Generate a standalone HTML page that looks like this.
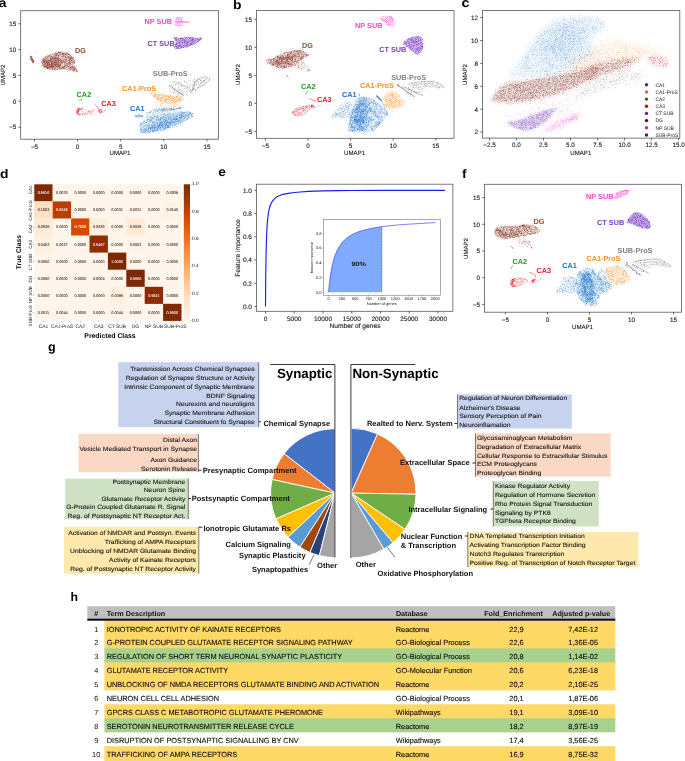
<!DOCTYPE html>
<html><head><meta charset="utf-8"><title>figure</title>
<style>html,body{margin:0;padding:0;background:#fff}svg{display:block;font-family:"Liberation Sans", sans-serif;will-change:transform}svg text{text-rendering:geometricPrecision}</style>
</head><body>
<svg width="685" height="761" viewBox="0 0 685 761" font-family='"Liberation Sans", sans-serif'>
<defs><filter id="bl0" x="-20%" y="-20%" width="140%" height="140%"><feGaussianBlur stdDeviation="0.9"/></filter><filter id="bl1" x="-20%" y="-20%" width="140%" height="140%"><feGaussianBlur stdDeviation="2"/></filter><filter id="bl2" x="-20%" y="-20%" width="140%" height="140%"><feGaussianBlur stdDeviation="3"/></filter><filter id="bl3" x="-20%" y="-20%" width="140%" height="140%"><feGaussianBlur stdDeviation="5"/></filter><filter id="bl4" x="-20%" y="-20%" width="140%" height="140%"><feGaussianBlur stdDeviation="2.5"/></filter><filter id="bl5" x="-20%" y="-20%" width="140%" height="140%"><feGaussianBlur stdDeviation="1.6"/></filter><filter id="bl6" x="-20%" y="-20%" width="140%" height="140%"><feGaussianBlur stdDeviation="1.3"/></filter><filter id="bl7" x="-20%" y="-20%" width="140%" height="140%"><feGaussianBlur stdDeviation="1.8"/></filter><filter id="sc0" x="-15%" y="-15%" width="130%" height="130%" color-interpolation-filters="sRGB"><feGaussianBlur in="SourceAlpha" stdDeviation="0.7" result="d"/><feTurbulence type="fractalNoise" baseFrequency="2.63" numOctaves="1" seed="3" result="t"/><feColorMatrix in="t" type="matrix" values="0 0 0 0 0 0 0 0 0 0 0 0 0 0 0 1 0 0 0 0" result="n"/><feTurbulence type="fractalNoise" baseFrequency="0.3" numOctaves="2" seed="43" result="t2"/><feColorMatrix in="t2" type="matrix" values="0 0 0 0 0 0 0 0 0 0 0 0 0 0 0 1 0 0 0 0" result="m"/><feComposite in="n" in2="m" operator="arithmetic" k1="0" k2="1" k3="0.4" k4="-0.200" result="n2"/><feComposite in="d" in2="n2" operator="arithmetic" k1="0" k2="1.256" k3="2.000" k4="-1.840" result="a"/><feMorphology in="SourceGraphic" operator="dilate" radius="2" result="c"/><feComposite in="c" in2="a" operator="in"/></filter><filter id="sc1" x="-15%" y="-15%" width="130%" height="130%" color-interpolation-filters="sRGB"><feGaussianBlur in="SourceAlpha" stdDeviation="1.5" result="d"/><feTurbulence type="fractalNoise" baseFrequency="2.63" numOctaves="1" seed="9" result="t"/><feColorMatrix in="t" type="matrix" values="0 0 0 0 0 0 0 0 0 0 0 0 0 0 0 1 0 0 0 0" result="n"/><feComposite in="d" in2="n" operator="arithmetic" k1="0" k2="0.782" k3="2.000" k4="-1.440" result="a"/><feMorphology in="SourceGraphic" operator="dilate" radius="2" result="c"/><feComposite in="c" in2="a" operator="in"/></filter><filter id="sc2" x="-15%" y="-15%" width="130%" height="130%" color-interpolation-filters="sRGB"><feGaussianBlur in="SourceAlpha" stdDeviation="0.5" result="d"/><feTurbulence type="fractalNoise" baseFrequency="2.63" numOctaves="1" seed="3" result="t"/><feColorMatrix in="t" type="matrix" values="0 0 0 0 0 0 0 0 0 0 0 0 0 0 0 1 0 0 0 0" result="n"/><feComposite in="d" in2="n" operator="arithmetic" k1="0" k2="1.150" k3="2.000" k4="-1.440" result="a"/><feMorphology in="SourceGraphic" operator="dilate" radius="2" result="c"/><feComposite in="c" in2="a" operator="in"/></filter><filter id="sc3" x="-15%" y="-15%" width="130%" height="130%" color-interpolation-filters="sRGB"><feGaussianBlur in="SourceAlpha" stdDeviation="0.5" result="d"/><feTurbulence type="fractalNoise" baseFrequency="2.63" numOctaves="1" seed="3" result="t"/><feColorMatrix in="t" type="matrix" values="0 0 0 0 0 0 0 0 0 0 0 0 0 0 0 1 0 0 0 0" result="n"/><feComposite in="d" in2="n" operator="arithmetic" k1="0" k2="0.944" k3="2.000" k4="-1.440" result="a"/><feMorphology in="SourceGraphic" operator="dilate" radius="2" result="c"/><feComposite in="c" in2="a" operator="in"/></filter><filter id="sc4" x="-15%" y="-15%" width="130%" height="130%" color-interpolation-filters="sRGB"><feGaussianBlur in="SourceAlpha" stdDeviation="0.7" result="d"/><feTurbulence type="fractalNoise" baseFrequency="2.63" numOctaves="1" seed="8" result="t"/><feColorMatrix in="t" type="matrix" values="0 0 0 0 0 0 0 0 0 0 0 0 0 0 0 1 0 0 0 0" result="n"/><feComposite in="d" in2="n" operator="arithmetic" k1="0" k2="0.476" k3="2.000" k4="-1.440" result="a"/><feMorphology in="SourceGraphic" operator="dilate" radius="2" result="c"/><feComposite in="c" in2="a" operator="in"/></filter><filter id="sc5" x="-15%" y="-15%" width="130%" height="130%" color-interpolation-filters="sRGB"><feGaussianBlur in="SourceAlpha" stdDeviation="0.5" result="d"/><feTurbulence type="fractalNoise" baseFrequency="2.63" numOctaves="1" seed="3" result="t"/><feColorMatrix in="t" type="matrix" values="0 0 0 0 0 0 0 0 0 0 0 0 0 0 0 1 0 0 0 0" result="n"/><feComposite in="d" in2="n" operator="arithmetic" k1="0" k2="0.782" k3="2.000" k4="-1.440" result="a"/><feMorphology in="SourceGraphic" operator="dilate" radius="2" result="c"/><feComposite in="c" in2="a" operator="in"/></filter><filter id="sc6" x="-15%" y="-15%" width="130%" height="130%" color-interpolation-filters="sRGB"><feGaussianBlur in="SourceAlpha" stdDeviation="0.7" result="d"/><feTurbulence type="fractalNoise" baseFrequency="2.63" numOctaves="1" seed="3" result="t"/><feColorMatrix in="t" type="matrix" values="0 0 0 0 0 0 0 0 0 0 0 0 0 0 0 1 0 0 0 0" result="n"/><feComposite in="d" in2="n" operator="arithmetic" k1="0" k2="0.682" k3="2.000" k4="-1.440" result="a"/><feMorphology in="SourceGraphic" operator="dilate" radius="2" result="c"/><feComposite in="c" in2="a" operator="in"/></filter><filter id="sc7" x="-15%" y="-15%" width="130%" height="130%" color-interpolation-filters="sRGB"><feGaussianBlur in="SourceAlpha" stdDeviation="1.3" result="d"/><feTurbulence type="fractalNoise" baseFrequency="2.63" numOctaves="1" seed="11" result="t"/><feColorMatrix in="t" type="matrix" values="0 0 0 0 0 0 0 0 0 0 0 0 0 0 0 1 0 0 0 0" result="n"/><feComposite in="d" in2="n" operator="arithmetic" k1="0" k2="0.608" k3="2.000" k4="-1.440" result="a"/><feMorphology in="SourceGraphic" operator="dilate" radius="2" result="c"/><feComposite in="c" in2="a" operator="in"/></filter><filter id="sc8" x="-15%" y="-15%" width="130%" height="130%" color-interpolation-filters="sRGB"><feGaussianBlur in="SourceAlpha" stdDeviation="0.5" result="d"/><feTurbulence type="fractalNoise" baseFrequency="2.63" numOctaves="1" seed="5" result="t"/><feColorMatrix in="t" type="matrix" values="0 0 0 0 0 0 0 0 0 0 0 0 0 0 0 1 0 0 0 0" result="n"/><feComposite in="d" in2="n" operator="arithmetic" k1="0" k2="0.634" k3="2.000" k4="-1.440" result="a"/><feMorphology in="SourceGraphic" operator="dilate" radius="2" result="c"/><feComposite in="c" in2="a" operator="in"/></filter><filter id="sc9" x="-15%" y="-15%" width="130%" height="130%" color-interpolation-filters="sRGB"><feGaussianBlur in="SourceAlpha" stdDeviation="0.5" result="d"/><feTurbulence type="fractalNoise" baseFrequency="2.63" numOctaves="1" seed="7" result="t"/><feColorMatrix in="t" type="matrix" values="0 0 0 0 0 0 0 0 0 0 0 0 0 0 0 1 0 0 0 0" result="n"/><feComposite in="d" in2="n" operator="arithmetic" k1="0" k2="0.608" k3="2.000" k4="-1.440" result="a"/><feMorphology in="SourceGraphic" operator="dilate" radius="2" result="c"/><feComposite in="c" in2="a" operator="in"/></filter><filter id="sc10" x="-15%" y="-15%" width="130%" height="130%" color-interpolation-filters="sRGB"><feGaussianBlur in="SourceAlpha" stdDeviation="0.5" result="d"/><feTurbulence type="fractalNoise" baseFrequency="2.63" numOctaves="1" seed="3" result="t"/><feColorMatrix in="t" type="matrix" values="0 0 0 0 0 0 0 0 0 0 0 0 0 0 0 1 0 0 0 0" result="n"/><feComposite in="d" in2="n" operator="arithmetic" k1="0" k2="0.834" k3="2.000" k4="-1.440" result="a"/><feMorphology in="SourceGraphic" operator="dilate" radius="2" result="c"/><feComposite in="c" in2="a" operator="in"/></filter><filter id="sc11" x="-15%" y="-15%" width="130%" height="130%" color-interpolation-filters="sRGB"><feGaussianBlur in="SourceAlpha" stdDeviation="0.5" result="d"/><feTurbulence type="fractalNoise" baseFrequency="2.63" numOctaves="1" seed="6" result="t"/><feColorMatrix in="t" type="matrix" values="0 0 0 0 0 0 0 0 0 0 0 0 0 0 0 1 0 0 0 0" result="n"/><feComposite in="d" in2="n" operator="arithmetic" k1="0" k2="0.682" k3="2.000" k4="-1.440" result="a"/><feMorphology in="SourceGraphic" operator="dilate" radius="2" result="c"/><feComposite in="c" in2="a" operator="in"/></filter><filter id="sc12" x="-15%" y="-15%" width="130%" height="130%" color-interpolation-filters="sRGB"><feGaussianBlur in="SourceAlpha" stdDeviation="0.7" result="d"/><feTurbulence type="fractalNoise" baseFrequency="2.63" numOctaves="1" seed="3" result="t"/><feColorMatrix in="t" type="matrix" values="0 0 0 0 0 0 0 0 0 0 0 0 0 0 0 1 0 0 0 0" result="n"/><feComposite in="d" in2="n" operator="arithmetic" k1="0" k2="0.730" k3="2.000" k4="-1.440" result="a"/><feMorphology in="SourceGraphic" operator="dilate" radius="2" result="c"/><feComposite in="c" in2="a" operator="in"/></filter><filter id="sc13" x="-15%" y="-15%" width="130%" height="130%" color-interpolation-filters="sRGB"><feGaussianBlur in="SourceAlpha" stdDeviation="0.7" result="d"/><feTurbulence type="fractalNoise" baseFrequency="2.63" numOctaves="1" seed="8" result="t"/><feColorMatrix in="t" type="matrix" values="0 0 0 0 0 0 0 0 0 0 0 0 0 0 0 1 0 0 0 0" result="n"/><feComposite in="d" in2="n" operator="arithmetic" k1="0" k2="0.430" k3="2.000" k4="-1.440" result="a"/><feMorphology in="SourceGraphic" operator="dilate" radius="2" result="c"/><feComposite in="c" in2="a" operator="in"/></filter><filter id="sc14" x="-15%" y="-15%" width="130%" height="130%" color-interpolation-filters="sRGB"><feGaussianBlur in="SourceAlpha" stdDeviation="0.7" result="d"/><feTurbulence type="fractalNoise" baseFrequency="2.63" numOctaves="1" seed="3" result="t"/><feColorMatrix in="t" type="matrix" values="0 0 0 0 0 0 0 0 0 0 0 0 0 0 0 1 0 0 0 0" result="n"/><feComposite in="d" in2="n" operator="arithmetic" k1="0" k2="0.384" k3="2.000" k4="-1.440" result="a"/><feMorphology in="SourceGraphic" operator="dilate" radius="2" result="c"/><feComposite in="c" in2="a" operator="in"/></filter><filter id="sc15" x="-15%" y="-15%" width="130%" height="130%" color-interpolation-filters="sRGB"><feGaussianBlur in="SourceAlpha" stdDeviation="0.7" result="d"/><feTurbulence type="fractalNoise" baseFrequency="2.63" numOctaves="1" seed="3" result="t"/><feColorMatrix in="t" type="matrix" values="0 0 0 0 0 0 0 0 0 0 0 0 0 0 0 1 0 0 0 0" result="n"/><feComposite in="d" in2="n" operator="arithmetic" k1="0" k2="0.658" k3="2.000" k4="-1.440" result="a"/><feMorphology in="SourceGraphic" operator="dilate" radius="2" result="c"/><feComposite in="c" in2="a" operator="in"/></filter><filter id="sc16" x="-15%" y="-15%" width="130%" height="130%" color-interpolation-filters="sRGB"><feGaussianBlur in="SourceAlpha" stdDeviation="0.7" result="d"/><feTurbulence type="fractalNoise" baseFrequency="2.63" numOctaves="1" seed="3" result="t"/><feColorMatrix in="t" type="matrix" values="0 0 0 0 0 0 0 0 0 0 0 0 0 0 0 1 0 0 0 0" result="n"/><feComposite in="d" in2="n" operator="arithmetic" k1="0" k2="0.966" k3="2.000" k4="-1.440" result="a"/><feMorphology in="SourceGraphic" operator="dilate" radius="2" result="c"/><feComposite in="c" in2="a" operator="in"/></filter><filter id="sc17" x="-15%" y="-15%" width="130%" height="130%" color-interpolation-filters="sRGB"><feGaussianBlur in="SourceAlpha" stdDeviation="0.7" result="d"/><feTurbulence type="fractalNoise" baseFrequency="2.63" numOctaves="1" seed="3" result="t"/><feColorMatrix in="t" type="matrix" values="0 0 0 0 0 0 0 0 0 0 0 0 0 0 0 1 0 0 0 0" result="n"/><feTurbulence type="fractalNoise" baseFrequency="0.3" numOctaves="2" seed="43" result="t2"/><feColorMatrix in="t2" type="matrix" values="0 0 0 0 0 0 0 0 0 0 0 0 0 0 0 1 0 0 0 0" result="m"/><feComposite in="n" in2="m" operator="arithmetic" k1="0" k2="1" k3="0.4" k4="-0.200" result="n2"/><feComposite in="d" in2="n2" operator="arithmetic" k1="0" k2="1.172" k3="2.000" k4="-1.840" result="a"/><feMorphology in="SourceGraphic" operator="dilate" radius="2" result="c"/><feComposite in="c" in2="a" operator="in"/></filter><filter id="sc18" x="-15%" y="-15%" width="130%" height="130%" color-interpolation-filters="sRGB"><feGaussianBlur in="SourceAlpha" stdDeviation="1.5" result="d"/><feTurbulence type="fractalNoise" baseFrequency="2.63" numOctaves="1" seed="9" result="t"/><feColorMatrix in="t" type="matrix" values="0 0 0 0 0 0 0 0 0 0 0 0 0 0 0 1 0 0 0 0" result="n"/><feComposite in="d" in2="n" operator="arithmetic" k1="0" k2="0.670" k3="2.000" k4="-1.440" result="a"/><feMorphology in="SourceGraphic" operator="dilate" radius="2" result="c"/><feComposite in="c" in2="a" operator="in"/></filter><filter id="sc19" x="-15%" y="-15%" width="130%" height="130%" color-interpolation-filters="sRGB"><feGaussianBlur in="SourceAlpha" stdDeviation="1.0" result="d"/><feTurbulence type="fractalNoise" baseFrequency="2.63" numOctaves="1" seed="8" result="t"/><feColorMatrix in="t" type="matrix" values="0 0 0 0 0 0 0 0 0 0 0 0 0 0 0 1 0 0 0 0" result="n"/><feComposite in="d" in2="n" operator="arithmetic" k1="0" k2="0.504" k3="2.000" k4="-1.440" result="a"/><feMorphology in="SourceGraphic" operator="dilate" radius="2" result="c"/><feComposite in="c" in2="a" operator="in"/></filter><filter id="sc20" x="-15%" y="-15%" width="130%" height="130%" color-interpolation-filters="sRGB"><feGaussianBlur in="SourceAlpha" stdDeviation="0.5" result="d"/><feTurbulence type="fractalNoise" baseFrequency="2.63" numOctaves="1" seed="3" result="t"/><feColorMatrix in="t" type="matrix" values="0 0 0 0 0 0 0 0 0 0 0 0 0 0 0 1 0 0 0 0" result="n"/><feComposite in="d" in2="n" operator="arithmetic" k1="0" k2="0.530" k3="2.000" k4="-1.440" result="a"/><feMorphology in="SourceGraphic" operator="dilate" radius="2" result="c"/><feComposite in="c" in2="a" operator="in"/></filter><filter id="sc21" x="-15%" y="-15%" width="130%" height="130%" color-interpolation-filters="sRGB"><feGaussianBlur in="SourceAlpha" stdDeviation="0.7" result="d"/><feTurbulence type="fractalNoise" baseFrequency="2.63" numOctaves="1" seed="3" result="t"/><feColorMatrix in="t" type="matrix" values="0 0 0 0 0 0 0 0 0 0 0 0 0 0 0 1 0 0 0 0" result="n"/><feTurbulence type="fractalNoise" baseFrequency="0.22" numOctaves="2" seed="43" result="t2"/><feColorMatrix in="t2" type="matrix" values="0 0 0 0 0 0 0 0 0 0 0 0 0 0 0 1 0 0 0 0" result="m"/><feComposite in="n" in2="m" operator="arithmetic" k1="0" k2="1" k3="0.5" k4="-0.250" result="n2"/><feComposite in="d" in2="n2" operator="arithmetic" k1="0" k2="1.108" k3="2.000" k4="-1.940" result="a"/><feMorphology in="SourceGraphic" operator="dilate" radius="2" result="c"/><feComposite in="c" in2="a" operator="in"/></filter><filter id="sc22" x="-15%" y="-15%" width="130%" height="130%" color-interpolation-filters="sRGB"><feGaussianBlur in="SourceAlpha" stdDeviation="2.0" result="d"/><feTurbulence type="fractalNoise" baseFrequency="2.63" numOctaves="1" seed="11" result="t"/><feColorMatrix in="t" type="matrix" values="0 0 0 0 0 0 0 0 0 0 0 0 0 0 0 1 0 0 0 0" result="n"/><feTurbulence type="fractalNoise" baseFrequency="0.3" numOctaves="2" seed="51" result="t2"/><feColorMatrix in="t2" type="matrix" values="0 0 0 0 0 0 0 0 0 0 0 0 0 0 0 1 0 0 0 0" result="m"/><feComposite in="n" in2="m" operator="arithmetic" k1="0" k2="1" k3="0.6" k4="-0.300" result="n2"/><feComposite in="d" in2="n2" operator="arithmetic" k1="0" k2="1.392" k3="2.000" k4="-2.040" result="a"/><feMorphology in="SourceGraphic" operator="dilate" radius="2" result="c"/><feComposite in="c" in2="a" operator="in"/></filter><filter id="sc23" x="-15%" y="-15%" width="130%" height="130%" color-interpolation-filters="sRGB"><feGaussianBlur in="SourceAlpha" stdDeviation="2.0" result="d"/><feTurbulence type="fractalNoise" baseFrequency="2.63" numOctaves="1" seed="12" result="t"/><feColorMatrix in="t" type="matrix" values="0 0 0 0 0 0 0 0 0 0 0 0 0 0 0 1 0 0 0 0" result="n"/><feComposite in="d" in2="n" operator="arithmetic" k1="0" k2="0.544" k3="2.000" k4="-1.440" result="a"/><feMorphology in="SourceGraphic" operator="dilate" radius="2" result="c"/><feComposite in="c" in2="a" operator="in"/></filter><filter id="sc24" x="-15%" y="-15%" width="130%" height="130%" color-interpolation-filters="sRGB"><feGaussianBlur in="SourceAlpha" stdDeviation="0.7" result="d"/><feTurbulence type="fractalNoise" baseFrequency="2.63" numOctaves="1" seed="3" result="t"/><feColorMatrix in="t" type="matrix" values="0 0 0 0 0 0 0 0 0 0 0 0 0 0 0 1 0 0 0 0" result="n"/><feComposite in="d" in2="n" operator="arithmetic" k1="0" k2="0.530" k3="2.000" k4="-1.440" result="a"/><feMorphology in="SourceGraphic" operator="dilate" radius="2" result="c"/><feComposite in="c" in2="a" operator="in"/></filter><filter id="sc25" x="-15%" y="-15%" width="130%" height="130%" color-interpolation-filters="sRGB"><feGaussianBlur in="SourceAlpha" stdDeviation="1.2" result="d"/><feTurbulence type="fractalNoise" baseFrequency="2.63" numOctaves="1" seed="3" result="t"/><feColorMatrix in="t" type="matrix" values="0 0 0 0 0 0 0 0 0 0 0 0 0 0 0 1 0 0 0 0" result="n"/><feComposite in="d" in2="n" operator="arithmetic" k1="0" k2="0.658" k3="2.000" k4="-1.440" result="a"/><feMorphology in="SourceGraphic" operator="dilate" radius="2" result="c"/><feComposite in="c" in2="a" operator="in"/></filter><filter id="sc26" x="-15%" y="-15%" width="130%" height="130%" color-interpolation-filters="sRGB"><feGaussianBlur in="SourceAlpha" stdDeviation="1.2" result="d"/><feTurbulence type="fractalNoise" baseFrequency="2.63" numOctaves="1" seed="8" result="t"/><feColorMatrix in="t" type="matrix" values="0 0 0 0 0 0 0 0 0 0 0 0 0 0 0 1 0 0 0 0" result="n"/><feComposite in="d" in2="n" operator="arithmetic" k1="0" k2="0.476" k3="2.000" k4="-1.440" result="a"/><feMorphology in="SourceGraphic" operator="dilate" radius="2" result="c"/><feComposite in="c" in2="a" operator="in"/></filter><filter id="sc27" x="-15%" y="-15%" width="130%" height="130%" color-interpolation-filters="sRGB"><feGaussianBlur in="SourceAlpha" stdDeviation="0.7" result="d"/><feTurbulence type="fractalNoise" baseFrequency="2.63" numOctaves="1" seed="3" result="t"/><feColorMatrix in="t" type="matrix" values="0 0 0 0 0 0 0 0 0 0 0 0 0 0 0 1 0 0 0 0" result="n"/><feComposite in="d" in2="n" operator="arithmetic" k1="0" k2="0.634" k3="2.000" k4="-1.440" result="a"/><feMorphology in="SourceGraphic" operator="dilate" radius="2" result="c"/><feComposite in="c" in2="a" operator="in"/></filter><filter id="sc28" x="-15%" y="-15%" width="130%" height="130%" color-interpolation-filters="sRGB"><feGaussianBlur in="SourceAlpha" stdDeviation="3" result="d"/><feTurbulence type="fractalNoise" baseFrequency="2.63" numOctaves="1" seed="21" result="t"/><feColorMatrix in="t" type="matrix" values="0 0 0 0 0 0 0 0 0 0 0 0 0 0 0 1 0 0 0 0" result="n"/><feComposite in="d" in2="n" operator="arithmetic" k1="0" k2="0.280" k3="2.000" k4="-1.440" result="a"/><feMorphology in="SourceGraphic" operator="dilate" radius="2" result="c"/><feComposite in="c" in2="a" operator="in"/></filter><filter id="sc29" x="-15%" y="-15%" width="130%" height="130%" color-interpolation-filters="sRGB"><feGaussianBlur in="SourceAlpha" stdDeviation="2.5" result="d"/><feTurbulence type="fractalNoise" baseFrequency="2.63" numOctaves="1" seed="3" result="t"/><feColorMatrix in="t" type="matrix" values="0 0 0 0 0 0 0 0 0 0 0 0 0 0 0 1 0 0 0 0" result="n"/><feComposite in="d" in2="n" operator="arithmetic" k1="0" k2="0.430" k3="2.000" k4="-1.440" result="a"/><feMorphology in="SourceGraphic" operator="dilate" radius="2" result="c"/><feComposite in="c" in2="a" operator="in"/></filter><filter id="sc30" x="-15%" y="-15%" width="130%" height="130%" color-interpolation-filters="sRGB"><feGaussianBlur in="SourceAlpha" stdDeviation="5" result="d"/><feTurbulence type="fractalNoise" baseFrequency="2.63" numOctaves="1" seed="11" result="t"/><feColorMatrix in="t" type="matrix" values="0 0 0 0 0 0 0 0 0 0 0 0 0 0 0 1 0 0 0 0" result="n"/><feComposite in="d" in2="n" operator="arithmetic" k1="0" k2="0.406" k3="2.000" k4="-1.440" result="a"/><feMorphology in="SourceGraphic" operator="dilate" radius="2" result="c"/><feComposite in="c" in2="a" operator="in"/></filter><filter id="sc31" x="-15%" y="-15%" width="130%" height="130%" color-interpolation-filters="sRGB"><feGaussianBlur in="SourceAlpha" stdDeviation="2.5" result="d"/><feTurbulence type="fractalNoise" baseFrequency="2.63" numOctaves="1" seed="3" result="t"/><feColorMatrix in="t" type="matrix" values="0 0 0 0 0 0 0 0 0 0 0 0 0 0 0 1 0 0 0 0" result="n"/><feComposite in="d" in2="n" operator="arithmetic" k1="0" k2="0.406" k3="2.000" k4="-1.440" result="a"/><feMorphology in="SourceGraphic" operator="dilate" radius="2" result="c"/><feComposite in="c" in2="a" operator="in"/></filter><filter id="sc32" x="-15%" y="-15%" width="130%" height="130%" color-interpolation-filters="sRGB"><feGaussianBlur in="SourceAlpha" stdDeviation="2.5" result="d"/><feTurbulence type="fractalNoise" baseFrequency="2.63" numOctaves="1" seed="3" result="t"/><feColorMatrix in="t" type="matrix" values="0 0 0 0 0 0 0 0 0 0 0 0 0 0 0 1 0 0 0 0" result="n"/><feComposite in="d" in2="n" operator="arithmetic" k1="0" k2="0.384" k3="2.000" k4="-1.440" result="a"/><feMorphology in="SourceGraphic" operator="dilate" radius="2" result="c"/><feComposite in="c" in2="a" operator="in"/></filter><filter id="sc33" x="-15%" y="-15%" width="130%" height="130%" color-interpolation-filters="sRGB"><feGaussianBlur in="SourceAlpha" stdDeviation="2.5" result="d"/><feTurbulence type="fractalNoise" baseFrequency="2.63" numOctaves="1" seed="3" result="t"/><feColorMatrix in="t" type="matrix" values="0 0 0 0 0 0 0 0 0 0 0 0 0 0 0 1 0 0 0 0" result="n"/><feComposite in="d" in2="n" operator="arithmetic" k1="0" k2="0.476" k3="2.000" k4="-1.440" result="a"/><feMorphology in="SourceGraphic" operator="dilate" radius="2" result="c"/><feComposite in="c" in2="a" operator="in"/></filter><filter id="sc34" x="-15%" y="-15%" width="130%" height="130%" color-interpolation-filters="sRGB"><feGaussianBlur in="SourceAlpha" stdDeviation="1.3" result="d"/><feTurbulence type="fractalNoise" baseFrequency="2.63" numOctaves="1" seed="9" result="t"/><feColorMatrix in="t" type="matrix" values="0 0 0 0 0 0 0 0 0 0 0 0 0 0 0 1 0 0 0 0" result="n"/><feComposite in="d" in2="n" operator="arithmetic" k1="0" k2="0.544" k3="2.000" k4="-1.440" result="a"/><feMorphology in="SourceGraphic" operator="dilate" radius="2" result="c"/><feComposite in="c" in2="a" operator="in"/></filter><filter id="sc35" x="-15%" y="-15%" width="130%" height="130%" color-interpolation-filters="sRGB"><feGaussianBlur in="SourceAlpha" stdDeviation="1.8" result="d"/><feTurbulence type="fractalNoise" baseFrequency="2.63" numOctaves="1" seed="10" result="t"/><feColorMatrix in="t" type="matrix" values="0 0 0 0 0 0 0 0 0 0 0 0 0 0 0 1 0 0 0 0" result="n"/><feComposite in="d" in2="n" operator="arithmetic" k1="0" k2="0.476" k3="2.000" k4="-1.440" result="a"/><feMorphology in="SourceGraphic" operator="dilate" radius="2" result="c"/><feComposite in="c" in2="a" operator="in"/></filter><filter id="sc36" x="-15%" y="-15%" width="130%" height="130%" color-interpolation-filters="sRGB"><feGaussianBlur in="SourceAlpha" stdDeviation="1.8" result="d"/><feTurbulence type="fractalNoise" baseFrequency="2.63" numOctaves="1" seed="3" result="t"/><feColorMatrix in="t" type="matrix" values="0 0 0 0 0 0 0 0 0 0 0 0 0 0 0 1 0 0 0 0" result="n"/><feComposite in="d" in2="n" operator="arithmetic" k1="0" k2="0.490" k3="2.000" k4="-1.440" result="a"/><feMorphology in="SourceGraphic" operator="dilate" radius="2" result="c"/><feComposite in="c" in2="a" operator="in"/></filter><filter id="sc37" x="-15%" y="-15%" width="130%" height="130%" color-interpolation-filters="sRGB"><feGaussianBlur in="SourceAlpha" stdDeviation="1.0" result="d"/><feTurbulence type="fractalNoise" baseFrequency="2.63" numOctaves="1" seed="3" result="t"/><feColorMatrix in="t" type="matrix" values="0 0 0 0 0 0 0 0 0 0 0 0 0 0 0 1 0 0 0 0" result="n"/><feComposite in="d" in2="n" operator="arithmetic" k1="0" k2="0.658" k3="2.000" k4="-1.440" result="a"/><feMorphology in="SourceGraphic" operator="dilate" radius="2" result="c"/><feComposite in="c" in2="a" operator="in"/></filter><filter id="sc38" x="-15%" y="-15%" width="130%" height="130%" color-interpolation-filters="sRGB"><feGaussianBlur in="SourceAlpha" stdDeviation="3" result="d"/><feTurbulence type="fractalNoise" baseFrequency="2.63" numOctaves="1" seed="22" result="t"/><feColorMatrix in="t" type="matrix" values="0 0 0 0 0 0 0 0 0 0 0 0 0 0 0 1 0 0 0 0" result="n"/><feComposite in="d" in2="n" operator="arithmetic" k1="0" k2="0.320" k3="2.000" k4="-1.440" result="a"/><feMorphology in="SourceGraphic" operator="dilate" radius="2" result="c"/><feComposite in="c" in2="a" operator="in"/></filter><filter id="sc39" x="-15%" y="-15%" width="130%" height="130%" color-interpolation-filters="sRGB"><feGaussianBlur in="SourceAlpha" stdDeviation="1.6" result="d"/><feTurbulence type="fractalNoise" baseFrequency="2.63" numOctaves="1" seed="3" result="t"/><feColorMatrix in="t" type="matrix" values="0 0 0 0 0 0 0 0 0 0 0 0 0 0 0 1 0 0 0 0" result="n"/><feComposite in="d" in2="n" operator="arithmetic" k1="0" k2="0.490" k3="2.000" k4="-1.440" result="a"/><feMorphology in="SourceGraphic" operator="dilate" radius="2" result="c"/><feComposite in="c" in2="a" operator="in"/></filter><filter id="sc40" x="-15%" y="-15%" width="130%" height="130%" color-interpolation-filters="sRGB"><feGaussianBlur in="SourceAlpha" stdDeviation="1.2" result="d"/><feTurbulence type="fractalNoise" baseFrequency="2.63" numOctaves="1" seed="12" result="t"/><feColorMatrix in="t" type="matrix" values="0 0 0 0 0 0 0 0 0 0 0 0 0 0 0 1 0 0 0 0" result="n"/><feComposite in="d" in2="n" operator="arithmetic" k1="0" k2="0.504" k3="2.000" k4="-1.440" result="a"/><feMorphology in="SourceGraphic" operator="dilate" radius="2" result="c"/><feComposite in="c" in2="a" operator="in"/></filter><filter id="sc41" x="-15%" y="-15%" width="130%" height="130%" color-interpolation-filters="sRGB"><feGaussianBlur in="SourceAlpha" stdDeviation="3" result="d"/><feTurbulence type="fractalNoise" baseFrequency="2.63" numOctaves="1" seed="23" result="t"/><feColorMatrix in="t" type="matrix" values="0 0 0 0 0 0 0 0 0 0 0 0 0 0 0 1 0 0 0 0" result="n"/><feComposite in="d" in2="n" operator="arithmetic" k1="0" k2="0.320" k3="2.000" k4="-1.440" result="a"/><feMorphology in="SourceGraphic" operator="dilate" radius="2" result="c"/><feComposite in="c" in2="a" operator="in"/></filter><filter id="sc42" x="-15%" y="-15%" width="130%" height="130%" color-interpolation-filters="sRGB"><feGaussianBlur in="SourceAlpha" stdDeviation="1.2" result="d"/><feTurbulence type="fractalNoise" baseFrequency="2.63" numOctaves="1" seed="9" result="t"/><feColorMatrix in="t" type="matrix" values="0 0 0 0 0 0 0 0 0 0 0 0 0 0 0 1 0 0 0 0" result="n"/><feComposite in="d" in2="n" operator="arithmetic" k1="0" k2="0.670" k3="2.000" k4="-1.440" result="a"/><feMorphology in="SourceGraphic" operator="dilate" radius="2" result="c"/><feComposite in="c" in2="a" operator="in"/></filter><filter id="sc43" x="-15%" y="-15%" width="130%" height="130%" color-interpolation-filters="sRGB"><feGaussianBlur in="SourceAlpha" stdDeviation="0.5" result="d"/><feTurbulence type="fractalNoise" baseFrequency="2.63" numOctaves="1" seed="8" result="t"/><feColorMatrix in="t" type="matrix" values="0 0 0 0 0 0 0 0 0 0 0 0 0 0 0 1 0 0 0 0" result="n"/><feComposite in="d" in2="n" operator="arithmetic" k1="0" k2="0.530" k3="2.000" k4="-1.440" result="a"/><feMorphology in="SourceGraphic" operator="dilate" radius="2" result="c"/><feComposite in="c" in2="a" operator="in"/></filter><filter id="sc44" x="-15%" y="-15%" width="130%" height="130%" color-interpolation-filters="sRGB"><feGaussianBlur in="SourceAlpha" stdDeviation="1.8" result="d"/><feTurbulence type="fractalNoise" baseFrequency="2.63" numOctaves="1" seed="11" result="t"/><feColorMatrix in="t" type="matrix" values="0 0 0 0 0 0 0 0 0 0 0 0 0 0 0 1 0 0 0 0" result="n"/><feTurbulence type="fractalNoise" baseFrequency="0.3" numOctaves="2" seed="51" result="t2"/><feColorMatrix in="t2" type="matrix" values="0 0 0 0 0 0 0 0 0 0 0 0 0 0 0 1 0 0 0 0" result="m"/><feComposite in="n" in2="m" operator="arithmetic" k1="0" k2="1" k3="0.6" k4="-0.300" result="n2"/><feComposite in="d" in2="n2" operator="arithmetic" k1="0" k2="1.434" k3="2.000" k4="-2.040" result="a"/><feMorphology in="SourceGraphic" operator="dilate" radius="2" result="c"/><feComposite in="c" in2="a" operator="in"/></filter><filter id="sc45" x="-15%" y="-15%" width="130%" height="130%" color-interpolation-filters="sRGB"><feGaussianBlur in="SourceAlpha" stdDeviation="0.7" result="d"/><feTurbulence type="fractalNoise" baseFrequency="2.63" numOctaves="1" seed="3" result="t"/><feColorMatrix in="t" type="matrix" values="0 0 0 0 0 0 0 0 0 0 0 0 0 0 0 1 0 0 0 0" result="n"/><feComposite in="d" in2="n" operator="arithmetic" k1="0" k2="0.516" k3="2.000" k4="-1.440" result="a"/><feMorphology in="SourceGraphic" operator="dilate" radius="2" result="c"/><feComposite in="c" in2="a" operator="in"/></filter><filter id="sc46" x="-15%" y="-15%" width="130%" height="130%" color-interpolation-filters="sRGB"><feGaussianBlur in="SourceAlpha" stdDeviation="1.2" result="d"/><feTurbulence type="fractalNoise" baseFrequency="2.63" numOctaves="1" seed="8" result="t"/><feColorMatrix in="t" type="matrix" values="0 0 0 0 0 0 0 0 0 0 0 0 0 0 0 1 0 0 0 0" result="n"/><feComposite in="d" in2="n" operator="arithmetic" k1="0" k2="0.430" k3="2.000" k4="-1.440" result="a"/><feMorphology in="SourceGraphic" operator="dilate" radius="2" result="c"/><feComposite in="c" in2="a" operator="in"/></filter><filter id="sc47" x="-15%" y="-15%" width="130%" height="130%" color-interpolation-filters="sRGB"><feGaussianBlur in="SourceAlpha" stdDeviation="0.7" result="d"/><feTurbulence type="fractalNoise" baseFrequency="2.63" numOctaves="1" seed="3" result="t"/><feColorMatrix in="t" type="matrix" values="0 0 0 0 0 0 0 0 0 0 0 0 0 0 0 1 0 0 0 0" result="n"/><feComposite in="d" in2="n" operator="arithmetic" k1="0" k2="0.814" k3="2.000" k4="-1.440" result="a"/><feMorphology in="SourceGraphic" operator="dilate" radius="2" result="c"/><feComposite in="c" in2="a" operator="in"/></filter></defs>
<rect width="685" height="761" fill="#fff"/>
<text x="-1.2" y="6.9" font-size="12.4" font-weight="bold" textLength="7.7" lengthAdjust="spacingAndGlyphs" fill="#000">a</text>
<rect x="20.7" y="10.7" width="197.7" height="128.5" fill="none" stroke="#595959" stroke-width="0.8"/>
<line x1="34.5" y1="139.2" x2="34.5" y2="141.4" stroke="#333" stroke-width="0.75"/>
<text x="34.5" y="148.5" font-size="6.3" text-anchor="middle" fill="#161616" stroke="#161616" stroke-width="0.1">−5</text>
<line x1="77.6" y1="139.2" x2="77.6" y2="141.4" stroke="#333" stroke-width="0.75"/>
<text x="77.6" y="148.5" font-size="6.3" text-anchor="middle" fill="#161616" stroke="#161616" stroke-width="0.1">0</text>
<line x1="120.7" y1="139.2" x2="120.7" y2="141.4" stroke="#333" stroke-width="0.75"/>
<text x="120.7" y="148.5" font-size="6.3" text-anchor="middle" fill="#161616" stroke="#161616" stroke-width="0.1">5</text>
<line x1="163.8" y1="139.2" x2="163.8" y2="141.4" stroke="#333" stroke-width="0.75"/>
<text x="163.8" y="148.5" font-size="6.3" text-anchor="middle" fill="#161616" stroke="#161616" stroke-width="0.1">10</text>
<line x1="206.9" y1="139.2" x2="206.9" y2="141.4" stroke="#333" stroke-width="0.75"/>
<text x="206.9" y="148.5" font-size="6.3" text-anchor="middle" fill="#161616" stroke="#161616" stroke-width="0.1">15</text>
<line x1="18.5" y1="127.2" x2="20.7" y2="127.2" stroke="#333" stroke-width="0.75"/>
<text x="16.2" y="129.4" font-size="6.3" text-anchor="end" fill="#161616" stroke="#161616" stroke-width="0.1">−5</text>
<line x1="18.5" y1="101.3" x2="20.7" y2="101.3" stroke="#333" stroke-width="0.75"/>
<text x="16.2" y="103.6" font-size="6.3" text-anchor="end" fill="#161616" stroke="#161616" stroke-width="0.1">0</text>
<line x1="18.5" y1="75.4" x2="20.7" y2="75.4" stroke="#333" stroke-width="0.75"/>
<text x="16.2" y="77.7" font-size="6.3" text-anchor="end" fill="#161616" stroke="#161616" stroke-width="0.1">5</text>
<line x1="18.5" y1="49.6" x2="20.7" y2="49.6" stroke="#333" stroke-width="0.75"/>
<text x="16.2" y="51.9" font-size="6.3" text-anchor="end" fill="#161616" stroke="#161616" stroke-width="0.1">10</text>
<line x1="18.5" y1="23.8" x2="20.7" y2="23.8" stroke="#333" stroke-width="0.75"/>
<text x="16.2" y="26.0" font-size="6.3" text-anchor="end" fill="#161616" stroke="#161616" stroke-width="0.1">15</text>
<text x="120.0" y="155.3" font-size="6.1" text-anchor="middle" fill="#161616" stroke="#161616" stroke-width="0.1">UMAP1</text>
<text x="4.8" y="75.0" font-size="6.1" text-anchor="middle" transform="rotate(-90 4.8 75.0)" fill="#161616" stroke="#161616" stroke-width="0.1">UMAP2</text>
<path d="M41.2 61.3C41.5 59.8 42.2 58.1 43.8 56.9C45.4 55.7 47.9 54.9 50.8 54.0C53.7 53.1 58.5 51.5 61.3 51.3C64.1 51.1 65.8 51.9 67.5 52.6C69.2 53.3 70.6 54.7 71.8 55.7C73.0 56.7 73.8 57.6 74.5 58.7C75.2 59.8 75.7 61.2 75.7 62.2C75.7 63.2 74.3 63.6 74.5 64.8C74.7 66.0 76.5 67.9 77.1 69.2C77.7 70.5 78.9 72.0 78.3 72.4C77.7 72.8 75.5 72.2 73.6 71.8C71.6 71.4 68.3 70.5 66.6 70.1C64.8 69.7 64.6 69.2 63.1 69.2C61.6 69.2 59.8 69.9 57.8 70.1C55.8 70.2 52.8 70.4 50.8 70.1C48.8 69.8 47.0 69.0 45.5 68.3C44.0 67.6 42.7 66.9 42.0 65.7C41.3 64.5 40.9 62.8 41.2 61.3Z" fill="#8c3b2e" opacity="0.15" filter="url(#bl0)"/>
<path d="M41.2 61.3C41.5 59.8 42.2 58.1 43.8 56.9C45.4 55.7 47.9 54.9 50.8 54.0C53.7 53.1 58.5 51.5 61.3 51.3C64.1 51.1 65.8 51.9 67.5 52.6C69.2 53.3 70.6 54.7 71.8 55.7C73.0 56.7 73.8 57.6 74.5 58.7C75.2 59.8 75.7 61.2 75.7 62.2C75.7 63.2 74.3 63.6 74.5 64.8C74.7 66.0 76.5 67.9 77.1 69.2C77.7 70.5 78.9 72.0 78.3 72.4C77.7 72.8 75.5 72.2 73.6 71.8C71.6 71.4 68.3 70.5 66.6 70.1C64.8 69.7 64.6 69.2 63.1 69.2C61.6 69.2 59.8 69.9 57.8 70.1C55.8 70.2 52.8 70.4 50.8 70.1C48.8 69.8 47.0 69.0 45.5 68.3C44.0 67.6 42.7 66.9 42.0 65.7C41.3 64.5 40.9 62.8 41.2 61.3Z" fill="#8c3b2e" filter="url(#sc0)"/>
<path d="M61.8 61.8C62.0 62.8 61.5 64.2 60.5 65.3C59.5 66.3 57.7 67.5 56.0 68.1C54.2 68.8 51.8 69.2 49.9 69.2C48.0 69.2 45.9 68.7 44.6 68.1C43.3 67.4 42.3 66.3 42.2 65.2C42.0 64.2 42.5 62.8 43.5 61.7C44.5 60.7 46.3 59.5 48.0 58.9C49.8 58.2 52.2 57.8 54.1 57.8C56.0 57.8 58.1 58.3 59.4 58.9C60.7 59.6 61.7 60.7 61.8 61.8Z" fill="#8c3b2e" opacity="0.15" filter="url(#bl0)"/>
<path d="M61.8 61.8C62.0 62.8 61.5 64.2 60.5 65.3C59.5 66.3 57.7 67.5 56.0 68.1C54.2 68.8 51.8 69.2 49.9 69.2C48.0 69.2 45.9 68.7 44.6 68.1C43.3 67.4 42.3 66.3 42.2 65.2C42.0 64.2 42.5 62.8 43.5 61.7C44.5 60.7 46.3 59.5 48.0 58.9C49.8 58.2 52.2 57.8 54.1 57.8C56.0 57.8 58.1 58.3 59.4 58.9C60.7 59.6 61.7 60.7 61.8 61.8Z" fill="#8c3b2e" filter="url(#sc1)"/>
<path d="M30.1 56.0C30.4 55.7 31.5 55.5 32.0 56.0C32.5 56.5 32.6 58.0 33.0 59.0C33.4 60.0 34.3 61.2 34.4 62.0C34.5 62.8 34.2 63.5 33.8 63.6C33.4 63.7 32.7 63.4 32.2 62.8C31.7 62.2 31.2 60.8 30.8 60.0C30.4 59.2 30.1 58.7 30.0 58.0C29.9 57.3 29.8 56.3 30.1 56.0Z" fill="#8c3b2e" opacity="0.3" filter="url(#bl0)"/>
<path d="M30.1 56.0C30.4 55.7 31.5 55.5 32.0 56.0C32.5 56.5 32.6 58.0 33.0 59.0C33.4 60.0 34.3 61.2 34.4 62.0C34.5 62.8 34.2 63.5 33.8 63.6C33.4 63.7 32.7 63.4 32.2 62.8C31.7 62.2 31.2 60.8 30.8 60.0C30.4 59.2 30.1 58.7 30.0 58.0C29.9 57.3 29.8 56.3 30.1 56.0Z" fill="#8c3b2e" filter="url(#sc2)"/>
<path d="M36.2 51.5C36.3 51.6 36.8 52.2 36.9 52.4" fill="none" stroke="#8c3b2e" stroke-width="0.9" stroke-linecap="butt" opacity="0.75" stroke-dasharray=".8 .5 1.6 .4 .6 .6 2.2 .5"/>
<text x="75.1" y="53.2" font-size="7.3" font-weight="bold" fill="#9c4a3a">DG</text>
<path d="M79.4 100.8C79.9 100.5 81.6 99.1 82.1 98.8" fill="none" stroke="#22a022" stroke-width="0.9" stroke-linecap="butt" opacity="0.94"/>
<text x="76.6" y="97.1" font-size="7.3" font-weight="bold" fill="#1fa01f">CA2</text>
<path d="M76.0 112.0C76.0 111.0 76.3 109.7 77.0 109.0C77.7 108.3 79.0 107.8 80.0 107.6C81.0 107.4 82.8 107.3 83.2 107.6C83.6 107.9 83.0 108.9 82.4 109.4C81.8 109.9 80.3 109.8 79.8 110.4C79.3 111.0 79.0 112.3 79.2 113.0C79.4 113.7 81.1 114.0 81.2 114.4C81.3 114.8 80.7 115.3 80.0 115.4C79.3 115.5 77.9 115.4 77.2 114.8C76.5 114.2 76.0 113.0 76.0 112.0Z" fill="#e8283a" opacity="0.15" filter="url(#bl0)"/>
<path d="M76.0 112.0C76.0 111.0 76.3 109.7 77.0 109.0C77.7 108.3 79.0 107.8 80.0 107.6C81.0 107.4 82.8 107.3 83.2 107.6C83.6 107.9 83.0 108.9 82.4 109.4C81.8 109.9 80.3 109.8 79.8 110.4C79.3 111.0 79.0 112.3 79.2 113.0C79.4 113.7 81.1 114.0 81.2 114.4C81.3 114.8 80.7 115.3 80.0 115.4C79.3 115.5 77.9 115.4 77.2 114.8C76.5 114.2 76.0 113.0 76.0 112.0Z" fill="#e8283a" filter="url(#sc3)"/>
<path d="M80.0 115.6C80.2 114.8 82.5 112.5 84.0 111.5C85.5 110.5 87.3 110.1 89.0 109.8C90.7 109.5 93.1 109.2 94.0 109.4C94.9 109.6 95.3 110.2 94.5 111.0C93.7 111.8 90.9 113.2 89.0 114.0C87.1 114.8 84.5 115.7 83.0 116.0C81.5 116.3 79.8 116.3 80.0 115.6Z" fill="#e8283a" opacity="0.04" filter="url(#bl0)"/>
<path d="M80.0 115.6C80.2 114.8 82.5 112.5 84.0 111.5C85.5 110.5 87.3 110.1 89.0 109.8C90.7 109.5 93.1 109.2 94.0 109.4C94.9 109.6 95.3 110.2 94.5 111.0C93.7 111.8 90.9 113.2 89.0 114.0C87.1 114.8 84.5 115.7 83.0 116.0C81.5 116.3 79.8 116.3 80.0 115.6Z" fill="#e8283a" filter="url(#sc4)"/>
<path d="M82.5 114.8C83.4 114.4 86.1 113.1 88.0 112.4C89.9 111.7 92.9 110.7 93.9 110.4" fill="none" stroke="#e8283a" stroke-width="0.8" stroke-linecap="butt" opacity="0.38" stroke-dasharray="1.3 .5 .7 .4 2 .6 .5 .5"/>
<path d="M81.0 112.5C81.5 112.2 83.1 111.0 84.0 110.5C84.9 110.0 86.1 109.5 86.5 109.3" fill="none" stroke="#e8283a" stroke-width="0.7" stroke-linecap="butt" opacity="0.38" stroke-dasharray=".8 .5 1.6 .4 .6 .6 2.2 .5"/>
<path d="M90.8 114.3C91.0 114.3 91.6 114.3 91.8 114.3" fill="none" stroke="#e8283a" stroke-width="1.0" stroke-linecap="butt" opacity="0.88"/>
<path d="M103.2 111.2C103.2 111.7 103.0 112.2 102.7 112.6C102.3 112.9 101.8 113.2 101.3 113.4C100.7 113.5 100.1 113.5 99.5 113.4C99.0 113.2 98.5 112.9 98.1 112.6C97.8 112.2 97.6 111.7 97.6 111.2C97.6 110.7 97.8 110.2 98.1 109.8C98.5 109.5 99.0 109.2 99.5 109.0C100.1 108.9 100.7 108.9 101.3 109.0C101.8 109.2 102.3 109.5 102.7 109.8C103.0 110.2 103.2 110.7 103.2 111.2Z" fill="#e8283a" opacity="0.08" filter="url(#bl0)"/>
<path d="M103.2 111.2C103.2 111.7 103.0 112.2 102.7 112.6C102.3 112.9 101.8 113.2 101.3 113.4C100.7 113.5 100.1 113.5 99.5 113.4C99.0 113.2 98.5 112.9 98.1 112.6C97.8 112.2 97.6 111.7 97.6 111.2C97.6 110.7 97.8 110.2 98.1 109.8C98.5 109.5 99.0 109.2 99.5 109.0C100.1 108.9 100.7 108.9 101.3 109.0C101.8 109.2 102.3 109.5 102.7 109.8C103.0 110.2 103.2 110.7 103.2 111.2Z" fill="#e8283a" filter="url(#sc5)"/>
<path d="M94.8 104.3C95.1 104.6 96.1 105.6 96.8 106.3C97.5 107.0 98.4 108.2 98.7 108.6" fill="none" stroke="#e8283a" stroke-width="0.8" stroke-linecap="butt" opacity="0.75"/>
<path d="M98.5 108.5C98.6 108.9 98.8 110.2 99.0 111.0C99.2 111.8 99.4 113.1 99.5 113.5" fill="none" stroke="#e8283a" stroke-width="0.8" stroke-linecap="butt" opacity="0.62" stroke-dasharray=".8 .5 1.6 .4 .6 .6 2.2 .5"/>
<path d="M103.3 112.3C103.5 112.0 104.2 111.3 104.6 110.8C105.0 110.3 105.5 109.4 105.7 109.1" fill="none" stroke="#e8283a" stroke-width="0.7" stroke-linecap="butt" opacity="0.62"/>
<text x="101.3" y="106.3" font-size="7.3" font-weight="bold" fill="#e3192b">CA3</text>
<path d="M145.0 118.0C144.7 117.2 146.8 114.9 148.0 113.5C149.2 112.1 150.3 110.6 152.4 109.5C154.5 108.4 157.2 107.3 160.3 107.0C163.4 106.7 167.6 107.6 170.8 107.5C174.0 107.4 177.7 106.3 179.6 106.3C181.5 106.3 182.1 106.9 182.2 107.6C182.3 108.3 181.7 109.7 180.0 110.5C178.3 111.3 175.3 111.8 172.0 112.5C168.7 113.2 163.7 114.0 160.0 115.0C156.3 116.0 152.5 118.0 150.0 118.5C147.5 119.0 145.3 118.8 145.0 118.0Z" fill="#2f7fd0" opacity="0.05" filter="url(#bl0)"/>
<path d="M145.0 118.0C144.7 117.2 146.8 114.9 148.0 113.5C149.2 112.1 150.3 110.6 152.4 109.5C154.5 108.4 157.2 107.3 160.3 107.0C163.4 106.7 167.6 107.6 170.8 107.5C174.0 107.4 177.7 106.3 179.6 106.3C181.5 106.3 182.1 106.9 182.2 107.6C182.3 108.3 181.7 109.7 180.0 110.5C178.3 111.3 175.3 111.8 172.0 112.5C168.7 113.2 163.7 114.0 160.0 115.0C156.3 116.0 152.5 118.0 150.0 118.5C147.5 119.0 145.3 118.8 145.0 118.0Z" fill="#2f7fd0" filter="url(#sc4)"/>
<path d="M139.6 124.5C140.2 123.2 141.3 122.2 143.0 121.0C144.7 119.8 147.2 118.6 150.0 117.5C152.8 116.4 156.7 115.3 160.0 114.5C163.3 113.7 166.7 113.0 170.0 112.5C173.3 112.0 177.0 111.7 180.0 111.5C183.0 111.3 185.9 111.3 188.0 111.5C190.1 111.7 191.9 112.0 192.7 112.8C193.4 113.6 193.3 115.4 192.5 116.5C191.7 117.6 189.9 118.3 188.0 119.5C186.1 120.7 183.7 122.1 181.0 123.5C178.3 124.9 175.2 126.5 172.0 127.8C168.8 129.1 165.7 130.3 162.0 131.2C158.3 132.1 153.6 132.7 150.0 133.0C146.4 133.3 142.2 133.7 140.5 133.0C138.8 132.3 139.7 130.4 139.5 129.0C139.3 127.6 139.0 125.8 139.6 124.5Z" fill="#2f7fd0" opacity="0.11" filter="url(#bl0)"/>
<path d="M139.6 124.5C140.2 123.2 141.3 122.2 143.0 121.0C144.7 119.8 147.2 118.6 150.0 117.5C152.8 116.4 156.7 115.3 160.0 114.5C163.3 113.7 166.7 113.0 170.0 112.5C173.3 112.0 177.0 111.7 180.0 111.5C183.0 111.3 185.9 111.3 188.0 111.5C190.1 111.7 191.9 112.0 192.7 112.8C193.4 113.6 193.3 115.4 192.5 116.5C191.7 117.6 189.9 118.3 188.0 119.5C186.1 120.7 183.7 122.1 181.0 123.5C178.3 124.9 175.2 126.5 172.0 127.8C168.8 129.1 165.7 130.3 162.0 131.2C158.3 132.1 153.6 132.7 150.0 133.0C146.4 133.3 142.2 133.7 140.5 133.0C138.8 132.3 139.7 130.4 139.5 129.0C139.3 127.6 139.0 125.8 139.6 124.5Z" fill="#2f7fd0" filter="url(#sc6)"/>
<path d="M189.0 114.3C189.3 115.1 188.0 116.8 185.6 118.4C183.3 120.1 179.1 122.4 175.0 124.2C170.9 126.0 165.4 128.1 161.1 129.4C156.8 130.7 152.1 131.7 149.3 132.0C146.4 132.3 144.3 131.9 144.0 131.1C143.7 130.3 145.0 128.6 147.4 127.0C149.7 125.3 153.9 123.0 158.0 121.2C162.1 119.4 167.6 117.3 171.9 116.0C176.2 114.7 180.9 113.7 183.7 113.4C186.6 113.1 188.7 113.5 189.0 114.3Z" fill="#2f7fd0" opacity="0.08" filter="url(#bl0)"/>
<path d="M189.0 114.3C189.3 115.1 188.0 116.8 185.6 118.4C183.3 120.1 179.1 122.4 175.0 124.2C170.9 126.0 165.4 128.1 161.1 129.4C156.8 130.7 152.1 131.7 149.3 132.0C146.4 132.3 144.3 131.9 144.0 131.1C143.7 130.3 145.0 128.6 147.4 127.0C149.7 125.3 153.9 123.0 158.0 121.2C162.1 119.4 167.6 117.3 171.9 116.0C176.2 114.7 180.9 113.7 183.7 113.4C186.6 113.1 188.7 113.5 189.0 114.3Z" fill="#2f7fd0" filter="url(#sc7)"/>
<path d="M142.1 130.2C142.2 130.4 140.1 131.2 143.2 130.6C146.2 130.0 154.8 128.2 160.3 126.5C165.9 124.9 171.6 122.4 176.4 120.5C181.2 118.6 187.0 116.1 189.2 115.1C191.5 114.0 189.9 114.4 189.8 114.2C189.7 114.0 191.2 113.2 188.8 113.9C186.4 114.6 180.5 116.7 175.6 118.5C170.8 120.2 165.1 122.6 159.7 124.5C154.2 126.3 145.8 128.5 142.8 129.4C139.9 130.4 142.1 130.0 142.1 130.2Z" fill="#2f7fd0" filter="url(#sc8)"/>
<path d="M149.3 132.0C149.3 132.1 147.4 132.8 150.1 132.3C152.8 131.8 160.3 130.8 165.3 129.2C170.3 127.5 177.6 123.5 180.2 122.3C182.8 121.0 180.7 121.7 180.7 121.5C180.6 121.4 182.5 120.4 179.8 121.3C177.1 122.3 169.7 125.8 164.7 127.4C159.7 129.1 152.5 130.6 149.9 131.3C147.3 132.1 149.3 131.8 149.3 132.0Z" fill="#2f7fd0" filter="url(#sc9)"/>
<path d="M134.3 116.0C134.3 115.5 135.2 114.9 136.0 114.6C136.8 114.3 138.0 114.3 139.0 114.3C140.0 114.3 141.2 114.5 142.0 114.8C142.8 115.1 143.7 115.5 143.7 116.0C143.7 116.5 142.8 117.2 142.0 117.5C141.2 117.8 140.0 117.8 139.0 117.8C138.0 117.8 136.8 117.7 136.0 117.4C135.2 117.1 134.3 116.5 134.3 116.0Z" fill="#2f7fd0" opacity="0.12" filter="url(#bl0)"/>
<path d="M134.3 116.0C134.3 115.5 135.2 114.9 136.0 114.6C136.8 114.3 138.0 114.3 139.0 114.3C140.0 114.3 141.2 114.5 142.0 114.8C142.8 115.1 143.7 115.5 143.7 116.0C143.7 116.5 142.8 117.2 142.0 117.5C141.2 117.8 140.0 117.8 139.0 117.8C138.0 117.8 136.8 117.7 136.0 117.4C135.2 117.1 134.3 116.5 134.3 116.0Z" fill="#2f7fd0" filter="url(#sc10)"/>
<path d="M146.0 113.2C146.0 113.5 145.1 113.9 147.2 113.7C149.2 113.5 154.4 112.3 158.2 111.8C162.0 111.3 166.3 111.2 170.2 110.6C174.1 110.0 179.5 108.8 181.6 108.3C183.7 107.8 182.6 107.7 182.5 107.4C182.5 107.2 183.5 106.8 181.4 106.9C179.3 107.0 173.8 107.6 169.8 108.0C165.9 108.4 161.6 108.5 157.8 109.2C154.0 109.9 148.8 111.6 146.8 112.3C144.9 113.0 145.9 113.0 146.0 113.2Z" fill="#2f7fd0" filter="url(#sc11)"/>
<path d="M170.0 110.3C171.0 110.1 174.1 109.4 176.0 108.9C177.9 108.4 180.6 107.7 181.5 107.5" fill="none" stroke="#1f5fb0" stroke-width="0.9" stroke-linecap="butt" opacity="0.62" stroke-dasharray="1.3 .5 .7 .4 2 .6 .5 .5"/>
<path d="M188.5 112.0C188.9 112.3 190.1 113.0 190.8 113.8C191.5 114.6 192.3 116.3 192.6 116.8" fill="none" stroke="#1f5fb0" stroke-width="0.9" stroke-linecap="butt" opacity="0.69" stroke-dasharray=".8 .5 1.6 .4 .6 .6 2.2 .5"/>
<text x="129.9" y="110.6" font-size="7.3" font-weight="bold" fill="#1f6fc6">CA1</text>
<path d="M149.8 92.3C150.2 91.7 152.7 92.8 155.0 93.1C157.3 93.4 160.9 93.5 163.8 94.0C166.7 94.5 169.7 95.4 172.6 95.8C175.5 96.2 179.6 96.0 181.3 96.6C183.1 97.2 183.4 98.4 183.1 99.3C182.8 100.2 181.3 101.2 179.6 101.9C177.8 102.6 175.2 103.6 172.6 103.7C170.0 103.8 166.3 103.4 163.8 102.8C161.3 102.2 159.6 101.1 157.7 100.1C155.8 99.1 153.7 97.9 152.4 96.6C151.1 95.3 149.4 92.9 149.8 92.3Z" fill="#ff962e" opacity="0.12" filter="url(#bl0)"/>
<path d="M149.8 92.3C150.2 91.7 152.7 92.8 155.0 93.1C157.3 93.4 160.9 93.5 163.8 94.0C166.7 94.5 169.7 95.4 172.6 95.8C175.5 96.2 179.6 96.0 181.3 96.6C183.1 97.2 183.4 98.4 183.1 99.3C182.8 100.2 181.3 101.2 179.6 101.9C177.8 102.6 175.2 103.6 172.6 103.7C170.0 103.8 166.3 103.4 163.8 102.8C161.3 102.2 159.6 101.1 157.7 100.1C155.8 99.1 153.7 97.9 152.4 96.6C151.1 95.3 149.4 92.9 149.8 92.3Z" fill="#ff962e" filter="url(#sc12)"/>
<path d="M156.0 101.0C157.5 100.5 161.3 102.7 165.0 103.0C168.7 103.3 175.3 102.5 178.0 103.0C180.7 103.5 182.0 104.9 181.0 106.0C180.0 107.1 175.2 109.0 172.0 109.5C168.8 110.0 164.7 109.6 162.0 109.0C159.3 108.4 157.0 107.3 156.0 106.0C155.0 104.7 154.5 101.5 156.0 101.0Z" fill="#ff962e" opacity="0.03" filter="url(#bl0)"/>
<path d="M156.0 101.0C157.5 100.5 161.3 102.7 165.0 103.0C168.7 103.3 175.3 102.5 178.0 103.0C180.7 103.5 182.0 104.9 181.0 106.0C180.0 107.1 175.2 109.0 172.0 109.5C168.8 110.0 164.7 109.6 162.0 109.0C159.3 108.4 157.0 107.3 156.0 106.0C155.0 104.7 154.5 101.5 156.0 101.0Z" fill="#ff962e" filter="url(#sc13)"/>
<text x="122.1" y="90.5" font-size="7.3" font-weight="bold" fill="#ff8c1a">CA1-ProS</text>
<path d="M166.9 85.6C168.0 84.5 171.1 83.1 174.6 82.3C178.1 81.5 184.1 81.3 188.0 80.6C191.9 79.9 195.0 78.5 198.1 77.9C201.2 77.3 204.5 76.9 206.5 77.2C208.5 77.5 210.2 78.5 209.9 79.9C209.6 81.3 207.1 83.8 204.8 85.6C202.6 87.4 199.2 89.0 196.4 90.7C193.6 92.4 190.8 94.6 188.0 95.7C185.2 96.8 182.5 97.7 179.7 97.4C176.9 97.1 173.3 95.4 171.3 94.0C169.3 92.6 168.6 90.4 167.9 89.0C167.2 87.6 165.8 86.7 166.9 85.6Z" fill="#5f5f5f" opacity="0.03" filter="url(#bl0)"/>
<path d="M166.9 85.6C168.0 84.5 171.1 83.1 174.6 82.3C178.1 81.5 184.1 81.3 188.0 80.6C191.9 79.9 195.0 78.5 198.1 77.9C201.2 77.3 204.5 76.9 206.5 77.2C208.5 77.5 210.2 78.5 209.9 79.9C209.6 81.3 207.1 83.8 204.8 85.6C202.6 87.4 199.2 89.0 196.4 90.7C193.6 92.4 190.8 94.6 188.0 95.7C185.2 96.8 182.5 97.7 179.7 97.4C176.9 97.1 173.3 95.4 171.3 94.0C169.3 92.6 168.6 90.4 167.9 89.0C167.2 87.6 165.8 86.7 166.9 85.6Z" fill="#5f5f5f" filter="url(#sc14)"/>
<path d="M169.2 85.3C170.3 86.1 173.6 88.5 176.0 90.2C178.4 91.9 182.3 94.5 183.6 95.4" fill="none" stroke="#2a2a2a" stroke-width="0.8" stroke-linecap="butt" opacity="0.88" stroke-dasharray="2 .4 .5 .5 1 .3 .7 .6"/>
<path d="M173.1 81.4C174.2 81.9 177.8 83.2 180.0 84.2C182.2 85.2 185.2 86.6 186.3 87.1" fill="none" stroke="#777" stroke-width="0.8" stroke-linecap="butt" opacity="0.56" stroke-dasharray="1.3 .5 .7 .4 2 .6 .5 .5"/>
<path d="M171.0 88.5C171.8 89.2 174.5 91.3 176.0 92.5C177.5 93.7 179.3 95.0 180.0 95.5" fill="none" stroke="#888" stroke-width="0.7" stroke-linecap="butt" opacity="0.38" stroke-dasharray=".8 .5 1.6 .4 .6 .6 2.2 .5"/>
<path d="M178.0 88.0C178.8 88.5 181.5 90.0 183.0 91.0C184.5 92.0 186.3 93.5 187.0 94.0" fill="none" stroke="#999" stroke-width="0.7" stroke-linecap="butt" opacity="0.31" stroke-dasharray="2 .4 .5 .5 1 .3 .7 .6"/>
<path d="M191.1 92.3C191.5 91.5 193.0 89.2 193.7 87.5C194.3 85.8 194.2 83.8 195.0 82.3C195.8 80.8 197.9 79.4 198.5 78.8" fill="none" stroke="#333" stroke-width="0.8" stroke-linecap="butt" opacity="0.81" stroke-dasharray="1.3 .5 .7 .4 2 .6 .5 .5"/>
<path d="M198.5 78.8C199.2 78.5 201.7 77.6 203.0 77.3C204.3 77.0 205.3 76.7 206.4 77.0C207.5 77.3 209.3 78.3 209.5 79.2C209.7 80.1 208.6 81.2 207.3 82.3C206.1 83.4 203.6 84.8 202.0 85.8C200.4 86.8 198.4 87.6 197.7 88.0" fill="none" stroke="#666" stroke-width="0.8" stroke-linecap="butt" opacity="0.50" stroke-dasharray=".8 .5 1.6 .4 .6 .6 2.2 .5"/>
<path d="M199.4 84.9C200.1 84.3 202.2 82.6 203.5 81.5C204.8 80.4 206.7 78.8 207.3 78.3" fill="none" stroke="#444" stroke-width="0.8" stroke-linecap="butt" opacity="0.62" stroke-dasharray="2 .4 .5 .5 1 .3 .7 .6"/>
<path d="M194.5 91.0C195.2 90.4 197.4 88.7 199.0 87.5C200.6 86.3 203.2 84.6 204.0 84.0" fill="none" stroke="#888" stroke-width="0.7" stroke-linecap="butt" opacity="0.38" stroke-dasharray="1.3 .5 .7 .4 2 .6 .5 .5"/>
<text x="152.8" y="75.8" font-size="7.3" font-weight="bold" fill="#808080">SUB-ProS</text>
<path d="M183.4 21.9C183.4 22.8 183.1 24.0 182.5 24.7C182.0 25.5 181.1 26.2 180.2 26.5C179.4 26.8 178.2 26.8 177.4 26.5C176.5 26.2 175.6 25.5 175.1 24.7C174.5 24.0 174.2 22.8 174.2 21.9C174.2 21.0 174.5 19.8 175.1 19.1C175.6 18.3 176.5 17.6 177.4 17.3C178.2 17.0 179.4 17.0 180.2 17.3C181.1 17.6 182.0 18.3 182.5 19.1C183.1 19.8 183.4 21.0 183.4 21.9Z" fill="#ff4fd0" opacity="0.1" filter="url(#bl0)"/>
<path d="M183.4 21.9C183.4 22.8 183.1 24.0 182.5 24.7C182.0 25.5 181.1 26.2 180.2 26.5C179.4 26.8 178.2 26.8 177.4 26.5C176.5 26.2 175.6 25.5 175.1 24.7C174.5 24.0 174.2 22.8 174.2 21.9C174.2 21.0 174.5 19.8 175.1 19.1C175.6 18.3 176.5 17.6 177.4 17.3C178.2 17.0 179.4 17.0 180.2 17.3C181.1 17.6 182.0 18.3 182.5 19.1C183.1 19.8 183.4 21.0 183.4 21.9Z" fill="#ff4fd0" filter="url(#sc15)"/>
<path d="M175.5 18.0C176.2 17.9 178.6 17.5 180.0 17.6C181.4 17.7 183.3 18.3 184.0 18.4" fill="none" stroke="#ff4fd0" stroke-width="0.8" stroke-linecap="butt" opacity="0.56" stroke-dasharray=".8 .5 1.6 .4 .6 .6 2.2 .5"/>
<path d="M176.0 22.0C177.0 22.0 179.8 21.9 182.0 21.9C184.2 21.9 188.2 22.1 189.5 22.2" fill="none" stroke="#ff4fd0" stroke-width="1.1" stroke-linecap="butt" opacity="0.75"/>
<path d="M175.5 25.5C176.2 25.6 178.6 26.2 180.0 26.2C181.4 26.2 183.3 25.7 184.0 25.6" fill="none" stroke="#ff4fd0" stroke-width="0.7" stroke-linecap="butt" opacity="0.50" stroke-dasharray="1.3 .5 .7 .4 2 .6 .5 .5"/>
<text x="144.5" y="24.3" font-size="7.3" font-weight="bold" fill="#ff3fc9">NP SUB</text>
<path d="M173.4 36.8C174.1 36.1 177.1 37.7 179.6 37.7C182.1 37.8 185.4 37.1 188.3 37.1C191.2 37.1 194.8 37.8 197.1 37.7C199.4 37.7 201.9 36.2 202.3 36.8C202.7 37.4 201.1 39.9 199.7 41.2C198.2 42.5 196.1 43.6 193.6 44.7C191.1 45.8 187.7 47.0 184.8 47.7C181.9 48.4 177.8 49.3 176.1 49.1C174.3 48.9 174.4 47.6 174.3 46.4C174.2 45.2 175.8 43.6 175.7 42.0C175.5 40.4 172.8 37.5 173.4 36.8Z" fill="#8246c8" opacity="0.2" filter="url(#bl0)"/>
<path d="M173.4 36.8C174.1 36.1 177.1 37.7 179.6 37.7C182.1 37.8 185.4 37.1 188.3 37.1C191.2 37.1 194.8 37.8 197.1 37.7C199.4 37.7 201.9 36.2 202.3 36.8C202.7 37.4 201.1 39.9 199.7 41.2C198.2 42.5 196.1 43.6 193.6 44.7C191.1 45.8 187.7 47.0 184.8 47.7C181.9 48.4 177.8 49.3 176.1 49.1C174.3 48.9 174.4 47.6 174.3 46.4C174.2 45.2 175.8 43.6 175.7 42.0C175.5 40.4 172.8 37.5 173.4 36.8Z" fill="#8246c8" filter="url(#sc16)"/>
<text x="147.5" y="45.5" font-size="7.3" font-weight="bold" fill="#7a3fc0">CT SUB</text>
<text x="233.1" y="8.8" font-size="12.4" font-weight="bold" textLength="8.5" lengthAdjust="spacingAndGlyphs" fill="#000">b</text>
<rect x="256.5" y="10.6" width="197.5" height="127.7" fill="none" stroke="#595959" stroke-width="0.8"/>
<line x1="265.4" y1="138.3" x2="265.4" y2="140.5" stroke="#333" stroke-width="0.75"/>
<text x="265.4" y="147.6" font-size="6.3" text-anchor="middle" fill="#161616" stroke="#161616" stroke-width="0.1">−5</text>
<line x1="308.0" y1="138.3" x2="308.0" y2="140.5" stroke="#333" stroke-width="0.75"/>
<text x="308.0" y="147.6" font-size="6.3" text-anchor="middle" fill="#161616" stroke="#161616" stroke-width="0.1">0</text>
<line x1="350.6" y1="138.3" x2="350.6" y2="140.5" stroke="#333" stroke-width="0.75"/>
<text x="350.6" y="147.6" font-size="6.3" text-anchor="middle" fill="#161616" stroke="#161616" stroke-width="0.1">5</text>
<line x1="393.2" y1="138.3" x2="393.2" y2="140.5" stroke="#333" stroke-width="0.75"/>
<text x="393.2" y="147.6" font-size="6.3" text-anchor="middle" fill="#161616" stroke="#161616" stroke-width="0.1">10</text>
<line x1="435.8" y1="138.3" x2="435.8" y2="140.5" stroke="#333" stroke-width="0.75"/>
<text x="435.8" y="147.6" font-size="6.3" text-anchor="middle" fill="#161616" stroke="#161616" stroke-width="0.1">15</text>
<line x1="254.3" y1="131.3" x2="256.5" y2="131.3" stroke="#333" stroke-width="0.75"/>
<text x="252.0" y="133.6" font-size="6.3" text-anchor="end" fill="#161616" stroke="#161616" stroke-width="0.1">−5</text>
<line x1="254.3" y1="103.3" x2="256.5" y2="103.3" stroke="#333" stroke-width="0.75"/>
<text x="252.0" y="105.6" font-size="6.3" text-anchor="end" fill="#161616" stroke="#161616" stroke-width="0.1">0</text>
<line x1="254.3" y1="75.3" x2="256.5" y2="75.3" stroke="#333" stroke-width="0.75"/>
<text x="252.0" y="77.6" font-size="6.3" text-anchor="end" fill="#161616" stroke="#161616" stroke-width="0.1">5</text>
<line x1="254.3" y1="47.3" x2="256.5" y2="47.3" stroke="#333" stroke-width="0.75"/>
<text x="252.0" y="49.6" font-size="6.3" text-anchor="end" fill="#161616" stroke="#161616" stroke-width="0.1">10</text>
<line x1="254.3" y1="19.3" x2="256.5" y2="19.3" stroke="#333" stroke-width="0.75"/>
<text x="252.0" y="21.6" font-size="6.3" text-anchor="end" fill="#161616" stroke="#161616" stroke-width="0.1">15</text>
<text x="354.6" y="154.7" font-size="6.1" text-anchor="middle" fill="#161616" stroke="#161616" stroke-width="0.1">UMAP1</text>
<text x="240.2" y="74.5" font-size="6.1" text-anchor="middle" transform="rotate(-90 240.2 74.5)" fill="#161616" stroke="#161616" stroke-width="0.1">UMAP2</text>
<path d="M265.6 61.3C265.8 60.4 266.8 59.1 267.9 58.7C269.0 58.3 270.7 59.3 272.3 58.7C273.9 58.1 275.4 56.4 277.6 55.2C279.8 54.0 282.5 52.6 285.4 51.7C288.3 50.8 292.3 50.2 295.1 49.9C297.9 49.6 300.2 49.4 302.1 49.9C304.0 50.4 305.3 51.6 306.5 52.6C307.7 53.6 309.4 54.8 309.1 55.7C308.8 56.6 306.2 56.9 304.7 57.8C303.2 58.7 301.6 59.7 300.0 61.0C298.4 62.3 296.8 64.6 295.1 65.7C293.4 66.8 291.9 67.0 289.8 67.5C287.8 68.0 285.1 68.7 282.8 68.7C280.5 68.7 277.8 68.2 275.8 67.5C273.8 66.8 272.1 65.4 270.6 64.8C269.1 64.2 267.8 64.5 267.0 63.9C266.2 63.3 265.5 62.2 265.6 61.3Z" fill="#8c3b2e" opacity="0.14" filter="url(#bl0)"/>
<path d="M265.6 61.3C265.8 60.4 266.8 59.1 267.9 58.7C269.0 58.3 270.7 59.3 272.3 58.7C273.9 58.1 275.4 56.4 277.6 55.2C279.8 54.0 282.5 52.6 285.4 51.7C288.3 50.8 292.3 50.2 295.1 49.9C297.9 49.6 300.2 49.4 302.1 49.9C304.0 50.4 305.3 51.6 306.5 52.6C307.7 53.6 309.4 54.8 309.1 55.7C308.8 56.6 306.2 56.9 304.7 57.8C303.2 58.7 301.6 59.7 300.0 61.0C298.4 62.3 296.8 64.6 295.1 65.7C293.4 66.8 291.9 67.0 289.8 67.5C287.8 68.0 285.1 68.7 282.8 68.7C280.5 68.7 277.8 68.2 275.8 67.5C273.8 66.8 272.1 65.4 270.6 64.8C269.1 64.2 267.8 64.5 267.0 63.9C266.2 63.3 265.5 62.2 265.6 61.3Z" fill="#8c3b2e" filter="url(#sc17)"/>
<path d="M297.2 55.7C297.5 56.5 296.8 57.9 295.5 59.1C294.3 60.3 291.9 61.9 289.5 63.0C287.2 64.2 283.9 65.4 281.4 66.0C278.9 66.6 276.0 67.0 274.3 66.9C272.5 66.7 271.1 66.1 270.8 65.3C270.5 64.5 271.2 63.1 272.5 61.9C273.7 60.7 276.1 59.1 278.5 58.0C280.8 56.8 284.1 55.6 286.6 55.0C289.1 54.4 292.0 54.0 293.7 54.1C295.5 54.3 296.9 54.9 297.2 55.7Z" fill="#8c3b2e" opacity="0.1" filter="url(#bl0)"/>
<path d="M297.2 55.7C297.5 56.5 296.8 57.9 295.5 59.1C294.3 60.3 291.9 61.9 289.5 63.0C287.2 64.2 283.9 65.4 281.4 66.0C278.9 66.6 276.0 67.0 274.3 66.9C272.5 66.7 271.1 66.1 270.8 65.3C270.5 64.5 271.2 63.1 272.5 61.9C273.7 60.7 276.1 59.1 278.5 58.0C280.8 56.8 284.1 55.6 286.6 55.0C289.1 54.4 292.0 54.0 293.7 54.1C295.5 54.3 296.9 54.9 297.2 55.7Z" fill="#8c3b2e" filter="url(#sc18)"/>
<path d="M296.0 62.0C297.2 61.1 300.2 60.1 302.1 60.4C304.0 60.7 305.6 62.3 307.3 63.9C309.1 65.5 312.3 68.8 312.6 70.1C312.9 71.4 310.9 71.6 309.1 71.8C307.4 72.0 304.0 71.6 302.1 71.0C300.2 70.4 298.9 69.2 297.7 68.3C296.5 67.4 295.4 66.8 295.1 65.7C294.8 64.7 294.8 62.9 296.0 62.0Z" fill="#8c3b2e" opacity="0.05" filter="url(#bl0)"/>
<path d="M296.0 62.0C297.2 61.1 300.2 60.1 302.1 60.4C304.0 60.7 305.6 62.3 307.3 63.9C309.1 65.5 312.3 68.8 312.6 70.1C312.9 71.4 310.9 71.6 309.1 71.8C307.4 72.0 304.0 71.6 302.1 71.0C300.2 70.4 298.9 69.2 297.7 68.3C296.5 67.4 295.4 66.8 295.1 65.7C294.8 64.7 294.8 62.9 296.0 62.0Z" fill="#8c3b2e" filter="url(#sc19)"/>
<path d="M286.3 75.0C286.5 75.2 287.0 75.8 287.3 76.2C287.6 76.6 288.2 77.2 288.4 77.4" fill="none" stroke="#8c3b2e" stroke-width="0.9" stroke-linecap="butt" opacity="0.75"/>
<text x="302.1" y="47.9" font-size="7.3" font-weight="bold" fill="#9c4a3a">DG</text>
<path d="M305.6 94.4C305.8 94.1 306.4 93.0 306.8 92.4C307.2 91.8 307.7 91.0 307.9 90.7" fill="none" stroke="#22a022" stroke-width="0.8" stroke-linecap="butt" opacity="0.88"/>
<text x="300.9" y="89.3" font-size="7.3" font-weight="bold" fill="#1fa01f">CA2</text>
<path d="M292.0 112.8C292.0 111.9 293.4 110.7 294.6 109.8C295.8 108.9 297.4 108.2 299.0 107.6C300.6 107.0 302.6 106.7 304.3 106.3C306.1 105.9 308.3 105.3 309.5 105.4C310.7 105.5 311.4 106.3 311.3 107.1C311.2 107.9 309.8 109.1 308.6 110.2C307.4 111.3 305.9 112.8 304.3 113.7C302.7 114.6 300.6 115.3 299.0 115.5C297.4 115.7 295.8 115.5 294.6 115.0C293.4 114.5 292.0 113.7 292.0 112.8Z" fill="#e8283a" opacity="0.06" filter="url(#bl0)"/>
<path d="M292.0 112.8C292.0 111.9 293.4 110.7 294.6 109.8C295.8 108.9 297.4 108.2 299.0 107.6C300.6 107.0 302.6 106.7 304.3 106.3C306.1 105.9 308.3 105.3 309.5 105.4C310.7 105.5 311.4 106.3 311.3 107.1C311.2 107.9 309.8 109.1 308.6 110.2C307.4 111.3 305.9 112.8 304.3 113.7C302.7 114.6 300.6 115.3 299.0 115.5C297.4 115.7 295.8 115.5 294.6 115.0C293.4 114.5 292.0 113.7 292.0 112.8Z" fill="#e8283a" filter="url(#sc20)"/>
<path d="M292.0 112.8C292.4 113.2 293.4 114.5 294.6 115.0C295.8 115.5 297.4 115.7 299.0 115.5C300.6 115.3 302.7 114.6 304.3 113.7C305.9 112.8 307.4 111.3 308.6 110.2C309.8 109.1 310.9 107.6 311.3 107.1" fill="none" stroke="#e8283a" stroke-width="0.9" stroke-linecap="butt" opacity="0.62" stroke-dasharray="1.3 .5 .7 .4 2 .6 .5 .5"/>
<path d="M292.0 112.8C292.4 112.3 293.4 110.7 294.6 109.8C295.8 108.9 297.4 108.2 299.0 107.6C300.6 107.0 302.6 106.7 304.3 106.3C306.1 105.9 308.6 105.6 309.5 105.4" fill="none" stroke="#e8283a" stroke-width="0.8" stroke-linecap="butt" opacity="0.69" stroke-dasharray=".8 .5 1.6 .4 .6 .6 2.2 .5"/>
<path d="M294.0 113.0C294.7 112.6 296.5 111.2 298.0 110.5C299.5 109.8 301.3 109.1 303.0 108.5C304.7 107.9 307.2 107.2 308.0 107.0" fill="none" stroke="#e8283a" stroke-width="0.7" stroke-linecap="butt" opacity="0.50" stroke-dasharray="2 .4 .5 .5 1 .3 .7 .6"/>
<path d="M295.5 114.0C296.2 113.8 298.4 113.4 300.0 112.8C301.6 112.2 303.5 111.3 305.0 110.5C306.5 109.7 308.3 108.2 309.0 107.8" fill="none" stroke="#e8283a" stroke-width="0.7" stroke-linecap="butt" opacity="0.56" stroke-dasharray="1.3 .5 .7 .4 2 .6 .5 .5"/>
<path d="M314.9 106.6C314.9 107.0 314.7 107.5 314.5 107.8C314.2 108.2 313.7 108.5 313.3 108.6C312.9 108.7 312.3 108.7 311.9 108.6C311.5 108.5 311.0 108.2 310.7 107.8C310.5 107.5 310.3 107.0 310.3 106.6C310.3 106.2 310.5 105.7 310.7 105.4C311.0 105.0 311.5 104.7 311.9 104.6C312.3 104.5 312.9 104.5 313.3 104.6C313.7 104.7 314.2 105.0 314.5 105.4C314.7 105.7 314.9 106.2 314.9 106.6Z" fill="#e8283a" opacity="0.1" filter="url(#bl0)"/>
<path d="M314.9 106.6C314.9 107.0 314.7 107.5 314.5 107.8C314.2 108.2 313.7 108.5 313.3 108.6C312.9 108.7 312.3 108.7 311.9 108.6C311.5 108.5 311.0 108.2 310.7 107.8C310.5 107.5 310.3 107.0 310.3 106.6C310.3 106.2 310.5 105.7 310.7 105.4C311.0 105.0 311.5 104.7 311.9 104.6C312.3 104.5 312.9 104.5 313.3 104.6C313.7 104.7 314.2 105.0 314.5 105.4C314.7 105.7 314.9 106.2 314.9 106.6Z" fill="#e8283a" filter="url(#sc10)"/>
<path d="M311.2 105.6C311.4 105.7 312.0 106.3 312.2 106.4" fill="none" stroke="#c8101f" stroke-width="1.4" stroke-linecap="butt" opacity="1.00"/>
<path d="M309.1 98.2C309.6 98.5 311.2 99.4 312.3 99.9C313.4 100.5 315.1 101.2 315.6 101.5" fill="none" stroke="#e8283a" stroke-width="0.8" stroke-linecap="butt" opacity="0.75"/>
<path d="M315.2 107.1C315.8 106.9 317.8 106.3 319.0 105.8C320.2 105.3 322.1 104.5 322.7 104.3" fill="none" stroke="#e8283a" stroke-width="0.7" stroke-linecap="butt" opacity="0.38" stroke-dasharray="1.3 .5 .7 .4 2 .6 .5 .5"/>
<text x="317.0" y="101.5" font-size="7.3" font-weight="bold" fill="#e3192b">CA3</text>
<path d="M347.6 127.3C347.6 125.0 348.5 121.2 349.4 117.7C350.3 114.2 351.6 109.5 352.9 106.3C354.2 103.1 355.7 100.0 357.3 98.4C358.9 96.8 360.5 96.8 362.5 96.6C364.5 96.4 367.2 96.8 369.5 97.5C371.8 98.2 374.3 99.5 376.5 101.0C378.7 102.5 380.9 104.5 382.7 106.3C384.4 108.0 386.0 110.0 387.0 111.5C388.0 113.0 389.1 114.0 388.8 115.0C388.5 116.0 386.3 116.7 385.3 117.7C384.3 118.7 383.9 119.8 382.7 121.2C381.5 122.7 380.1 124.7 378.3 126.4C376.6 128.2 374.5 130.7 372.2 131.7C369.9 132.7 367.1 132.4 364.3 132.6C361.5 132.8 358.0 132.8 355.5 132.6C353.0 132.4 350.7 132.6 349.4 131.7C348.1 130.8 347.6 129.6 347.6 127.3Z" fill="#2f7fd0" opacity="0.1" filter="url(#bl0)"/>
<path d="M347.6 127.3C347.6 125.0 348.5 121.2 349.4 117.7C350.3 114.2 351.6 109.5 352.9 106.3C354.2 103.1 355.7 100.0 357.3 98.4C358.9 96.8 360.5 96.8 362.5 96.6C364.5 96.4 367.2 96.8 369.5 97.5C371.8 98.2 374.3 99.5 376.5 101.0C378.7 102.5 380.9 104.5 382.7 106.3C384.4 108.0 386.0 110.0 387.0 111.5C388.0 113.0 389.1 114.0 388.8 115.0C388.5 116.0 386.3 116.7 385.3 117.7C384.3 118.7 383.9 119.8 382.7 121.2C381.5 122.7 380.1 124.7 378.3 126.4C376.6 128.2 374.5 130.7 372.2 131.7C369.9 132.7 367.1 132.4 364.3 132.6C361.5 132.8 358.0 132.8 355.5 132.6C353.0 132.4 350.7 132.6 349.4 131.7C348.1 130.8 347.6 129.6 347.6 127.3Z" fill="#2f7fd0" filter="url(#sc21)"/>
<path d="M369.5 114.6C369.2 117.9 368.3 121.8 367.2 124.4C366.0 127.1 364.1 129.4 362.5 130.3C360.8 131.2 358.8 131.1 357.3 129.9C355.7 128.8 354.2 126.2 353.4 123.5C352.7 120.7 352.3 116.7 352.5 113.4C352.8 110.1 353.7 106.2 354.8 103.6C356.0 100.9 357.9 98.6 359.5 97.7C361.2 96.8 363.2 96.9 364.7 98.1C366.3 99.2 367.8 101.8 368.6 104.5C369.3 107.3 369.7 111.3 369.5 114.6Z" fill="#2f7fd0" opacity="0.14" filter="url(#bl1)"/>
<path d="M369.5 114.6C369.2 117.9 368.3 121.8 367.2 124.4C366.0 127.1 364.1 129.4 362.5 130.3C360.8 131.2 358.8 131.1 357.3 129.9C355.7 128.8 354.2 126.2 353.4 123.5C352.7 120.7 352.3 116.7 352.5 113.4C352.8 110.1 353.7 106.2 354.8 103.6C356.0 100.9 357.9 98.6 359.5 97.7C361.2 96.8 363.2 96.9 364.7 98.1C366.3 99.2 367.8 101.8 368.6 104.5C369.3 107.3 369.7 111.3 369.5 114.6Z" fill="#2f7fd0" filter="url(#sc22)"/>
<path d="M362.9 122.8C362.7 124.6 362.0 126.6 361.1 127.9C360.2 129.2 358.8 130.4 357.6 130.7C356.5 131.1 355.0 130.9 354.0 130.2C352.9 129.5 351.9 128.1 351.5 126.6C351.0 125.1 350.8 122.9 351.1 121.2C351.3 119.4 352.0 117.4 352.9 116.1C353.8 114.8 355.2 113.6 356.4 113.3C357.5 112.9 359.0 113.1 360.0 113.8C361.1 114.5 362.1 115.9 362.5 117.4C363.0 118.9 363.2 121.1 362.9 122.8Z" fill="#2f7fd0" opacity="0.05" filter="url(#bl1)"/>
<path d="M362.9 122.8C362.7 124.6 362.0 126.6 361.1 127.9C360.2 129.2 358.8 130.4 357.6 130.7C356.5 131.1 355.0 130.9 354.0 130.2C352.9 129.5 351.9 128.1 351.5 126.6C351.0 125.1 350.8 122.9 351.1 121.2C351.3 119.4 352.0 117.4 352.9 116.1C353.8 114.8 355.2 113.6 356.4 113.3C357.5 112.9 359.0 113.1 360.0 113.8C361.1 114.5 362.1 115.9 362.5 117.4C363.0 118.9 363.2 121.1 362.9 122.8Z" fill="#2f7fd0" filter="url(#sc23)"/>
<path d="M331.0 116.0C331.5 114.7 334.2 112.0 336.0 110.0C337.8 108.0 339.8 105.5 342.0 104.0C344.2 102.5 347.3 100.7 349.0 101.0C350.7 101.3 352.0 103.3 352.0 106.0C352.0 108.7 351.0 115.0 349.0 117.0C347.0 119.0 342.7 117.8 340.0 118.0C337.3 118.2 334.5 118.3 333.0 118.0C331.5 117.7 330.5 117.3 331.0 116.0Z" fill="#2f7fd0" opacity="0.07" filter="url(#bl0)"/>
<path d="M331.0 116.0C331.5 114.7 334.2 112.0 336.0 110.0C337.8 108.0 339.8 105.5 342.0 104.0C344.2 102.5 347.3 100.7 349.0 101.0C350.7 101.3 352.0 103.3 352.0 106.0C352.0 108.7 351.0 115.0 349.0 117.0C347.0 119.0 342.7 117.8 340.0 118.0C337.3 118.2 334.5 118.3 333.0 118.0C331.5 117.7 330.5 117.3 331.0 116.0Z" fill="#2f7fd0" filter="url(#sc24)"/>
<path d="M376.2 95.6C376.7 96.0 378.1 97.1 379.0 98.0C379.9 98.9 381.1 100.7 381.5 101.2" fill="none" stroke="#1f5fb0" stroke-width="1.1" stroke-linecap="butt" opacity="0.88"/>
<path d="M381.5 101.2C382.0 102.2 383.5 104.8 384.5 107.0C385.5 109.2 387.1 113.3 387.6 114.6" fill="none" stroke="#2a62ac" stroke-width="0.8" stroke-linecap="butt" opacity="0.56" stroke-dasharray="2 .4 .5 .5 1 .3 .7 .6"/>
<path d="M380.0 112.0C380.7 112.2 382.7 113.1 384.0 113.5C385.3 113.9 387.0 114.4 387.6 114.6" fill="none" stroke="#555" stroke-width="0.7" stroke-linecap="butt" opacity="0.38" stroke-dasharray="1.3 .5 .7 .4 2 .6 .5 .5"/>
<circle cx="359.2" cy="94.7" r="0.7" fill="#e8283a" opacity="0.8"/>
<text x="341.9" y="97.3" font-size="7.3" font-weight="bold" fill="#1f6fc6">CA1</text>
<path d="M382.7 97.5C383.1 96.0 384.6 94.3 386.2 93.1C387.8 91.9 390.4 90.5 392.3 90.5C394.2 90.5 396.1 91.9 397.6 93.1C399.1 94.3 399.8 96.0 401.1 97.5C402.4 99.0 405.0 100.6 405.4 101.9C405.8 103.2 405.0 104.4 403.7 105.4C402.4 106.4 399.8 107.4 397.6 108.0C395.4 108.6 392.7 109.2 390.6 108.9C388.6 108.6 386.5 107.5 385.3 106.3C384.1 105.1 383.9 103.4 383.5 101.9C383.1 100.4 382.2 99.0 382.7 97.5Z" fill="#ff962e" opacity="0.09" filter="url(#bl0)"/>
<path d="M382.7 97.5C383.1 96.0 384.6 94.3 386.2 93.1C387.8 91.9 390.4 90.5 392.3 90.5C394.2 90.5 396.1 91.9 397.6 93.1C399.1 94.3 399.8 96.0 401.1 97.5C402.4 99.0 405.0 100.6 405.4 101.9C405.8 103.2 405.0 104.4 403.7 105.4C402.4 106.4 399.8 107.4 397.6 108.0C395.4 108.6 392.7 109.2 390.6 108.9C388.6 108.6 386.5 107.5 385.3 106.3C384.1 105.1 383.9 103.4 383.5 101.9C383.1 100.4 382.2 99.0 382.7 97.5Z" fill="#ff962e" filter="url(#sc25)"/>
<path d="M384.0 104.0C384.7 102.5 387.2 100.3 389.0 100.0C390.8 99.7 394.2 100.7 395.0 102.0C395.8 103.3 395.0 106.5 394.0 108.0C393.0 109.5 390.5 110.8 389.0 111.0C387.5 111.2 385.8 110.2 385.0 109.0C384.2 107.8 383.3 105.5 384.0 104.0Z" fill="#ff962e" opacity="0.03" filter="url(#bl0)"/>
<path d="M384.0 104.0C384.7 102.5 387.2 100.3 389.0 100.0C390.8 99.7 394.2 100.7 395.0 102.0C395.8 103.3 395.0 106.5 394.0 108.0C393.0 109.5 390.5 110.8 389.0 111.0C387.5 111.2 385.8 110.2 385.0 109.0C384.2 107.8 383.3 105.5 384.0 104.0Z" fill="#ff962e" filter="url(#sc26)"/>
<text x="359.9" y="87.9" font-size="7.3" font-weight="bold" fill="#ff8c1a">CA1-ProS</text>
<path d="M396.7 86.1C397.3 85.2 401.5 85.0 404.6 84.4C407.7 83.8 411.3 83.1 415.1 82.6C418.9 82.1 423.5 81.4 427.3 81.4C431.1 81.4 435.0 81.5 437.9 82.6C440.8 83.7 444.6 86.9 444.9 87.9C445.2 88.9 442.0 88.8 439.6 88.8C437.2 88.8 433.4 87.6 430.8 87.9C428.2 88.2 425.8 89.3 423.8 90.5C421.8 91.7 420.4 93.7 418.6 94.9C416.9 96.1 415.4 97.7 413.3 97.5C411.2 97.3 408.3 95.3 406.3 94.0C404.3 92.7 402.7 90.9 401.1 89.6C399.5 88.3 396.1 87.0 396.7 86.1Z" fill="#5f5f5f" opacity="0.03" filter="url(#bl0)"/>
<path d="M396.7 86.1C397.3 85.2 401.5 85.0 404.6 84.4C407.7 83.8 411.3 83.1 415.1 82.6C418.9 82.1 423.5 81.4 427.3 81.4C431.1 81.4 435.0 81.5 437.9 82.6C440.8 83.7 444.6 86.9 444.9 87.9C445.2 88.9 442.0 88.8 439.6 88.8C437.2 88.8 433.4 87.6 430.8 87.9C428.2 88.2 425.8 89.3 423.8 90.5C421.8 91.7 420.4 93.7 418.6 94.9C416.9 96.1 415.4 97.7 413.3 97.5C411.2 97.3 408.3 95.3 406.3 94.0C404.3 92.7 402.7 90.9 401.1 89.6C399.5 88.3 396.1 87.0 396.7 86.1Z" fill="#5f5f5f" filter="url(#sc14)"/>
<path d="M397.1 85.2C397.9 85.7 400.2 86.8 402.0 88.0C403.8 89.2 406.0 91.1 408.0 92.5C410.0 93.9 413.2 95.9 414.2 96.6" fill="none" stroke="#2a2a2a" stroke-width="0.8" stroke-linecap="butt" opacity="0.81" stroke-dasharray=".8 .5 1.6 .4 .6 .6 2.2 .5"/>
<path d="M404.7 87.5C405.8 87.9 408.9 89.0 411.0 90.0C413.1 91.0 415.0 92.3 417.0 93.2C419.0 94.1 422.0 95.0 423.0 95.4" fill="none" stroke="#3a3a3a" stroke-width="0.8" stroke-linecap="butt" opacity="0.69" stroke-dasharray="2 .4 .5 .5 1 .3 .7 .6"/>
<path d="M408.5 84.2C410.1 83.9 414.2 82.7 418.0 82.2C421.8 81.7 427.6 81.1 431.3 81.4C435.0 81.7 437.8 82.9 440.0 84.0C442.2 85.1 443.8 87.3 444.6 88.0" fill="none" stroke="#555" stroke-width="0.8" stroke-linecap="butt" opacity="0.62" stroke-dasharray="1.3 .5 .7 .4 2 .6 .5 .5"/>
<path d="M413.0 86.0C414.5 85.7 418.8 84.3 422.0 84.0C425.2 83.7 429.0 83.4 432.0 84.0C435.0 84.6 438.7 86.9 440.0 87.5" fill="none" stroke="#666" stroke-width="0.7" stroke-linecap="butt" opacity="0.50" stroke-dasharray=".8 .5 1.6 .4 .6 .6 2.2 .5"/>
<path d="M417.0 88.5C418.3 88.1 422.3 86.5 425.0 86.2C427.7 85.9 430.8 86.1 433.0 86.4C435.2 86.8 437.2 88.0 438.0 88.3" fill="none" stroke="#777" stroke-width="0.7" stroke-linecap="butt" opacity="0.44" stroke-dasharray="2 .4 .5 .5 1 .3 .7 .6"/>
<path d="M397.5 84.2C397.6 84.4 398.1 85.0 398.2 85.2" fill="none" stroke="#222" stroke-width="1.0" stroke-linecap="butt" opacity="1.00"/>
<text x="391.2" y="79.8" font-size="7.3" font-weight="bold" fill="#808080">SUB-ProS</text>
<path d="M379.5 17.5C379.8 16.8 382.1 16.3 383.5 16.0C384.9 15.7 386.6 15.7 388.0 15.8C389.4 15.9 390.9 15.8 392.0 16.5C393.1 17.2 394.0 18.7 394.5 20.0C395.0 21.3 395.1 23.2 394.9 24.5C394.6 25.8 393.8 27.2 393.0 27.6C392.2 28.0 391.2 27.7 390.0 27.0C388.8 26.3 386.9 24.7 385.5 23.5C384.1 22.3 382.5 21.0 381.5 20.0C380.5 19.0 379.2 18.2 379.5 17.5Z" fill="#ff4fd0" opacity="0.12" filter="url(#bl0)"/>
<path d="M379.5 17.5C379.8 16.8 382.1 16.3 383.5 16.0C384.9 15.7 386.6 15.7 388.0 15.8C389.4 15.9 390.9 15.8 392.0 16.5C393.1 17.2 394.0 18.7 394.5 20.0C395.0 21.3 395.1 23.2 394.9 24.5C394.6 25.8 393.8 27.2 393.0 27.6C392.2 28.0 391.2 27.7 390.0 27.0C388.8 26.3 386.9 24.7 385.5 23.5C384.1 22.3 382.5 21.0 381.5 20.0C380.5 19.0 379.2 18.2 379.5 17.5Z" fill="#ff4fd0" filter="url(#sc27)"/>
<path d="M381.0 18.5C381.8 19.0 384.3 20.3 386.0 21.5C387.7 22.7 390.2 24.8 391.0 25.5" fill="none" stroke="#ff4fd0" stroke-width="1.0" stroke-linecap="butt" opacity="0.62" stroke-dasharray=".8 .5 1.6 .4 .6 .6 2.2 .5"/>
<path d="M386.0 23.0C386.5 22.4 388.0 20.5 389.0 19.5C390.0 18.5 391.5 17.4 392.0 17.0" fill="none" stroke="#ff4fd0" stroke-width="0.9" stroke-linecap="butt" opacity="0.62" stroke-dasharray="2 .4 .5 .5 1 .3 .7 .6"/>
<text x="355.0" y="28.2" font-size="7.3" font-weight="bold" fill="#ff3fc9">NP SUB</text>
<path d="M402.8 42.9C403.0 41.4 406.1 39.6 408.1 38.5C410.2 37.4 412.9 36.6 415.1 36.3C417.3 36.0 419.8 35.8 421.2 36.8C422.6 37.8 423.2 40.1 423.5 42.0C423.8 43.9 423.5 46.4 423.0 48.2C422.5 50.0 421.3 51.5 420.3 52.6C419.3 53.7 418.2 55.0 416.8 54.7C415.4 54.4 413.2 52.0 411.6 50.8C410.0 49.6 408.7 48.6 407.2 47.3C405.7 46.0 402.6 44.4 402.8 42.9Z" fill="#8246c8" opacity="0.2" filter="url(#bl0)"/>
<path d="M402.8 42.9C403.0 41.4 406.1 39.6 408.1 38.5C410.2 37.4 412.9 36.6 415.1 36.3C417.3 36.0 419.8 35.8 421.2 36.8C422.6 37.8 423.2 40.1 423.5 42.0C423.8 43.9 423.5 46.4 423.0 48.2C422.5 50.0 421.3 51.5 420.3 52.6C419.3 53.7 418.2 55.0 416.8 54.7C415.4 54.4 413.2 52.0 411.6 50.8C410.0 49.6 408.7 48.6 407.2 47.3C405.7 46.0 402.6 44.4 402.8 42.9Z" fill="#8246c8" filter="url(#sc16)"/>
<text x="379.2" y="51.7" font-size="7.3" font-weight="bold" fill="#7a3fc0">CT SUB</text>
<text x="461.4" y="7.0" font-size="12.8" font-weight="bold" textLength="8.0" lengthAdjust="spacingAndGlyphs" fill="#000">c</text>
<rect x="482.5" y="10.6" width="197.3" height="127.5" fill="none" stroke="#595959" stroke-width="0.8"/>
<line x1="489.5" y1="138.1" x2="489.5" y2="140.3" stroke="#333" stroke-width="0.75"/>
<text x="489.5" y="147.4" font-size="6.3" text-anchor="middle" fill="#161616" stroke="#161616" stroke-width="0.1">−2.5</text>
<line x1="516.5" y1="138.1" x2="516.5" y2="140.3" stroke="#333" stroke-width="0.75"/>
<text x="516.5" y="147.4" font-size="6.3" text-anchor="middle" fill="#161616" stroke="#161616" stroke-width="0.1">0.0</text>
<line x1="543.5" y1="138.1" x2="543.5" y2="140.3" stroke="#333" stroke-width="0.75"/>
<text x="543.5" y="147.4" font-size="6.3" text-anchor="middle" fill="#161616" stroke="#161616" stroke-width="0.1">2.5</text>
<line x1="570.5" y1="138.1" x2="570.5" y2="140.3" stroke="#333" stroke-width="0.75"/>
<text x="570.5" y="147.4" font-size="6.3" text-anchor="middle" fill="#161616" stroke="#161616" stroke-width="0.1">5.0</text>
<line x1="597.6" y1="138.1" x2="597.6" y2="140.3" stroke="#333" stroke-width="0.75"/>
<text x="597.6" y="147.4" font-size="6.3" text-anchor="middle" fill="#161616" stroke="#161616" stroke-width="0.1">7.5</text>
<line x1="624.6" y1="138.1" x2="624.6" y2="140.3" stroke="#333" stroke-width="0.75"/>
<text x="624.6" y="147.4" font-size="6.3" text-anchor="middle" fill="#161616" stroke="#161616" stroke-width="0.1">10.0</text>
<line x1="651.6" y1="138.1" x2="651.6" y2="140.3" stroke="#333" stroke-width="0.75"/>
<text x="651.6" y="147.4" font-size="6.3" text-anchor="middle" fill="#161616" stroke="#161616" stroke-width="0.1">12.5</text>
<line x1="678.6" y1="138.1" x2="678.6" y2="140.3" stroke="#333" stroke-width="0.75"/>
<text x="678.6" y="147.4" font-size="6.3" text-anchor="middle" fill="#161616" stroke="#161616" stroke-width="0.1">15.0</text>
<line x1="480.3" y1="132.1" x2="482.5" y2="132.1" stroke="#333" stroke-width="0.75"/>
<text x="478.0" y="134.4" font-size="6.3" text-anchor="end" fill="#161616" stroke="#161616" stroke-width="0.1">2</text>
<line x1="480.3" y1="109.2" x2="482.5" y2="109.2" stroke="#333" stroke-width="0.75"/>
<text x="478.0" y="111.5" font-size="6.3" text-anchor="end" fill="#161616" stroke="#161616" stroke-width="0.1">4</text>
<line x1="480.3" y1="86.3" x2="482.5" y2="86.3" stroke="#333" stroke-width="0.75"/>
<text x="478.0" y="88.6" font-size="6.3" text-anchor="end" fill="#161616" stroke="#161616" stroke-width="0.1">6</text>
<line x1="480.3" y1="63.4" x2="482.5" y2="63.4" stroke="#333" stroke-width="0.75"/>
<text x="478.0" y="65.7" font-size="6.3" text-anchor="end" fill="#161616" stroke="#161616" stroke-width="0.1">8</text>
<line x1="480.3" y1="40.5" x2="482.5" y2="40.5" stroke="#333" stroke-width="0.75"/>
<text x="478.0" y="42.8" font-size="6.3" text-anchor="end" fill="#161616" stroke="#161616" stroke-width="0.1">10</text>
<line x1="480.3" y1="17.6" x2="482.5" y2="17.6" stroke="#333" stroke-width="0.75"/>
<text x="478.0" y="19.9" font-size="6.3" text-anchor="end" fill="#161616" stroke="#161616" stroke-width="0.1">12</text>
<text x="580.8" y="154.7" font-size="6.1" text-anchor="middle" fill="#161616" stroke="#161616" stroke-width="0.1">UMAP1</text>
<text x="466.5" y="74.5" font-size="6.1" text-anchor="middle" transform="rotate(-90 466.5 74.5)" fill="#161616" stroke="#161616" stroke-width="0.1">UMAP2</text>
<path d="M503.0 116.0C503.8 112.8 512.2 106.3 520.0 103.0C527.8 99.7 540.8 97.8 550.0 96.0C559.2 94.2 568.3 92.0 575.0 92.0C581.7 92.0 590.0 93.3 590.0 96.0C590.0 98.7 580.0 104.0 575.0 108.0C570.0 112.0 566.7 117.2 560.0 120.0C553.3 122.8 542.5 124.7 535.0 125.0C527.5 125.3 520.3 123.5 515.0 122.0C509.7 120.5 502.2 119.2 503.0 116.0Z" fill="#b9a0d8" filter="url(#sc28)"/>
<path d="M508.7 78.9C508.7 75.8 517.7 64.1 522.2 57.1C526.7 50.1 530.6 42.8 535.6 36.9C540.6 31.0 546.8 25.1 552.4 21.8C558.0 18.5 563.1 17.8 569.2 16.8C575.4 15.9 583.7 15.6 589.3 16.1C594.9 16.7 600.0 18.3 602.8 20.1C605.6 21.9 606.8 24.6 606.0 26.9C605.2 29.1 600.8 31.4 598.0 33.6C595.2 35.8 589.6 37.5 589.3 40.3C589.0 43.1 596.0 47.0 596.0 50.4C596.0 53.8 594.3 56.8 589.3 60.4C584.3 64.0 573.6 69.4 565.8 72.2C558.0 75.0 549.6 76.6 542.3 77.2C535.0 77.8 527.8 75.3 522.2 75.6C516.6 75.9 508.7 82.0 508.7 78.9Z" fill="#4f94da" opacity="0.085" filter="url(#bl2)"/>
<path d="M508.7 78.9C508.7 75.8 517.7 64.1 522.2 57.1C526.7 50.1 530.6 42.8 535.6 36.9C540.6 31.0 546.8 25.1 552.4 21.8C558.0 18.5 563.1 17.8 569.2 16.8C575.4 15.9 583.7 15.6 589.3 16.1C594.9 16.7 600.0 18.3 602.8 20.1C605.6 21.9 606.8 24.6 606.0 26.9C605.2 29.1 600.8 31.4 598.0 33.6C595.2 35.8 589.6 37.5 589.3 40.3C589.0 43.1 596.0 47.0 596.0 50.4C596.0 53.8 594.3 56.8 589.3 60.4C584.3 64.0 573.6 69.4 565.8 72.2C558.0 75.0 549.6 76.6 542.3 77.2C535.0 77.8 527.8 75.3 522.2 75.6C516.6 75.9 508.7 82.0 508.7 78.9Z" fill="#4f94da" filter="url(#sc29)"/>
<path d="M582.7 26.2C584.6 29.0 585.4 33.3 584.6 37.0C583.9 40.8 581.4 45.6 578.3 49.0C575.3 52.4 570.5 55.8 566.2 57.5C561.9 59.2 556.6 59.9 552.8 59.3C549.0 58.7 545.3 56.5 543.3 53.8C541.4 51.0 540.6 46.7 541.4 43.0C542.1 39.2 544.6 34.4 547.7 31.0C550.7 27.6 555.5 24.2 559.8 22.5C564.1 20.8 569.4 20.1 573.2 20.7C577.0 21.3 580.7 23.5 582.7 26.2Z" fill="#4f94da" opacity="0.06" filter="url(#bl3)"/>
<path d="M582.7 26.2C584.6 29.0 585.4 33.3 584.6 37.0C583.9 40.8 581.4 45.6 578.3 49.0C575.3 52.4 570.5 55.8 566.2 57.5C561.9 59.2 556.6 59.9 552.8 59.3C549.0 58.7 545.3 56.5 543.3 53.8C541.4 51.0 540.6 46.7 541.4 43.0C542.1 39.2 544.6 34.4 547.7 31.0C550.7 27.6 555.5 24.2 559.8 22.5C564.1 20.8 569.4 20.1 573.2 20.7C577.0 21.3 580.7 23.5 582.7 26.2Z" fill="#4f94da" filter="url(#sc30)"/>
<path d="M565.8 67.2C565.8 63.6 582.6 54.9 589.3 50.4C596.0 45.9 599.4 41.7 606.1 40.3C612.8 38.9 621.8 40.9 629.6 42.0C637.4 43.1 647.5 45.6 653.1 47.0C658.7 48.4 664.9 48.4 663.2 50.4C661.5 52.4 650.8 56.3 643.0 58.8C635.2 61.3 625.2 63.3 616.2 65.5C607.2 67.7 597.7 71.9 589.3 72.2C580.9 72.5 565.8 70.8 565.8 67.2Z" fill="#ffa04a" opacity="0.06" filter="url(#bl2)"/>
<path d="M565.8 67.2C565.8 63.6 582.6 54.9 589.3 50.4C596.0 45.9 599.4 41.7 606.1 40.3C612.8 38.9 621.8 40.9 629.6 42.0C637.4 43.1 647.5 45.6 653.1 47.0C658.7 48.4 664.9 48.4 663.2 50.4C661.5 52.4 650.8 56.3 643.0 58.8C635.2 61.3 625.2 63.3 616.2 65.5C607.2 67.7 597.7 71.9 589.3 72.2C580.9 72.5 565.8 70.8 565.8 67.2Z" fill="#ffa04a" filter="url(#sc31)"/>
<path d="M572.5 95.7C573.6 93.5 583.1 87.3 589.3 84.0C595.5 80.7 602.8 77.8 609.5 75.6C616.2 73.3 624.0 70.8 629.6 70.5C635.2 70.2 641.6 72.1 643.0 74.0C644.4 75.9 642.5 80.0 638.0 82.0C633.5 84.0 623.2 84.3 616.2 86.0C609.2 87.7 601.6 90.1 596.0 92.0C590.4 93.9 586.5 96.8 582.6 97.4C578.7 98.0 571.4 97.9 572.5 95.7Z" fill="#777" opacity="0.05" filter="url(#bl2)"/>
<path d="M572.5 95.7C573.6 93.5 583.1 87.3 589.3 84.0C595.5 80.7 602.8 77.8 609.5 75.6C616.2 73.3 624.0 70.8 629.6 70.5C635.2 70.2 641.6 72.1 643.0 74.0C644.4 75.9 642.5 80.0 638.0 82.0C633.5 84.0 623.2 84.3 616.2 86.0C609.2 87.7 601.6 90.1 596.0 92.0C590.4 93.9 586.5 96.8 582.6 97.4C578.7 98.0 571.4 97.9 572.5 95.7Z" fill="#777" filter="url(#sc32)"/>
<path d="M491.0 99.5C491.3 97.6 492.7 93.9 495.5 91.0C498.3 88.1 500.5 84.4 507.9 82.0C515.3 79.6 530.1 78.3 539.7 76.5C549.4 74.7 557.5 73.2 565.8 71.2C574.1 69.2 582.0 66.4 589.3 64.5C596.6 62.6 602.8 61.1 609.5 59.8C616.2 58.5 624.0 57.2 629.6 56.8C635.2 56.3 643.0 55.5 643.0 57.1C643.0 58.7 635.8 63.4 629.6 66.5C623.5 69.6 614.0 72.3 606.1 75.5C598.2 78.7 588.8 82.6 582.0 85.5C575.2 88.4 572.1 90.3 565.1 92.8C558.1 95.2 548.9 98.3 539.7 100.2C530.5 102.1 517.7 103.8 510.0 104.2C502.3 104.6 496.8 103.3 493.6 102.5C490.4 101.7 490.7 101.4 491.0 99.5Z" fill="#96483c" opacity="0.06" filter="url(#bl4)"/>
<path d="M491.0 99.5C491.3 97.6 492.7 93.9 495.5 91.0C498.3 88.1 500.5 84.4 507.9 82.0C515.3 79.6 530.1 78.3 539.7 76.5C549.4 74.7 557.5 73.2 565.8 71.2C574.1 69.2 582.0 66.4 589.3 64.5C596.6 62.6 602.8 61.1 609.5 59.8C616.2 58.5 624.0 57.2 629.6 56.8C635.2 56.3 643.0 55.5 643.0 57.1C643.0 58.7 635.8 63.4 629.6 66.5C623.5 69.6 614.0 72.3 606.1 75.5C598.2 78.7 588.8 82.6 582.0 85.5C575.2 88.4 572.1 90.3 565.1 92.8C558.1 95.2 548.9 98.3 539.7 100.2C530.5 102.1 517.7 103.8 510.0 104.2C502.3 104.6 496.8 103.3 493.6 102.5C490.4 101.7 490.7 101.4 491.0 99.5Z" fill="#96483c" filter="url(#sc33)"/>
<path d="M491.5 99.3C491.9 97.6 493.8 94.1 496.5 91.5C499.2 88.9 500.7 85.7 507.9 83.5C515.1 81.3 528.8 80.1 539.7 78.2C550.6 76.3 563.6 74.4 573.5 72.2C583.4 70.0 595.2 64.4 599.0 65.0C602.8 65.6 598.8 72.9 596.0 76.0C593.2 79.1 587.1 81.0 582.0 83.5C576.9 86.0 572.1 88.5 565.1 91.0C558.1 93.5 548.9 96.5 539.7 98.5C530.5 100.5 517.6 102.2 510.0 102.8C502.4 103.3 497.1 102.4 494.0 101.8C490.9 101.2 491.1 101.0 491.5 99.3Z" fill="#96483c" opacity="0.1" filter="url(#bl5)"/>
<path d="M491.5 99.3C491.9 97.6 493.8 94.1 496.5 91.5C499.2 88.9 500.7 85.7 507.9 83.5C515.1 81.3 528.8 80.1 539.7 78.2C550.6 76.3 563.6 74.4 573.5 72.2C583.4 70.0 595.2 64.4 599.0 65.0C602.8 65.6 598.8 72.9 596.0 76.0C593.2 79.1 587.1 81.0 582.0 83.5C576.9 86.0 572.1 88.5 565.1 91.0C558.1 93.5 548.9 96.5 539.7 98.5C530.5 100.5 517.6 102.2 510.0 102.8C502.4 103.3 497.1 102.4 494.0 101.8C490.9 101.2 491.1 101.0 491.5 99.3Z" fill="#96483c" filter="url(#sc34)"/>
<path d="M583.0 70.0C586.6 66.6 601.7 63.1 609.5 61.0C617.3 58.9 624.4 58.1 629.6 57.5C634.9 56.9 641.0 56.2 641.0 57.5C641.0 58.8 635.4 62.7 629.6 65.5C623.8 68.3 613.0 71.8 606.1 74.5C599.2 77.2 591.9 82.2 588.0 81.5C584.1 80.8 579.4 73.4 583.0 70.0Z" fill="#96483c" opacity="0.07" filter="url(#bl1)"/>
<path d="M583.0 70.0C586.6 66.6 601.7 63.1 609.5 61.0C617.3 58.9 624.4 58.1 629.6 57.5C634.9 56.9 641.0 56.2 641.0 57.5C641.0 58.8 635.4 62.7 629.6 65.5C623.8 68.3 613.0 71.8 606.1 74.5C599.2 77.2 591.9 82.2 588.0 81.5C584.1 80.8 579.4 73.4 583.0 70.0Z" fill="#96483c" filter="url(#sc35)"/>
<path d="M670.1 64.6C669.8 65.8 668.5 67.1 666.9 67.7C665.3 68.3 662.7 68.6 660.5 68.4C658.2 68.2 655.4 67.5 653.3 66.5C651.3 65.6 649.2 64.0 648.1 62.7C647.1 61.3 646.6 59.6 646.9 58.4C647.2 57.2 648.5 55.9 650.1 55.3C651.7 54.7 654.3 54.4 656.5 54.6C658.8 54.8 661.6 55.5 663.7 56.5C665.7 57.4 667.8 59.0 668.9 60.3C669.9 61.7 670.4 63.4 670.1 64.6Z" fill="#e8283a" opacity="0.07" filter="url(#bl1)"/>
<path d="M670.1 64.6C669.8 65.8 668.5 67.1 666.9 67.7C665.3 68.3 662.7 68.6 660.5 68.4C658.2 68.2 655.4 67.5 653.3 66.5C651.3 65.6 649.2 64.0 648.1 62.7C647.1 61.3 646.6 59.6 646.9 58.4C647.2 57.2 648.5 55.9 650.1 55.3C651.7 54.7 654.3 54.4 656.5 54.6C658.8 54.8 661.6 55.5 663.7 56.5C665.7 57.4 667.8 59.0 668.9 60.3C669.9 61.7 670.4 63.4 670.1 64.6Z" fill="#e8283a" filter="url(#sc36)"/>
<path d="M506.9 122.4C507.3 121.2 512.7 121.6 516.3 120.6C519.9 119.6 524.2 117.8 528.6 116.2C533.0 114.6 538.5 112.1 542.6 110.8C546.7 109.5 550.6 108.9 553.1 108.2C555.6 107.5 557.3 106.2 557.5 106.8C557.7 107.4 555.9 110.0 554.5 111.9C553.1 113.9 550.8 116.6 549.0 118.5C547.2 120.4 545.9 122.0 543.9 123.5C541.9 125.0 539.1 126.4 537.0 127.5C534.9 128.6 533.8 129.4 531.2 129.9C528.6 130.4 524.5 130.7 521.6 130.3C518.7 129.9 516.5 128.9 514.0 127.6C511.6 126.3 506.5 123.6 506.9 122.4Z" fill="#8a55c8" opacity="0.2" filter="url(#bl6)"/>
<path d="M506.9 122.4C507.3 121.2 512.7 121.6 516.3 120.6C519.9 119.6 524.2 117.8 528.6 116.2C533.0 114.6 538.5 112.1 542.6 110.8C546.7 109.5 550.6 108.9 553.1 108.2C555.6 107.5 557.3 106.2 557.5 106.8C557.7 107.4 555.9 110.0 554.5 111.9C553.1 113.9 550.8 116.6 549.0 118.5C547.2 120.4 545.9 122.0 543.9 123.5C541.9 125.0 539.1 126.4 537.0 127.5C534.9 128.6 533.8 129.4 531.2 129.9C528.6 130.4 524.5 130.7 521.6 130.3C518.7 129.9 516.5 128.9 514.0 127.6C511.6 126.3 506.5 123.6 506.9 122.4Z" fill="#8a55c8" filter="url(#sc37)"/>
<path d="M498.0 118.0C501.0 115.3 512.2 114.3 520.0 112.0C527.8 109.7 538.0 105.5 545.0 104.0C552.0 102.5 557.0 102.3 562.0 103.0C567.0 103.7 575.3 104.8 575.0 108.0C574.7 111.2 564.5 118.0 560.0 122.0C555.5 126.0 554.7 130.0 548.0 132.0C541.3 134.0 527.7 134.7 520.0 134.0C512.3 133.3 505.7 130.7 502.0 128.0C498.3 125.3 495.0 120.7 498.0 118.0Z" fill="#c9b3e6" filter="url(#sc38)"/>
<path d="M543.9 129.9C545.0 128.5 548.8 125.7 552.4 123.5C556.0 121.3 561.3 118.3 565.8 116.5C570.3 114.7 577.2 112.4 579.5 112.6C581.8 112.8 581.6 115.5 579.5 117.5C577.4 119.5 571.2 122.5 567.0 124.8C562.8 127.0 557.6 129.8 554.1 131.0C550.6 132.2 547.4 132.4 545.7 132.2C544.0 132.0 542.8 131.3 543.9 129.9Z" fill="#ff5ad2" opacity="0.09" filter="url(#bl7)"/>
<path d="M543.9 129.9C545.0 128.5 548.8 125.7 552.4 123.5C556.0 121.3 561.3 118.3 565.8 116.5C570.3 114.7 577.2 112.4 579.5 112.6C581.8 112.8 581.6 115.5 579.5 117.5C577.4 119.5 571.2 122.5 567.0 124.8C562.8 127.0 557.6 129.8 554.1 131.0C550.6 132.2 547.4 132.4 545.7 132.2C544.0 132.0 542.8 131.3 543.9 129.9Z" fill="#ff5ad2" filter="url(#sc39)"/>
<path d="M578.3 116.2C578.5 116.6 578.3 117.2 577.9 117.9C577.4 118.5 576.5 119.3 575.6 120.0C574.7 120.6 573.4 121.3 572.3 121.7C571.3 122.1 570.1 122.4 569.3 122.4C568.5 122.4 567.9 122.2 567.7 121.8C567.5 121.4 567.7 120.8 568.1 120.1C568.6 119.5 569.5 118.7 570.4 118.0C571.3 117.4 572.6 116.7 573.7 116.3C574.7 115.9 575.9 115.6 576.7 115.6C577.5 115.6 578.1 115.8 578.3 116.2Z" fill="#f23fbf" opacity="0.06" filter="url(#bl0)"/>
<path d="M578.3 116.2C578.5 116.6 578.3 117.2 577.9 117.9C577.4 118.5 576.5 119.3 575.6 120.0C574.7 120.6 573.4 121.3 572.3 121.7C571.3 122.1 570.1 122.4 569.3 122.4C568.5 122.4 567.9 122.2 567.7 121.8C567.5 121.4 567.7 120.8 568.1 120.1C568.6 119.5 569.5 118.7 570.4 118.0C571.3 117.4 572.6 116.7 573.7 116.3C574.7 115.9 575.9 115.6 576.7 115.6C577.5 115.6 578.1 115.8 578.3 116.2Z" fill="#f23fbf" filter="url(#sc40)"/>
<path d="M535.0 128.0C536.2 124.8 546.2 119.3 552.0 116.0C557.8 112.7 564.7 109.3 570.0 108.0C575.3 106.7 582.0 106.0 584.0 108.0C586.0 110.0 585.2 116.3 582.0 120.0C578.8 123.7 571.2 127.5 565.0 130.0C558.8 132.5 550.0 135.3 545.0 135.0C540.0 134.7 533.8 131.2 535.0 128.0Z" fill="#ffb3e6" filter="url(#sc41)"/>
<circle cx="646.5" cy="84.7" r="1.7" fill="#1f3fa0"/>
<text x="655.5" y="86.5" font-size="4.95" fill="#1a1a1a">CA1</text>
<circle cx="646.5" cy="91.9" r="1.7" fill="#ff5a1f"/>
<text x="655.5" y="93.6" font-size="4.95" fill="#1a1a1a">CA1-ProS</text>
<circle cx="646.5" cy="99.1" r="1.7" fill="#1e6b1e"/>
<text x="655.5" y="100.8" font-size="4.95" fill="#1a1a1a">CA2</text>
<circle cx="646.5" cy="106.2" r="1.7" fill="#b01212"/>
<text x="655.5" y="108.0" font-size="4.95" fill="#1a1a1a">CA3</text>
<circle cx="646.5" cy="113.4" r="1.7" fill="#5a1fa8"/>
<text x="655.5" y="115.2" font-size="4.95" fill="#1a1a1a">CT SUB</text>
<circle cx="646.5" cy="120.6" r="1.7" fill="#4a1212"/>
<text x="655.5" y="122.3" font-size="4.95" fill="#1a1a1a">DG</text>
<circle cx="646.5" cy="127.8" r="1.7" fill="#e21fb2"/>
<text x="655.5" y="129.5" font-size="4.95" fill="#1a1a1a">NP SUB</text>
<circle cx="646.5" cy="135.0" r="1.7" fill="#333"/>
<text x="655.5" y="136.7" font-size="4.95" fill="#1a1a1a">SUB-ProS</text>
<text x="0.1" y="178.4" font-size="12.4" font-weight="bold" textLength="8.5" lengthAdjust="spacingAndGlyphs" fill="#000">d</text>
<rect x="34.3" y="184.3" width="147.2" height="136.6" fill="#fff5eb"/>
<rect x="34.3" y="184.3" width="18.4" height="17.1" fill="#822804"/>
<rect x="52.7" y="184.3" width="18.4" height="17.1" fill="#fff4e9"/>
<rect x="34.3" y="201.4" width="18.4" height="17.1" fill="#fee1c3"/>
<rect x="52.7" y="201.4" width="18.4" height="17.1" fill="#bb3d02"/>
<rect x="107.9" y="201.4" width="18.4" height="17.1" fill="#fff5ea"/>
<rect x="126.3" y="201.4" width="18.4" height="17.1" fill="#fff5ea"/>
<rect x="163.1" y="201.4" width="18.4" height="17.1" fill="#fff3e8"/>
<rect x="34.3" y="218.4" width="18.4" height="17.1" fill="#feead5"/>
<rect x="71.1" y="218.4" width="18.4" height="17.1" fill="#d94801"/>
<rect x="89.5" y="218.4" width="18.4" height="17.1" fill="#feeedc"/>
<rect x="126.3" y="218.4" width="18.4" height="17.1" fill="#feead5"/>
<rect x="34.3" y="235.5" width="18.4" height="17.1" fill="#fff0e0"/>
<rect x="52.7" y="235.5" width="18.4" height="17.1" fill="#fff5ea"/>
<rect x="89.5" y="235.5" width="18.4" height="17.1" fill="#902d04"/>
<rect x="126.3" y="235.5" width="18.4" height="17.1" fill="#fff4ea"/>
<rect x="107.9" y="252.6" width="18.4" height="17.1" fill="#7f2704"/>
<rect x="126.3" y="269.7" width="18.4" height="17.1" fill="#7f2704"/>
<rect x="107.9" y="286.8" width="18.4" height="17.1" fill="#fff0e2"/>
<rect x="144.7" y="286.8" width="18.4" height="17.1" fill="#8b2c04"/>
<rect x="52.7" y="303.8" width="18.4" height="17.1" fill="#fff4ea"/>
<rect x="107.9" y="303.8" width="18.4" height="17.1" fill="#fff4ea"/>
<rect x="163.1" y="303.8" width="18.4" height="17.1" fill="#822804"/>
<text x="43.5" y="194.2" font-size="3.8" text-anchor="middle" fill="#fff" stroke="#fff" stroke-width="0.04">0.9916</text>
<text x="61.9" y="194.2" font-size="3.8" text-anchor="middle" fill="#2a1c16" stroke="#2a1c16" stroke-width="0.04">0.0076</text>
<text x="80.3" y="194.2" font-size="3.8" text-anchor="middle" fill="#2a1c16" stroke="#2a1c16" stroke-width="0.04">0.0000</text>
<text x="98.7" y="194.2" font-size="3.8" text-anchor="middle" fill="#2a1c16" stroke="#2a1c16" stroke-width="0.04">0.0000</text>
<text x="117.1" y="194.2" font-size="3.8" text-anchor="middle" fill="#2a1c16" stroke="#2a1c16" stroke-width="0.04">0.0000</text>
<text x="135.5" y="194.2" font-size="3.8" text-anchor="middle" fill="#2a1c16" stroke="#2a1c16" stroke-width="0.04">0.0000</text>
<text x="153.9" y="194.2" font-size="3.8" text-anchor="middle" fill="#2a1c16" stroke="#2a1c16" stroke-width="0.04">0.0000</text>
<text x="172.3" y="194.2" font-size="3.8" text-anchor="middle" fill="#2a1c16" stroke="#2a1c16" stroke-width="0.04">0.0008</text>
<text x="43.5" y="211.3" font-size="3.8" text-anchor="middle" fill="#2a1c16" stroke="#2a1c16" stroke-width="0.04">0.1553</text>
<text x="61.9" y="211.3" font-size="3.8" text-anchor="middle" fill="#fff" stroke="#fff" stroke-width="0.04">0.8245</text>
<text x="80.3" y="211.3" font-size="3.8" text-anchor="middle" fill="#2a1c16" stroke="#2a1c16" stroke-width="0.04">0.0000</text>
<text x="98.7" y="211.3" font-size="3.8" text-anchor="middle" fill="#2a1c16" stroke="#2a1c16" stroke-width="0.04">0.0000</text>
<text x="117.1" y="211.3" font-size="3.8" text-anchor="middle" fill="#2a1c16" stroke="#2a1c16" stroke-width="0.04">0.0031</text>
<text x="135.5" y="211.3" font-size="3.8" text-anchor="middle" fill="#2a1c16" stroke="#2a1c16" stroke-width="0.04">0.0031</text>
<text x="153.9" y="211.3" font-size="3.8" text-anchor="middle" fill="#2a1c16" stroke="#2a1c16" stroke-width="0.04">0.0000</text>
<text x="172.3" y="211.3" font-size="3.8" text-anchor="middle" fill="#2a1c16" stroke="#2a1c16" stroke-width="0.04">0.0140</text>
<text x="43.5" y="228.4" font-size="3.8" text-anchor="middle" fill="#2a1c16" stroke="#2a1c16" stroke-width="0.04">0.0938</text>
<text x="61.9" y="228.4" font-size="3.8" text-anchor="middle" fill="#2a1c16" stroke="#2a1c16" stroke-width="0.04">0.0000</text>
<text x="80.3" y="228.4" font-size="3.8" text-anchor="middle" fill="#fff" stroke="#fff" stroke-width="0.04">0.7500</text>
<text x="98.7" y="228.4" font-size="3.8" text-anchor="middle" fill="#2a1c16" stroke="#2a1c16" stroke-width="0.04">0.0625</text>
<text x="117.1" y="228.4" font-size="3.8" text-anchor="middle" fill="#2a1c16" stroke="#2a1c16" stroke-width="0.04">0.0000</text>
<text x="135.5" y="228.4" font-size="3.8" text-anchor="middle" fill="#2a1c16" stroke="#2a1c16" stroke-width="0.04">0.0938</text>
<text x="153.9" y="228.4" font-size="3.8" text-anchor="middle" fill="#2a1c16" stroke="#2a1c16" stroke-width="0.04">0.0000</text>
<text x="172.3" y="228.4" font-size="3.8" text-anchor="middle" fill="#2a1c16" stroke="#2a1c16" stroke-width="0.04">0.0000</text>
<text x="43.5" y="245.5" font-size="3.8" text-anchor="middle" fill="#2a1c16" stroke="#2a1c16" stroke-width="0.04">0.0453</text>
<text x="61.9" y="245.5" font-size="3.8" text-anchor="middle" fill="#2a1c16" stroke="#2a1c16" stroke-width="0.04">0.0027</text>
<text x="80.3" y="245.5" font-size="3.8" text-anchor="middle" fill="#2a1c16" stroke="#2a1c16" stroke-width="0.04">0.0000</text>
<text x="98.7" y="245.5" font-size="3.8" text-anchor="middle" fill="#fff" stroke="#fff" stroke-width="0.04">0.9467</text>
<text x="117.1" y="245.5" font-size="3.8" text-anchor="middle" fill="#2a1c16" stroke="#2a1c16" stroke-width="0.04">0.0000</text>
<text x="135.5" y="245.5" font-size="3.8" text-anchor="middle" fill="#2a1c16" stroke="#2a1c16" stroke-width="0.04">0.0053</text>
<text x="153.9" y="245.5" font-size="3.8" text-anchor="middle" fill="#2a1c16" stroke="#2a1c16" stroke-width="0.04">0.0000</text>
<text x="172.3" y="245.5" font-size="3.8" text-anchor="middle" fill="#2a1c16" stroke="#2a1c16" stroke-width="0.04">0.0000</text>
<text x="43.5" y="262.5" font-size="3.8" text-anchor="middle" fill="#2a1c16" stroke="#2a1c16" stroke-width="0.04">0.0000</text>
<text x="61.9" y="262.5" font-size="3.8" text-anchor="middle" fill="#2a1c16" stroke="#2a1c16" stroke-width="0.04">0.0000</text>
<text x="80.3" y="262.5" font-size="3.8" text-anchor="middle" fill="#2a1c16" stroke="#2a1c16" stroke-width="0.04">0.0000</text>
<text x="98.7" y="262.5" font-size="3.8" text-anchor="middle" fill="#2a1c16" stroke="#2a1c16" stroke-width="0.04">0.0000</text>
<text x="117.1" y="262.5" font-size="3.8" text-anchor="middle" fill="#fff" stroke="#fff" stroke-width="0.04">1.0000</text>
<text x="135.5" y="262.5" font-size="3.8" text-anchor="middle" fill="#2a1c16" stroke="#2a1c16" stroke-width="0.04">0.0000</text>
<text x="153.9" y="262.5" font-size="3.8" text-anchor="middle" fill="#2a1c16" stroke="#2a1c16" stroke-width="0.04">0.0000</text>
<text x="172.3" y="262.5" font-size="3.8" text-anchor="middle" fill="#2a1c16" stroke="#2a1c16" stroke-width="0.04">0.0000</text>
<text x="43.5" y="279.6" font-size="3.8" text-anchor="middle" fill="#2a1c16" stroke="#2a1c16" stroke-width="0.04">0.0000</text>
<text x="61.9" y="279.6" font-size="3.8" text-anchor="middle" fill="#2a1c16" stroke="#2a1c16" stroke-width="0.04">0.0000</text>
<text x="80.3" y="279.6" font-size="3.8" text-anchor="middle" fill="#2a1c16" stroke="#2a1c16" stroke-width="0.04">0.0000</text>
<text x="98.7" y="279.6" font-size="3.8" text-anchor="middle" fill="#2a1c16" stroke="#2a1c16" stroke-width="0.04">0.0004</text>
<text x="117.1" y="279.6" font-size="3.8" text-anchor="middle" fill="#2a1c16" stroke="#2a1c16" stroke-width="0.04">0.0000</text>
<text x="135.5" y="279.6" font-size="3.8" text-anchor="middle" fill="#fff" stroke="#fff" stroke-width="0.04">0.9996</text>
<text x="153.9" y="279.6" font-size="3.8" text-anchor="middle" fill="#2a1c16" stroke="#2a1c16" stroke-width="0.04">0.0000</text>
<text x="172.3" y="279.6" font-size="3.8" text-anchor="middle" fill="#2a1c16" stroke="#2a1c16" stroke-width="0.04">0.0000</text>
<text x="43.5" y="296.7" font-size="3.8" text-anchor="middle" fill="#2a1c16" stroke="#2a1c16" stroke-width="0.04">0.0000</text>
<text x="61.9" y="296.7" font-size="3.8" text-anchor="middle" fill="#2a1c16" stroke="#2a1c16" stroke-width="0.04">0.0000</text>
<text x="80.3" y="296.7" font-size="3.8" text-anchor="middle" fill="#2a1c16" stroke="#2a1c16" stroke-width="0.04">0.0000</text>
<text x="98.7" y="296.7" font-size="3.8" text-anchor="middle" fill="#2a1c16" stroke="#2a1c16" stroke-width="0.04">0.0000</text>
<text x="117.1" y="296.7" font-size="3.8" text-anchor="middle" fill="#2a1c16" stroke="#2a1c16" stroke-width="0.04">0.0389</text>
<text x="135.5" y="296.7" font-size="3.8" text-anchor="middle" fill="#2a1c16" stroke="#2a1c16" stroke-width="0.04">0.0000</text>
<text x="153.9" y="296.7" font-size="3.8" text-anchor="middle" fill="#fff" stroke="#fff" stroke-width="0.04">0.9611</text>
<text x="172.3" y="296.7" font-size="3.8" text-anchor="middle" fill="#2a1c16" stroke="#2a1c16" stroke-width="0.04">0.0000</text>
<text x="43.5" y="313.8" font-size="3.8" text-anchor="middle" fill="#2a1c16" stroke="#2a1c16" stroke-width="0.04">0.0011</text>
<text x="61.9" y="313.8" font-size="3.8" text-anchor="middle" fill="#2a1c16" stroke="#2a1c16" stroke-width="0.04">0.0044</text>
<text x="80.3" y="313.8" font-size="3.8" text-anchor="middle" fill="#2a1c16" stroke="#2a1c16" stroke-width="0.04">0.0000</text>
<text x="98.7" y="313.8" font-size="3.8" text-anchor="middle" fill="#2a1c16" stroke="#2a1c16" stroke-width="0.04">0.0000</text>
<text x="117.1" y="313.8" font-size="3.8" text-anchor="middle" fill="#2a1c16" stroke="#2a1c16" stroke-width="0.04">0.0044</text>
<text x="135.5" y="313.8" font-size="3.8" text-anchor="middle" fill="#2a1c16" stroke="#2a1c16" stroke-width="0.04">0.0000</text>
<text x="153.9" y="313.8" font-size="3.8" text-anchor="middle" fill="#2a1c16" stroke="#2a1c16" stroke-width="0.04">0.0000</text>
<text x="172.3" y="313.8" font-size="3.8" text-anchor="middle" fill="#fff" stroke="#fff" stroke-width="0.04">0.9900</text>
<line x1="43.5" y1="320.9" x2="43.5" y2="322.4" stroke="#555" stroke-width="0.4"/>
<line x1="32.8" y1="192.8" x2="34.3" y2="192.8" stroke="#555" stroke-width="0.4"/>
<text x="43.5" y="328.1" font-size="4.9" text-anchor="middle" fill="#1a1a1a">CA1</text>
<text x="31.7" y="189.8" font-size="4.6" text-anchor="middle" transform="rotate(-90 31.7 189.8)" fill="#1a1a1a">CA1</text>
<line x1="61.9" y1="320.9" x2="61.9" y2="322.4" stroke="#555" stroke-width="0.4"/>
<line x1="32.8" y1="209.9" x2="34.3" y2="209.9" stroke="#555" stroke-width="0.4"/>
<text x="61.9" y="328.1" font-size="4.9" text-anchor="middle" fill="#1a1a1a">CA1-ProS</text>
<text x="31.7" y="210.5" font-size="4.6" text-anchor="middle" transform="rotate(-90 31.7 210.5)" fill="#1a1a1a">CA1-ProS</text>
<line x1="80.3" y1="320.9" x2="80.3" y2="322.4" stroke="#555" stroke-width="0.4"/>
<line x1="32.8" y1="227.0" x2="34.3" y2="227.0" stroke="#555" stroke-width="0.4"/>
<text x="80.3" y="328.1" font-size="4.9" text-anchor="middle" fill="#1a1a1a">CA2</text>
<text x="31.7" y="228.8" font-size="4.6" text-anchor="middle" transform="rotate(-90 31.7 228.8)" fill="#1a1a1a">CA2</text>
<line x1="98.7" y1="320.9" x2="98.7" y2="322.4" stroke="#555" stroke-width="0.4"/>
<line x1="32.8" y1="244.1" x2="34.3" y2="244.1" stroke="#555" stroke-width="0.4"/>
<text x="98.7" y="328.1" font-size="4.9" text-anchor="middle" fill="#1a1a1a">CA3</text>
<text x="31.7" y="244.3" font-size="4.6" text-anchor="middle" transform="rotate(-90 31.7 244.3)" fill="#1a1a1a">CA3</text>
<line x1="117.1" y1="320.9" x2="117.1" y2="322.4" stroke="#555" stroke-width="0.4"/>
<line x1="32.8" y1="261.1" x2="34.3" y2="261.1" stroke="#555" stroke-width="0.4"/>
<text x="117.1" y="328.1" font-size="4.9" text-anchor="middle" fill="#1a1a1a">CT SUB</text>
<text x="31.7" y="262.0" font-size="4.6" text-anchor="middle" transform="rotate(-90 31.7 262.0)" fill="#1a1a1a">CT SUB</text>
<line x1="135.5" y1="320.9" x2="135.5" y2="322.4" stroke="#555" stroke-width="0.4"/>
<line x1="32.8" y1="278.2" x2="34.3" y2="278.2" stroke="#555" stroke-width="0.4"/>
<text x="135.5" y="328.1" font-size="4.9" text-anchor="middle" fill="#1a1a1a">DG</text>
<text x="31.7" y="279.1" font-size="4.6" text-anchor="middle" transform="rotate(-90 31.7 279.1)" fill="#1a1a1a">DG</text>
<line x1="153.9" y1="320.9" x2="153.9" y2="322.4" stroke="#555" stroke-width="0.4"/>
<line x1="32.8" y1="295.3" x2="34.3" y2="295.3" stroke="#555" stroke-width="0.4"/>
<text x="153.9" y="328.1" font-size="4.9" text-anchor="middle" fill="#1a1a1a">NP SUB</text>
<text x="31.7" y="294.7" font-size="4.6" text-anchor="middle" transform="rotate(-90 31.7 294.7)" fill="#1a1a1a">NP SUB</text>
<line x1="172.3" y1="320.9" x2="172.3" y2="322.4" stroke="#555" stroke-width="0.4"/>
<line x1="32.8" y1="312.4" x2="34.3" y2="312.4" stroke="#555" stroke-width="0.4"/>
<text x="175.2" y="328.1" font-size="4.9" text-anchor="middle" fill="#1a1a1a">SUB-ProS</text>
<text x="31.7" y="315.8" font-size="4.6" text-anchor="middle" transform="rotate(-90 31.7 315.8)" fill="#1a1a1a">SUB-ProS</text>
<text x="21.2" y="252.1" font-size="6.75" text-anchor="middle" font-weight="bold" transform="rotate(-90 21.2 252.1)" fill="#000">True Class</text>
<text x="20.0" y="252.5" font-size="1" fill="#161616"></text>
<text x="110.0" y="338.1" font-size="6.85" text-anchor="middle" font-weight="bold" fill="#000">Predicted Class</text>
<linearGradient id="cb" x1="0" y1="1" x2="0" y2="0"><stop offset="0.0" stop-color="rgb(255, 245, 235)"/><stop offset="0.125" stop-color="rgb(254, 230, 206)"/><stop offset="0.25" stop-color="rgb(253, 208, 162)"/><stop offset="0.375" stop-color="rgb(253, 174, 107)"/><stop offset="0.5" stop-color="rgb(253, 141, 60)"/><stop offset="0.625" stop-color="rgb(241, 105, 19)"/><stop offset="0.75" stop-color="rgb(217, 72, 1)"/><stop offset="0.875" stop-color="rgb(166, 54, 3)"/><stop offset="1.0" stop-color="rgb(127, 39, 4)"/></linearGradient>
<rect x="183.8" y="184.3" width="6.2" height="136.6" fill="url(#cb)"/>
<line x1="190.0" y1="320.9" x2="191.4" y2="320.9" stroke="#555" stroke-width="0.4"/>
<text x="191.9" y="321.9" font-size="4.8" fill="#111">0.0</text>
<line x1="190.0" y1="293.6" x2="191.4" y2="293.6" stroke="#555" stroke-width="0.4"/>
<text x="191.9" y="294.6" font-size="4.8" fill="#111">0.2</text>
<line x1="190.0" y1="266.3" x2="191.4" y2="266.3" stroke="#555" stroke-width="0.4"/>
<text x="191.9" y="267.3" font-size="4.8" fill="#111">0.4</text>
<line x1="190.0" y1="238.9" x2="191.4" y2="238.9" stroke="#555" stroke-width="0.4"/>
<text x="191.9" y="239.9" font-size="4.8" fill="#111">0.6</text>
<line x1="190.0" y1="211.6" x2="191.4" y2="211.6" stroke="#555" stroke-width="0.4"/>
<text x="191.9" y="212.6" font-size="4.8" fill="#111">0.8</text>
<line x1="190.0" y1="184.3" x2="191.4" y2="184.3" stroke="#555" stroke-width="0.4"/>
<text x="191.9" y="185.3" font-size="4.8" fill="#111">1.0</text>
<text x="218.2" y="176.0" font-size="12.4" font-weight="bold" textLength="7.7" lengthAdjust="spacingAndGlyphs" fill="#000">e</text>
<rect x="256.5" y="184.2" width="196.4" height="127.1" fill="none" stroke="#595959" stroke-width="0.8"/>
<line x1="265.5" y1="311.3" x2="265.5" y2="313.5" stroke="#333" stroke-width="0.75"/>
<text x="265.5" y="320.8" font-size="6.5" text-anchor="middle" fill="#161616" stroke="#161616" stroke-width="0.1">0</text>
<line x1="294.2" y1="311.3" x2="294.2" y2="313.5" stroke="#333" stroke-width="0.75"/>
<text x="294.2" y="320.8" font-size="6.5" text-anchor="middle" fill="#161616" stroke="#161616" stroke-width="0.1">5000</text>
<line x1="323.0" y1="311.3" x2="323.0" y2="313.5" stroke="#333" stroke-width="0.75"/>
<text x="323.0" y="320.8" font-size="6.5" text-anchor="middle" fill="#161616" stroke="#161616" stroke-width="0.1">10000</text>
<line x1="351.8" y1="311.3" x2="351.8" y2="313.5" stroke="#333" stroke-width="0.75"/>
<text x="351.8" y="320.8" font-size="6.5" text-anchor="middle" fill="#161616" stroke="#161616" stroke-width="0.1">15000</text>
<line x1="380.5" y1="311.3" x2="380.5" y2="313.5" stroke="#333" stroke-width="0.75"/>
<text x="380.5" y="320.8" font-size="6.5" text-anchor="middle" fill="#161616" stroke="#161616" stroke-width="0.1">20000</text>
<line x1="409.2" y1="311.3" x2="409.2" y2="313.5" stroke="#333" stroke-width="0.75"/>
<text x="409.2" y="320.8" font-size="6.5" text-anchor="middle" fill="#161616" stroke="#161616" stroke-width="0.1">25000</text>
<line x1="438.0" y1="311.3" x2="438.0" y2="313.5" stroke="#333" stroke-width="0.75"/>
<text x="438.0" y="320.8" font-size="6.5" text-anchor="middle" fill="#161616" stroke="#161616" stroke-width="0.1">30000</text>
<line x1="254.3" y1="306.4" x2="256.5" y2="306.4" stroke="#333" stroke-width="0.75"/>
<text x="252.0" y="308.7" font-size="6.5" text-anchor="end" fill="#161616" stroke="#161616" stroke-width="0.1">0.0</text>
<line x1="254.3" y1="283.2" x2="256.5" y2="283.2" stroke="#333" stroke-width="0.75"/>
<text x="252.0" y="285.5" font-size="6.5" text-anchor="end" fill="#161616" stroke="#161616" stroke-width="0.1">0.2</text>
<line x1="254.3" y1="260.0" x2="256.5" y2="260.0" stroke="#333" stroke-width="0.75"/>
<text x="252.0" y="262.3" font-size="6.5" text-anchor="end" fill="#161616" stroke="#161616" stroke-width="0.1">0.4</text>
<line x1="254.3" y1="236.8" x2="256.5" y2="236.8" stroke="#333" stroke-width="0.75"/>
<text x="252.0" y="239.1" font-size="6.5" text-anchor="end" fill="#161616" stroke="#161616" stroke-width="0.1">0.6</text>
<line x1="254.3" y1="213.6" x2="256.5" y2="213.6" stroke="#333" stroke-width="0.75"/>
<text x="252.0" y="215.9" font-size="6.5" text-anchor="end" fill="#161616" stroke="#161616" stroke-width="0.1">0.8</text>
<line x1="254.3" y1="190.4" x2="256.5" y2="190.4" stroke="#333" stroke-width="0.75"/>
<text x="252.0" y="192.7" font-size="6.5" text-anchor="end" fill="#161616" stroke="#161616" stroke-width="0.1">1.0</text>
<text x="355.0" y="328.3" font-size="6.65" text-anchor="middle" fill="#161616" stroke="#161616" stroke-width="0.1">Number of genes</text>
<text x="240.3" y="248.0" font-size="6.65" text-anchor="middle" transform="rotate(-90 240.3 248.0)" fill="#161616" stroke="#161616" stroke-width="0.1">Feature importance</text>
<path d="M265.50 306.40 L265.64 286.81 L265.79 272.87 L266.07 254.38 L266.36 242.66 L266.65 234.57 L266.94 228.65 L267.23 224.13 L267.80 217.68 L268.38 213.30 L268.95 210.13 L269.81 206.74 L270.53 204.70 L271.25 203.11 L272.69 200.79 L274.12 199.19 L275.56 197.93 L277.00 196.66 L279.88 195.50 L282.75 194.34 L288.50 193.42 L294.25 192.49 L300.00 192.02 L308.62 191.33 L323.00 190.81 L337.38 190.63 L351.75 190.46 L380.50 190.44 L409.25 190.42 L444.90 190.40" fill="none" stroke="#1c1cff" stroke-width="1.15" stroke-linejoin="round"/>
<rect x="323.5" y="219.5" width="117.1" height="75.7" fill="#fff" stroke="#595959" stroke-width="0.5"/>
<path d="M328.50 292.20 L329.30 284.20 L330.10 277.77 L331.17 270.93 L332.50 264.32 L333.84 259.20 L335.17 255.10 L337.04 250.59 L339.17 246.63 L341.84 242.87 L344.51 240.00 L347.18 237.74 L349.84 235.91 L355.18 233.13 L360.52 231.12 L368.52 228.97 L375.19 227.67 L381.86 226.66 L381.86 292.20 L328.50 292.20Z" fill="#80aaff"/>
<path d="M328.50 292.20 L329.30 284.20 L330.10 277.77 L331.17 270.93 L332.50 264.32 L333.84 259.20 L335.17 255.10 L337.04 250.59 L339.17 246.63 L341.84 242.87 L344.51 240.00 L347.18 237.74 L349.84 235.91 L355.18 233.13 L360.52 231.12 L368.52 228.97 L375.19 227.67 L381.86 226.66 L395.20 225.19 L408.54 224.18 L421.88 223.38 L435.22 222.57" fill="none" stroke="#2a2aff" stroke-width="0.6"/>
<line x1="381.9" y1="226.0" x2="381.9" y2="292.2" stroke="#222" stroke-width="0.5" stroke-dasharray="0.9 0.6"/>
<line x1="328.5" y1="295.2" x2="328.5" y2="296.4" stroke="#595959" stroke-width="0.4"/>
<text x="328.5" y="300.2" font-size="4.0" text-anchor="middle" fill="#111">0</text>
<line x1="341.8" y1="295.2" x2="341.8" y2="296.4" stroke="#595959" stroke-width="0.4"/>
<text x="341.8" y="300.2" font-size="4.0" text-anchor="middle" fill="#111">250</text>
<line x1="355.2" y1="295.2" x2="355.2" y2="296.4" stroke="#595959" stroke-width="0.4"/>
<text x="355.2" y="300.2" font-size="4.0" text-anchor="middle" fill="#111">500</text>
<line x1="368.5" y1="295.2" x2="368.5" y2="296.4" stroke="#595959" stroke-width="0.4"/>
<text x="368.5" y="300.2" font-size="4.0" text-anchor="middle" fill="#111">750</text>
<line x1="381.9" y1="295.2" x2="381.9" y2="296.4" stroke="#595959" stroke-width="0.4"/>
<text x="381.9" y="300.2" font-size="4.0" text-anchor="middle" fill="#111">1000</text>
<line x1="395.2" y1="295.2" x2="395.2" y2="296.4" stroke="#595959" stroke-width="0.4"/>
<text x="395.2" y="300.2" font-size="4.0" text-anchor="middle" fill="#111">1250</text>
<line x1="408.5" y1="295.2" x2="408.5" y2="296.4" stroke="#595959" stroke-width="0.4"/>
<text x="408.5" y="300.2" font-size="4.0" text-anchor="middle" fill="#111">1500</text>
<line x1="421.9" y1="295.2" x2="421.9" y2="296.4" stroke="#595959" stroke-width="0.4"/>
<text x="421.9" y="300.2" font-size="4.0" text-anchor="middle" fill="#111">1750</text>
<line x1="435.2" y1="295.2" x2="435.2" y2="296.4" stroke="#595959" stroke-width="0.4"/>
<text x="435.2" y="300.2" font-size="4.0" text-anchor="middle" fill="#111">2000</text>
<line x1="322.3" y1="292.2" x2="323.5" y2="292.2" stroke="#595959" stroke-width="0.4"/>
<text x="321.6" y="293.6" font-size="4.0" text-anchor="end" fill="#111">0.0</text>
<line x1="322.3" y1="277.5" x2="323.5" y2="277.5" stroke="#595959" stroke-width="0.4"/>
<text x="321.6" y="278.8" font-size="4.0" text-anchor="end" fill="#111">0.2</text>
<line x1="322.3" y1="262.8" x2="323.5" y2="262.8" stroke="#595959" stroke-width="0.4"/>
<text x="321.6" y="264.1" font-size="4.0" text-anchor="end" fill="#111">0.4</text>
<line x1="322.3" y1="248.0" x2="323.5" y2="248.0" stroke="#595959" stroke-width="0.4"/>
<text x="321.6" y="249.4" font-size="4.0" text-anchor="end" fill="#111">0.6</text>
<line x1="322.3" y1="233.3" x2="323.5" y2="233.3" stroke="#595959" stroke-width="0.4"/>
<text x="321.6" y="234.7" font-size="4.0" text-anchor="end" fill="#111">0.8</text>
<text x="381.8" y="305.4" font-size="3.9" text-anchor="middle" fill="#111">Number of genes</text>
<text x="313.4" y="257.5" font-size="3.7" text-anchor="middle" transform="rotate(-90 313.4 257.5)" fill="#111">feature importance</text>
<text x="358.7" y="266.1" font-size="6.2" text-anchor="middle" font-weight="bold" textLength="14.5" lengthAdjust="spacingAndGlyphs" fill="#111">90%</text>
<text x="462.0" y="178.0" font-size="12.4" font-weight="bold" textLength="4.6" lengthAdjust="spacingAndGlyphs" fill="#000">f</text>
<rect x="484.4" y="184.3" width="197.1" height="127.9" fill="none" stroke="#595959" stroke-width="0.8"/>
<line x1="505.4" y1="312.2" x2="505.4" y2="314.4" stroke="#333" stroke-width="0.75"/>
<text x="505.4" y="321.5" font-size="6.3" text-anchor="middle" fill="#161616" stroke="#161616" stroke-width="0.1">−5</text>
<line x1="547.5" y1="312.2" x2="547.5" y2="314.4" stroke="#333" stroke-width="0.75"/>
<text x="547.5" y="321.5" font-size="6.3" text-anchor="middle" fill="#161616" stroke="#161616" stroke-width="0.1">0</text>
<line x1="589.5" y1="312.2" x2="589.5" y2="314.4" stroke="#333" stroke-width="0.75"/>
<text x="589.5" y="321.5" font-size="6.3" text-anchor="middle" fill="#161616" stroke="#161616" stroke-width="0.1">5</text>
<line x1="631.6" y1="312.2" x2="631.6" y2="314.4" stroke="#333" stroke-width="0.75"/>
<text x="631.6" y="321.5" font-size="6.3" text-anchor="middle" fill="#161616" stroke="#161616" stroke-width="0.1">10</text>
<line x1="673.6" y1="312.2" x2="673.6" y2="314.4" stroke="#333" stroke-width="0.75"/>
<text x="673.6" y="321.5" font-size="6.3" text-anchor="middle" fill="#161616" stroke="#161616" stroke-width="0.1">15</text>
<line x1="482.2" y1="304.4" x2="484.4" y2="304.4" stroke="#333" stroke-width="0.75"/>
<text x="479.9" y="306.7" font-size="6.3" text-anchor="end" fill="#161616" stroke="#161616" stroke-width="0.1">−5</text>
<line x1="482.2" y1="277.7" x2="484.4" y2="277.7" stroke="#333" stroke-width="0.75"/>
<text x="479.9" y="280.0" font-size="6.3" text-anchor="end" fill="#161616" stroke="#161616" stroke-width="0.1">0</text>
<line x1="482.2" y1="251.0" x2="484.4" y2="251.0" stroke="#333" stroke-width="0.75"/>
<text x="479.9" y="253.3" font-size="6.3" text-anchor="end" fill="#161616" stroke="#161616" stroke-width="0.1">5</text>
<line x1="482.2" y1="224.3" x2="484.4" y2="224.3" stroke="#333" stroke-width="0.75"/>
<text x="479.9" y="226.6" font-size="6.3" text-anchor="end" fill="#161616" stroke="#161616" stroke-width="0.1">10</text>
<line x1="482.2" y1="197.6" x2="484.4" y2="197.6" stroke="#333" stroke-width="0.75"/>
<text x="479.9" y="199.9" font-size="6.3" text-anchor="end" fill="#161616" stroke="#161616" stroke-width="0.1">15</text>
<text x="582.5" y="329.0" font-size="6.1" text-anchor="middle" fill="#161616" stroke="#161616" stroke-width="0.1">UMAP1</text>
<text x="468.3" y="248.5" font-size="6.1" text-anchor="middle" transform="rotate(-90 468.3 248.5)" fill="#161616" stroke="#161616" stroke-width="0.1">UMAP2</text>
<path d="M494.2 233.5C493.8 231.8 494.3 228.7 496.2 227.4C498.1 226.1 502.1 226.2 505.4 225.8C508.6 225.5 512.6 225.6 515.7 225.3C518.8 225.1 521.1 224.4 523.8 224.3C526.5 224.2 529.6 224.2 532.0 224.8C534.4 225.4 536.8 226.7 538.1 227.9C539.4 229.1 540.4 231.0 539.7 232.0C539.0 233.0 536.3 233.3 534.0 234.0C531.7 234.7 528.9 235.5 525.9 236.1C522.9 236.7 519.1 237.1 515.7 237.6C512.3 238.1 508.3 239.1 505.4 239.1C502.5 239.1 500.2 238.5 498.3 237.6C496.4 236.7 494.6 235.2 494.2 233.5Z" fill="#8c3b2e" opacity="0.14" filter="url(#bl0)"/>
<path d="M494.2 233.5C493.8 231.8 494.3 228.7 496.2 227.4C498.1 226.1 502.1 226.2 505.4 225.8C508.6 225.5 512.6 225.6 515.7 225.3C518.8 225.1 521.1 224.4 523.8 224.3C526.5 224.2 529.6 224.2 532.0 224.8C534.4 225.4 536.8 226.7 538.1 227.9C539.4 229.1 540.4 231.0 539.7 232.0C539.0 233.0 536.3 233.3 534.0 234.0C531.7 234.7 528.9 235.5 525.9 236.1C522.9 236.7 519.1 237.1 515.7 237.6C512.3 238.1 508.3 239.1 505.4 239.1C502.5 239.1 500.2 238.5 498.3 237.6C496.4 236.7 494.6 235.2 494.2 233.5Z" fill="#8c3b2e" filter="url(#sc17)"/>
<path d="M519.9 236.2C519.8 236.8 518.8 237.3 517.4 237.6C515.9 237.9 513.5 238.0 511.3 237.8C509.0 237.7 506.1 237.3 503.9 236.8C501.7 236.3 499.4 235.6 498.1 234.9C496.8 234.2 496.0 233.4 496.1 232.8C496.2 232.2 497.2 231.7 498.6 231.4C500.1 231.1 502.5 231.0 504.7 231.2C507.0 231.3 509.9 231.7 512.1 232.2C514.3 232.7 516.6 233.4 517.9 234.1C519.2 234.8 520.0 235.6 519.9 236.2Z" fill="#8c3b2e" opacity="0.1" filter="url(#bl0)"/>
<path d="M519.9 236.2C519.8 236.8 518.8 237.3 517.4 237.6C515.9 237.9 513.5 238.0 511.3 237.8C509.0 237.7 506.1 237.3 503.9 236.8C501.7 236.3 499.4 235.6 498.1 234.9C496.8 234.2 496.0 233.4 496.1 232.8C496.2 232.2 497.2 231.7 498.6 231.4C500.1 231.1 502.5 231.0 504.7 231.2C507.0 231.3 509.9 231.7 512.1 232.2C514.3 232.7 516.6 233.4 517.9 234.1C519.2 234.8 520.0 235.6 519.9 236.2Z" fill="#8c3b2e" filter="url(#sc42)"/>
<path d="M515.7 239.6C516.6 238.8 521.2 238.2 523.8 238.6C526.3 238.9 529.6 240.1 531.0 241.7C532.4 243.3 532.9 247.6 532.0 248.3C531.1 249.0 528.1 246.6 525.9 245.8C523.7 245.0 520.4 244.7 518.7 243.7C517.0 242.7 514.9 240.4 515.7 239.6Z" fill="#8c3b2e" opacity="0.05" filter="url(#bl0)"/>
<path d="M515.7 239.6C516.6 238.8 521.2 238.2 523.8 238.6C526.3 238.9 529.6 240.1 531.0 241.7C532.4 243.3 532.9 247.6 532.0 248.3C531.1 249.0 528.1 246.6 525.9 245.8C523.7 245.0 520.4 244.7 518.7 243.7C517.0 242.7 514.9 240.4 515.7 239.6Z" fill="#8c3b2e" filter="url(#sc19)"/>
<path d="M522.0 225.3C522.4 225.3 524.2 225.2 524.6 225.2" fill="none" stroke="#6e2a20" stroke-width="1.2" stroke-linecap="butt" opacity="0.88"/>
<path d="M510.5 245.8C510.8 246.1 511.5 246.9 512.0 247.4C512.5 247.9 513.3 248.6 513.6 248.8" fill="none" stroke="#8c3b2e" stroke-width="0.9" stroke-linecap="butt" opacity="0.69"/>
<circle cx="531.5" cy="247.8" r="0.7" fill="#8c3b2e" opacity="0.8"/>
<text x="533.5" y="223.8" font-size="7.3" font-weight="bold" fill="#9c4a3a">DG</text>
<path d="M510.9 269.0C511.0 268.7 511.5 267.8 511.8 267.2C512.1 266.6 512.6 265.8 512.7 265.5" fill="none" stroke="#22a022" stroke-width="0.8" stroke-linecap="butt" opacity="0.88"/>
<text x="512.5" y="264.0" font-size="7.3" font-weight="bold" fill="#1fa01f">CA2</text>
<path d="M510.0 283.0C509.9 282.0 510.2 280.7 510.6 280.0C511.0 279.3 511.7 278.9 512.5 278.6C513.3 278.3 515.0 278.2 515.5 278.4C516.0 278.6 516.1 279.5 515.8 280.0C515.5 280.5 514.2 280.8 513.8 281.5C513.4 282.2 513.3 283.7 513.6 284.5C513.9 285.3 515.4 285.8 515.5 286.2C515.6 286.6 514.7 287.0 514.0 287.0C513.3 287.0 512.0 286.9 511.3 286.2C510.6 285.5 510.1 284.0 510.0 283.0Z" fill="#e8283a" opacity="0.15" filter="url(#bl0)"/>
<path d="M510.0 283.0C509.9 282.0 510.2 280.7 510.6 280.0C511.0 279.3 511.7 278.9 512.5 278.6C513.3 278.3 515.0 278.2 515.5 278.4C516.0 278.6 516.1 279.5 515.8 280.0C515.5 280.5 514.2 280.8 513.8 281.5C513.4 282.2 513.3 283.7 513.6 284.5C513.9 285.3 515.4 285.8 515.5 286.2C515.6 286.6 514.7 287.0 514.0 287.0C513.3 287.0 512.0 286.9 511.3 286.2C510.6 285.5 510.1 284.0 510.0 283.0Z" fill="#e8283a" filter="url(#sc3)"/>
<path d="M511.4 279.5C512.0 278.1 514.4 278.6 516.0 278.3C517.6 278.0 519.1 277.7 521.0 277.9C522.9 278.1 525.9 279.1 527.1 279.5C528.3 279.9 528.7 279.7 528.0 280.4C527.3 281.1 524.5 282.6 522.8 283.5C521.0 284.4 519.2 285.6 517.5 286.1C515.8 286.6 513.3 287.6 512.3 286.5C511.3 285.4 510.8 280.9 511.4 279.5Z" fill="#e8283a" opacity="0.05" filter="url(#bl0)"/>
<path d="M511.4 279.5C512.0 278.1 514.4 278.6 516.0 278.3C517.6 278.0 519.1 277.7 521.0 277.9C522.9 278.1 525.9 279.1 527.1 279.5C528.3 279.9 528.7 279.7 528.0 280.4C527.3 281.1 524.5 282.6 522.8 283.5C521.0 284.4 519.2 285.6 517.5 286.1C515.8 286.6 513.3 287.6 512.3 286.5C511.3 285.4 510.8 280.9 511.4 279.5Z" fill="#e8283a" filter="url(#sc43)"/>
<path d="M512.3 286.5C513.2 286.4 515.8 286.6 517.5 286.1C519.2 285.6 521.0 284.4 522.8 283.5C524.5 282.6 527.1 280.9 528.0 280.4" fill="none" stroke="#e8283a" stroke-width="0.8" stroke-linecap="butt" opacity="0.62" stroke-dasharray="1.3 .5 .7 .4 2 .6 .5 .5"/>
<path d="M513.0 279.0C513.8 278.9 516.0 278.3 517.5 278.1C519.0 277.9 520.4 277.8 522.0 278.0C523.6 278.2 526.2 279.2 527.0 279.5" fill="none" stroke="#e8283a" stroke-width="0.7" stroke-linecap="butt" opacity="0.50" stroke-dasharray=".8 .5 1.6 .4 .6 .6 2.2 .5"/>
<path d="M515.0 285.0C515.7 284.6 517.5 283.3 519.0 282.5C520.5 281.7 523.2 280.7 524.0 280.3" fill="none" stroke="#e8283a" stroke-width="0.7" stroke-linecap="butt" opacity="0.50" stroke-dasharray="2 .4 .5 .5 1 .3 .7 .6"/>
<path d="M536.5 281.0C536.5 281.5 536.3 282.0 536.0 282.4C535.7 282.7 535.1 283.0 534.6 283.2C534.1 283.3 533.5 283.3 533.0 283.2C532.5 283.0 531.9 282.7 531.6 282.4C531.3 282.0 531.1 281.5 531.1 281.0C531.1 280.5 531.3 280.0 531.6 279.6C531.9 279.3 532.5 279.0 533.0 278.8C533.5 278.7 534.1 278.7 534.6 278.8C535.1 279.0 535.7 279.3 536.0 279.6C536.3 280.0 536.5 280.5 536.5 281.0Z" fill="#e8283a" opacity="0.08" filter="url(#bl0)"/>
<path d="M536.5 281.0C536.5 281.5 536.3 282.0 536.0 282.4C535.7 282.7 535.1 283.0 534.6 283.2C534.1 283.3 533.5 283.3 533.0 283.2C532.5 283.0 531.9 282.7 531.6 282.4C531.3 282.0 531.1 281.5 531.1 281.0C531.1 280.5 531.3 280.0 531.6 279.6C531.9 279.3 532.5 279.0 533.0 278.8C533.5 278.7 534.1 278.7 534.6 278.8C535.1 279.0 535.7 279.3 536.0 279.6C536.3 280.0 536.5 280.5 536.5 281.0Z" fill="#e8283a" filter="url(#sc5)"/>
<path d="M532.4 280.0C532.6 280.1 533.2 280.7 533.4 280.8" fill="none" stroke="#c8101f" stroke-width="1.4" stroke-linecap="butt" opacity="1.00"/>
<path d="M529.3 272.1C529.8 272.4 531.5 273.1 532.6 273.7C533.7 274.3 535.4 275.3 535.9 275.6" fill="none" stroke="#e8283a" stroke-width="0.8" stroke-linecap="butt" opacity="0.75"/>
<path d="M535.5 276.0C535.5 276.4 535.8 277.9 535.8 278.3" fill="none" stroke="#e8283a" stroke-width="0.7" stroke-linecap="butt" opacity="0.50"/>
<path d="M536.8 281.3C537.2 281.1 538.5 280.4 539.3 279.8C540.1 279.2 541.2 278.2 541.6 277.9" fill="none" stroke="#e8283a" stroke-width="0.7" stroke-linecap="butt" opacity="0.56"/>
<text x="536.5" y="272.9" font-size="7.3" font-weight="bold" fill="#e3192b">CA3</text>
<path d="M574.6 285.0C574.5 281.9 575.4 278.8 576.4 276.3C577.4 273.8 578.9 271.6 580.8 270.1C582.7 268.6 585.6 267.6 587.8 267.5C590.0 267.4 592.0 267.8 593.9 269.3C595.8 270.8 597.5 274.4 599.2 276.3C601.0 278.2 602.5 279.5 604.4 280.7C606.3 281.9 609.3 282.1 610.6 283.3C611.9 284.5 612.8 286.4 612.3 287.7C611.8 289.0 609.6 290.2 607.9 291.2C606.1 292.2 603.2 292.5 601.8 293.8C600.3 295.1 600.2 297.1 599.2 299.1C598.2 301.2 597.6 304.9 595.7 306.1C593.8 307.3 590.1 306.8 587.8 306.1C585.4 305.4 583.4 303.6 581.6 301.7C579.9 299.8 578.5 297.5 577.3 294.7C576.1 291.9 574.8 288.1 574.6 285.0Z" fill="#2f7fd0" opacity="0.1" filter="url(#bl0)"/>
<path d="M574.6 285.0C574.5 281.9 575.4 278.8 576.4 276.3C577.4 273.8 578.9 271.6 580.8 270.1C582.7 268.6 585.6 267.6 587.8 267.5C590.0 267.4 592.0 267.8 593.9 269.3C595.8 270.8 597.5 274.4 599.2 276.3C601.0 278.2 602.5 279.5 604.4 280.7C606.3 281.9 609.3 282.1 610.6 283.3C611.9 284.5 612.8 286.4 612.3 287.7C611.8 289.0 609.6 290.2 607.9 291.2C606.1 292.2 603.2 292.5 601.8 293.8C600.3 295.1 600.2 297.1 599.2 299.1C598.2 301.2 597.6 304.9 595.7 306.1C593.8 307.3 590.1 306.8 587.8 306.1C585.4 305.4 583.4 303.6 581.6 301.7C579.9 299.8 578.5 297.5 577.3 294.7C576.1 291.9 574.8 288.1 574.6 285.0Z" fill="#2f7fd0" filter="url(#sc21)"/>
<path d="M595.5 286.2C595.8 289.5 595.6 293.5 595.0 296.3C594.3 299.0 593.0 301.6 591.6 302.8C590.3 304.0 588.3 304.2 586.7 303.3C585.1 302.5 583.3 300.2 582.1 297.6C580.9 295.0 579.9 291.1 579.5 287.8C579.2 284.5 579.4 280.5 580.0 277.7C580.7 275.0 582.0 272.4 583.4 271.2C584.7 270.0 586.7 269.8 588.3 270.7C589.9 271.5 591.7 273.8 592.9 276.4C594.1 279.0 595.1 282.9 595.5 286.2Z" fill="#2f7fd0" opacity="0.16" filter="url(#bl1)"/>
<path d="M595.5 286.2C595.8 289.5 595.6 293.5 595.0 296.3C594.3 299.0 593.0 301.6 591.6 302.8C590.3 304.0 588.3 304.2 586.7 303.3C585.1 302.5 583.3 300.2 582.1 297.6C580.9 295.0 579.9 291.1 579.5 287.8C579.2 284.5 579.4 280.5 580.0 277.7C580.7 275.0 582.0 272.4 583.4 271.2C584.7 270.0 586.7 269.8 588.3 270.7C589.9 271.5 591.7 273.8 592.9 276.4C594.1 279.0 595.1 282.9 595.5 286.2Z" fill="#2f7fd0" filter="url(#sc44)"/>
<path d="M555.9 292.3C555.3 291.0 558.8 287.4 560.1 285.0C561.4 282.6 561.9 279.4 563.6 278.0C565.4 276.6 568.7 276.3 570.6 276.3C572.5 276.3 574.1 275.4 575.0 278.0C575.9 280.6 577.9 289.5 576.0 292.0C574.1 294.5 567.0 292.8 563.6 292.9C560.2 292.9 556.5 293.6 555.9 292.3Z" fill="#2f7fd0" opacity="0.07" filter="url(#bl0)"/>
<path d="M555.9 292.3C555.3 291.0 558.8 287.4 560.1 285.0C561.4 282.6 561.9 279.4 563.6 278.0C565.4 276.6 568.7 276.3 570.6 276.3C572.5 276.3 574.1 275.4 575.0 278.0C575.9 280.6 577.9 289.5 576.0 292.0C574.1 294.5 567.0 292.8 563.6 292.9C560.2 292.9 556.5 293.6 555.9 292.3Z" fill="#2f7fd0" filter="url(#sc45)"/>
<path d="M598.0 271.0C599.0 268.0 602.2 268.5 604.0 269.0C605.8 269.5 608.0 271.5 609.0 274.0C610.0 276.5 610.8 281.3 610.0 284.0C609.2 286.7 606.0 289.5 604.0 290.0C602.0 290.5 599.0 290.2 598.0 287.0C597.0 283.8 597.0 274.0 598.0 271.0Z" fill="#2f7fd0" opacity="0.04" filter="url(#bl0)"/>
<path d="M598.0 271.0C599.0 268.0 602.2 268.5 604.0 269.0C605.8 269.5 608.0 271.5 609.0 274.0C610.0 276.5 610.8 281.3 610.0 284.0C609.2 286.7 606.0 289.5 604.0 290.0C602.0 290.5 599.0 290.2 598.0 287.0C597.0 283.8 597.0 274.0 598.0 271.0Z" fill="#2f7fd0" filter="url(#sc46)"/>
<path d="M603.2 274.6C603.7 275.4 605.0 277.9 606.0 279.5C607.0 281.1 608.6 283.6 609.1 284.4" fill="none" stroke="#3a5a8a" stroke-width="0.8" stroke-linecap="butt" opacity="0.62" stroke-dasharray=".8 .5 1.6 .4 .6 .6 2.2 .5"/>
<path d="M598.0 272.5C598.3 273.2 599.2 275.3 600.0 277.0C600.8 278.7 602.5 281.6 603.0 282.5" fill="none" stroke="#3a5a8a" stroke-width="0.7" stroke-linecap="butt" opacity="0.44" stroke-dasharray="2 .4 .5 .5 1 .3 .7 .6"/>
<circle cx="563.8" cy="277.5" r="0.8" fill="#ff7a9a" opacity="0.6"/>
<text x="562.2" y="267.8" font-size="7.3" font-weight="bold" fill="#1f6fc6">CA1</text>
<path d="M604.4 269.3C605.1 268.1 608.1 267.2 610.6 266.6C613.1 266.0 616.8 265.1 619.3 265.4C621.8 265.7 623.9 267.0 625.4 268.4C626.9 269.8 627.1 271.9 628.1 273.7C629.1 275.4 631.8 277.4 631.6 278.9C631.5 280.3 629.2 281.4 627.2 282.4C625.2 283.4 621.8 284.9 619.3 285.0C616.8 285.1 614.2 284.5 612.3 283.3C610.4 282.1 608.9 279.6 607.9 278.0C606.9 276.4 606.8 275.1 606.2 273.7C605.6 272.2 603.7 270.5 604.4 269.3Z" fill="#ff962e" opacity="0.09" filter="url(#bl0)"/>
<path d="M604.4 269.3C605.1 268.1 608.1 267.2 610.6 266.6C613.1 266.0 616.8 265.1 619.3 265.4C621.8 265.7 623.9 267.0 625.4 268.4C626.9 269.8 627.1 271.9 628.1 273.7C629.1 275.4 631.8 277.4 631.6 278.9C631.5 280.3 629.2 281.4 627.2 282.4C625.2 283.4 621.8 284.9 619.3 285.0C616.8 285.1 614.2 284.5 612.3 283.3C610.4 282.1 608.9 279.6 607.9 278.0C606.9 276.4 606.8 275.1 606.2 273.7C605.6 272.2 603.7 270.5 604.4 269.3Z" fill="#ff962e" filter="url(#sc25)"/>
<path d="M607.0 282.0C607.4 280.5 610.2 278.8 612.0 279.0C613.8 279.2 617.5 281.5 618.0 283.0C618.5 284.5 616.4 287.2 615.0 288.0C613.6 288.8 610.8 289.0 609.5 288.0C608.2 287.0 606.6 283.5 607.0 282.0Z" fill="#ff962e" opacity="0.03" filter="url(#bl0)"/>
<path d="M607.0 282.0C607.4 280.5 610.2 278.8 612.0 279.0C613.8 279.2 617.5 281.5 618.0 283.0C618.5 284.5 616.4 287.2 615.0 288.0C613.6 288.8 610.8 289.0 609.5 288.0C608.2 287.0 606.6 283.5 607.0 282.0Z" fill="#ff962e" filter="url(#sc46)"/>
<text x="586.4" y="261.3" font-size="7.3" font-weight="bold" fill="#ff8c1a">CA1-ProS</text>
<path d="M622.8 263.1C623.7 262.1 628.4 262.0 631.6 261.4C634.8 260.8 638.0 259.9 642.1 259.6C646.2 259.3 652.0 259.2 656.1 259.6C660.2 260.1 664.0 261.0 666.6 262.3C669.2 263.6 672.2 266.8 671.9 267.5C671.6 268.2 667.5 266.9 664.9 266.6C662.3 266.3 658.7 265.5 656.1 265.8C653.5 266.1 651.2 267.2 649.1 268.4C647.0 269.6 645.3 271.5 643.8 272.8C642.3 274.1 642.0 276.5 640.3 276.3C638.5 276.1 635.6 273.4 633.3 271.9C631.0 270.4 628.0 269.0 626.3 267.5C624.5 266.0 621.9 264.1 622.8 263.1Z" fill="#5f5f5f" opacity="0.03" filter="url(#bl0)"/>
<path d="M622.8 263.1C623.7 262.1 628.4 262.0 631.6 261.4C634.8 260.8 638.0 259.9 642.1 259.6C646.2 259.3 652.0 259.2 656.1 259.6C660.2 260.1 664.0 261.0 666.6 262.3C669.2 263.6 672.2 266.8 671.9 267.5C671.6 268.2 667.5 266.9 664.9 266.6C662.3 266.3 658.7 265.5 656.1 265.8C653.5 266.1 651.2 267.2 649.1 268.4C647.0 269.6 645.3 271.5 643.8 272.8C642.3 274.1 642.0 276.5 640.3 276.3C638.5 276.1 635.6 273.4 633.3 271.9C631.0 270.4 628.0 269.0 626.3 267.5C624.5 266.0 621.9 264.1 622.8 263.1Z" fill="#5f5f5f" filter="url(#sc14)"/>
<path d="M625.9 263.7C626.8 264.3 629.3 266.1 631.0 267.5C632.7 268.9 634.4 270.5 636.0 271.8C637.6 273.1 639.9 274.9 640.7 275.5" fill="none" stroke="#2a2a2a" stroke-width="0.8" stroke-linecap="butt" opacity="0.81" stroke-dasharray="1.3 .5 .7 .4 2 .6 .5 .5"/>
<path d="M632.0 264.0C633.0 264.6 636.0 266.2 638.0 267.3C640.0 268.4 642.1 269.8 644.0 270.8C645.9 271.9 648.6 273.1 649.5 273.6" fill="none" stroke="#3a3a3a" stroke-width="0.8" stroke-linecap="butt" opacity="0.62" stroke-dasharray=".8 .5 1.6 .4 .6 .6 2.2 .5"/>
<path d="M634.7 261.8C636.4 261.5 641.4 260.2 645.0 259.8C648.6 259.4 653.1 258.8 656.4 259.2C659.7 259.6 662.5 260.8 665.0 262.0C667.5 263.2 670.2 265.9 671.2 266.7" fill="none" stroke="#555" stroke-width="0.8" stroke-linecap="butt" opacity="0.62" stroke-dasharray="2 .4 .5 .5 1 .3 .7 .6"/>
<path d="M640.0 263.5C641.7 263.2 646.7 262.1 650.0 262.0C653.3 261.9 657.0 262.1 660.0 262.8C663.0 263.5 666.7 265.5 668.0 266.0" fill="none" stroke="#666" stroke-width="0.7" stroke-linecap="butt" opacity="0.50" stroke-dasharray="1.3 .5 .7 .4 2 .6 .5 .5"/>
<path d="M644.0 266.5C645.3 266.2 649.3 264.8 652.0 264.5C654.7 264.2 657.8 264.7 660.0 265.0C662.2 265.3 664.2 266.2 665.0 266.5" fill="none" stroke="#777" stroke-width="0.7" stroke-linecap="butt" opacity="0.44" stroke-dasharray=".8 .5 1.6 .4 .6 .6 2.2 .5"/>
<path d="M626.6 262.2C626.7 262.4 627.2 263.0 627.3 263.2" fill="none" stroke="#222" stroke-width="1.0" stroke-linecap="butt" opacity="1.00"/>
<text x="617.6" y="253.4" font-size="7.3" font-weight="bold" fill="#808080">SUB-ProS</text>
<path d="M614.1 198.0C614.2 197.1 614.7 195.1 615.5 194.0C616.3 192.9 617.6 191.9 619.0 191.2C620.4 190.5 622.3 190.1 624.0 189.8C625.7 189.5 628.0 189.3 629.0 189.6C630.0 189.9 630.1 190.7 629.8 191.5C629.5 192.3 628.2 193.6 627.0 194.5C625.8 195.4 624.0 196.2 622.5 196.8C621.0 197.4 619.2 197.9 618.0 198.3C616.8 198.7 615.6 199.2 615.0 199.2C614.4 199.1 614.0 198.9 614.1 198.0Z" fill="#ff4fd0" opacity="0.15" filter="url(#bl0)"/>
<path d="M614.1 198.0C614.2 197.1 614.7 195.1 615.5 194.0C616.3 192.9 617.6 191.9 619.0 191.2C620.4 190.5 622.3 190.1 624.0 189.8C625.7 189.5 628.0 189.3 629.0 189.6C630.0 189.9 630.1 190.7 629.8 191.5C629.5 192.3 628.2 193.6 627.0 194.5C625.8 195.4 624.0 196.2 622.5 196.8C621.0 197.4 619.2 197.9 618.0 198.3C616.8 198.7 615.6 199.2 615.0 199.2C614.4 199.1 614.0 198.9 614.1 198.0Z" fill="#ff4fd0" filter="url(#sc47)"/>
<path d="M615.0 197.5C615.7 196.8 617.5 194.6 619.0 193.5C620.5 192.4 622.3 191.7 624.0 191.2C625.7 190.7 628.2 190.6 629.0 190.5" fill="none" stroke="#ff4fd0" stroke-width="0.9" stroke-linecap="butt" opacity="0.69" stroke-dasharray="1.3 .5 .7 .4 2 .6 .5 .5"/>
<path d="M616.5 198.3C617.2 197.9 619.4 196.8 621.0 196.0C622.6 195.2 625.2 193.7 626.0 193.2" fill="none" stroke="#ff4fd0" stroke-width="0.8" stroke-linecap="butt" opacity="0.56" stroke-dasharray=".8 .5 1.6 .4 .6 .6 2.2 .5"/>
<text x="586.0" y="199.1" font-size="7.3" font-weight="bold" fill="#ff3fc9">NP SUB</text>
<path d="M626.3 221.9C626.4 220.6 629.2 217.4 630.7 215.8C632.2 214.2 633.2 212.7 635.1 212.3C637.0 212.0 639.9 212.5 642.1 213.7C644.3 214.9 646.8 217.4 648.2 219.3C649.7 221.2 650.6 223.8 650.8 225.4C650.9 227.0 650.5 228.5 649.1 228.9C647.7 229.3 644.4 228.7 642.1 228.1C639.8 227.5 637.2 226.1 635.1 225.4C633.0 224.7 631.3 224.3 629.8 223.7C628.3 223.1 626.1 223.2 626.3 221.9Z" fill="#8246c8" opacity="0.2" filter="url(#bl0)"/>
<path d="M626.3 221.9C626.4 220.6 629.2 217.4 630.7 215.8C632.2 214.2 633.2 212.7 635.1 212.3C637.0 212.0 639.9 212.5 642.1 213.7C644.3 214.9 646.8 217.4 648.2 219.3C649.7 221.2 650.6 223.8 650.8 225.4C650.9 227.0 650.5 228.5 649.1 228.9C647.7 229.3 644.4 228.7 642.1 228.1C639.8 227.5 637.2 226.1 635.1 225.4C633.0 224.7 631.3 224.3 629.8 223.7C628.3 223.1 626.1 223.2 626.3 221.9Z" fill="#8246c8" filter="url(#sc16)"/>
<text x="597.1" y="224.5" font-size="7.3" font-weight="bold" fill="#7a3fc0">CT SUB</text>
<text x="48.0" y="350.6" font-size="12.5" font-weight="bold" fill="#000">g</text>
<path d="M335.00 493.10L335.00 428.70A64.4 64.4 0 0 0 284.11 453.63Z" fill="#4472c4" stroke="#fff" stroke-width="0.9" stroke-linejoin="round"/>
<path d="M335.00 493.10L284.11 453.63A64.4 64.4 0 0 0 272.05 479.49Z" fill="#ed7d31" stroke="#fff" stroke-width="0.9" stroke-linejoin="round"/>
<path d="M335.00 493.10L272.05 479.49A64.4 64.4 0 0 0 275.99 518.88Z" fill="#70ad47" stroke="#fff" stroke-width="0.9" stroke-linejoin="round"/>
<path d="M335.00 493.10L275.99 518.88A64.4 64.4 0 0 0 288.05 537.18Z" fill="#ffc000" stroke="#fff" stroke-width="0.9" stroke-linejoin="round"/>
<path d="M335.00 493.10L288.05 537.18A64.4 64.4 0 0 0 299.93 547.11Z" fill="#5b9bd5" stroke="#fff" stroke-width="0.9" stroke-linejoin="round"/>
<path d="M335.00 493.10L299.93 547.11A64.4 64.4 0 0 0 309.94 552.42Z" fill="#9e480e" stroke="#fff" stroke-width="0.9" stroke-linejoin="round"/>
<path d="M335.00 493.10L309.94 552.42A64.4 64.4 0 0 0 319.42 555.59Z" fill="#264478" stroke="#fff" stroke-width="0.9" stroke-linejoin="round"/>
<path d="M335.00 493.10L319.42 555.59A64.4 64.4 0 0 0 335.00 557.50Z" fill="#a5a5a5" stroke="#fff" stroke-width="0.9" stroke-linejoin="round"/>
<path d="M270 364.5H334.9V557.6" fill="none" stroke="#222" stroke-width="0.9"/>
<text x="277.0" y="377.9" font-size="13.3" font-weight="bold" textLength="55.3" lengthAdjust="spacingAndGlyphs" fill="#000">Synaptic</text>
<rect x="118.3" y="362.2" width="140.4" height="64.9" fill="#c6d2ee"/>
<line x1="258.7" y1="362.2" x2="258.7" y2="427.1" stroke="#444" stroke-width="0.7"/>
<text x="254.7" y="370.9" font-size="6.25" text-anchor="end" textLength="124.5" lengthAdjust="spacingAndGlyphs" fill="#1c1c1c" stroke="#1c1c1c" stroke-width="0.12">Transmission Across Chemical Synapses</text>
<text x="254.7" y="379.8" font-size="6.25" text-anchor="end" textLength="128.9" lengthAdjust="spacingAndGlyphs" fill="#1c1c1c" stroke="#1c1c1c" stroke-width="0.12">Regulation of Synapse Structure or Activity</text>
<text x="254.7" y="388.7" font-size="6.25" text-anchor="end" textLength="130.4" lengthAdjust="spacingAndGlyphs" fill="#1c1c1c" stroke="#1c1c1c" stroke-width="0.12">Intrinsic Component of Synaptic Membrane</text>
<text x="254.7" y="397.6" font-size="6.25" text-anchor="end" textLength="48.4" lengthAdjust="spacingAndGlyphs" fill="#1c1c1c" stroke="#1c1c1c" stroke-width="0.12">BDNF Signaling</text>
<text x="254.7" y="406.2" font-size="6.25" text-anchor="end" textLength="78.6" lengthAdjust="spacingAndGlyphs" fill="#1c1c1c" stroke="#1c1c1c" stroke-width="0.12">Neurexins and neuroligins</text>
<text x="254.7" y="415.1" font-size="6.25" text-anchor="end" textLength="90.3" lengthAdjust="spacingAndGlyphs" fill="#1c1c1c" stroke="#1c1c1c" stroke-width="0.12">Synaptic Membrane Adhesion</text>
<text x="254.7" y="424.0" font-size="6.25" text-anchor="end" textLength="101.3" lengthAdjust="spacingAndGlyphs" fill="#1c1c1c" stroke="#1c1c1c" stroke-width="0.12">Structural Constituent fo Synapse</text>
<rect x="78.5" y="434.0" width="119.9" height="38.0" fill="#fbd8c3"/>
<line x1="198.4" y1="434.0" x2="198.4" y2="472.0" stroke="#444" stroke-width="0.7"/>
<text x="197.0" y="442.0" font-size="6.25" text-anchor="end" textLength="34.0" lengthAdjust="spacingAndGlyphs" fill="#1c1c1c" stroke="#1c1c1c" stroke-width="0.12">Distal Axon</text>
<text x="197.0" y="450.9" font-size="6.25" text-anchor="end" textLength="117.6" lengthAdjust="spacingAndGlyphs" fill="#1c1c1c" stroke="#1c1c1c" stroke-width="0.12">Vesicle Mediated Transport in Synapse</text>
<text x="197.0" y="461.6" font-size="6.25" text-anchor="end" textLength="46.5" lengthAdjust="spacingAndGlyphs" fill="#1c1c1c" stroke="#1c1c1c" stroke-width="0.12">Axon Guidance</text>
<text x="197.0" y="470.5" font-size="6.25" text-anchor="end" textLength="55.9" lengthAdjust="spacingAndGlyphs" fill="#1c1c1c" stroke="#1c1c1c" stroke-width="0.12">Serotonin Release</text>
<rect x="65.2" y="478.6" width="123.1" height="40.6" fill="#cfe2c4"/>
<line x1="188.3" y1="478.6" x2="188.3" y2="519.2" stroke="#444" stroke-width="0.7"/>
<text x="185.3" y="484.0" font-size="6.25" text-anchor="end" textLength="72.9" lengthAdjust="spacingAndGlyphs" fill="#1c1c1c" stroke="#1c1c1c" stroke-width="0.12">Postsynaptic Membrane</text>
<text x="185.3" y="492.2" font-size="6.25" text-anchor="end" textLength="41.6" lengthAdjust="spacingAndGlyphs" fill="#1c1c1c" stroke="#1c1c1c" stroke-width="0.12">Neuron Spine</text>
<text x="185.3" y="500.6" font-size="6.25" text-anchor="end" textLength="83.9" lengthAdjust="spacingAndGlyphs" fill="#1c1c1c" stroke="#1c1c1c" stroke-width="0.12">Glutamate Receptor Activity</text>
<text x="185.3" y="508.8" font-size="6.25" text-anchor="end" textLength="119.1" lengthAdjust="spacingAndGlyphs" fill="#1c1c1c" stroke="#1c1c1c" stroke-width="0.12">G-Protein Coupled Glutamate R. Signal</text>
<text x="185.3" y="517.7" font-size="6.25" text-anchor="end" textLength="117.8" lengthAdjust="spacingAndGlyphs" fill="#1c1c1c" stroke="#1c1c1c" stroke-width="0.12">Reg. of Postsynaptic  NT Receptor Act.</text>
<rect x="64.0" y="526.9" width="134.8" height="46.7" fill="#fee8ac"/>
<line x1="198.8" y1="526.9" x2="198.8" y2="573.6" stroke="#444" stroke-width="0.7"/>
<text x="196.0" y="535.4" font-size="6.25" text-anchor="end" textLength="127.7" lengthAdjust="spacingAndGlyphs" fill="#1c1c1c" stroke="#1c1c1c" stroke-width="0.12">Activation of NMDAR and Postsyn. Events</text>
<text x="196.0" y="544.2" font-size="6.25" text-anchor="end" textLength="91.3" lengthAdjust="spacingAndGlyphs" fill="#1c1c1c" stroke="#1c1c1c" stroke-width="0.12">Trafficking of AMPA Receptors</text>
<text x="196.0" y="552.9" font-size="6.25" text-anchor="end" textLength="125.9" lengthAdjust="spacingAndGlyphs" fill="#1c1c1c" stroke="#1c1c1c" stroke-width="0.12">Unblocking of NMDAR Glutamate Binding</text>
<text x="196.0" y="562.0" font-size="6.25" text-anchor="end" textLength="86.9" lengthAdjust="spacingAndGlyphs" fill="#1c1c1c" stroke="#1c1c1c" stroke-width="0.12">Activity of Kainate Receptors</text>
<text x="196.0" y="570.6" font-size="6.25" text-anchor="end" textLength="125.7" lengthAdjust="spacingAndGlyphs" fill="#1c1c1c" stroke="#1c1c1c" stroke-width="0.12">Reg. of Postsynaptic NT Receptor Activity</text>
<line x1="258.7" y1="421.8" x2="261.0" y2="421.8" stroke="#111" stroke-width="0.9"/>
<line x1="198.4" y1="470.2" x2="201.5" y2="470.2" stroke="#111" stroke-width="0.9"/>
<line x1="188.3" y1="498.6" x2="191.0" y2="498.6" stroke="#111" stroke-width="0.9"/>
<line x1="198.8" y1="527.2" x2="202.5" y2="527.2" stroke="#111" stroke-width="0.9"/>
<text x="263.4" y="425.6" font-size="7.56" font-weight="bold" fill="#111">Chemical Synapse</text>
<text x="202.7" y="472.9" font-size="7.56" font-weight="bold" fill="#111">Presynaptic Compartment</text>
<text x="191.7" y="501.4" font-size="7.56" font-weight="bold" fill="#111">Postsynaptic Compartment</text>
<text x="203.4" y="530.6" font-size="7.56" font-weight="bold" fill="#111">Ionotropic Glutamate Rs</text>
<text x="225.5" y="547.2" font-size="7.56" font-weight="bold" fill="#111">Calcium Signaling</text>
<text x="238.9" y="558.2" font-size="7.56" font-weight="bold" fill="#111">Synaptic Plasticity</text>
<text x="251.9" y="571.5" font-size="7.56" font-weight="bold" fill="#111">Synaptopathies</text>
<text x="317.1" y="568.0" font-size="7.56" font-weight="bold" fill="#111">Other</text>
<line x1="309.2" y1="564.8" x2="313.8" y2="555.0" stroke="#222" stroke-width="0.6"/>
<path d="M351.20 493.10L351.20 428.30A64.8 64.8 0 0 1 377.56 433.90Z" fill="#4472c4" stroke="#fff" stroke-width="0.9" stroke-linejoin="round"/>
<path d="M351.20 493.10L377.56 433.90A64.8 64.8 0 0 1 415.99 494.23Z" fill="#ed7d31" stroke="#fff" stroke-width="0.9" stroke-linejoin="round"/>
<path d="M351.20 493.10L415.99 494.23A64.8 64.8 0 0 1 404.92 529.34Z" fill="#70ad47" stroke="#fff" stroke-width="0.9" stroke-linejoin="round"/>
<path d="M351.20 493.10L404.92 529.34A64.8 64.8 0 0 1 392.94 542.67Z" fill="#ffc000" stroke="#fff" stroke-width="0.9" stroke-linejoin="round"/>
<path d="M351.20 493.10L392.94 542.67A64.8 64.8 0 0 1 383.80 549.11Z" fill="#5b9bd5" stroke="#fff" stroke-width="0.9" stroke-linejoin="round"/>
<path d="M351.20 493.10L383.80 549.11A64.8 64.8 0 0 1 351.20 557.90Z" fill="#a5a5a5" stroke="#fff" stroke-width="0.9" stroke-linejoin="round"/>
<path d="M415.3 364.5H350.9V558" fill="none" stroke="#222" stroke-width="0.9"/>
<text x="352.4" y="377.9" font-size="13.3" font-weight="bold" textLength="86.2" lengthAdjust="spacingAndGlyphs" fill="#000">Non-Synaptic</text>
<rect x="457.5" y="394.4" width="114.3" height="34.2" fill="#c6d2ee"/>
<line x1="457.5" y1="394.4" x2="457.5" y2="428.6" stroke="#444" stroke-width="0.7"/>
<text x="459.2" y="400.4" font-size="6.25" textLength="108.0" lengthAdjust="spacingAndGlyphs" fill="#1c1c1c" stroke="#1c1c1c" stroke-width="0.12">Regulation of Neuron Differentiation</text>
<text x="459.2" y="409.8" font-size="6.25" textLength="61.4" lengthAdjust="spacingAndGlyphs" fill="#1c1c1c" stroke="#1c1c1c" stroke-width="0.12">Alzheimer's Disease</text>
<text x="459.2" y="417.9" font-size="6.25" textLength="82.4" lengthAdjust="spacingAndGlyphs" fill="#1c1c1c" stroke="#1c1c1c" stroke-width="0.12">Sensory Perception of Pain</text>
<text x="459.2" y="426.8" font-size="6.25" textLength="51.4" lengthAdjust="spacingAndGlyphs" fill="#1c1c1c" stroke="#1c1c1c" stroke-width="0.12">Neuroinflamation</text>
<rect x="475.5" y="433.3" width="135.2" height="43.4" fill="#fbd8c3"/>
<line x1="475.5" y1="433.3" x2="475.5" y2="476.7" stroke="#444" stroke-width="0.7"/>
<text x="476.9" y="439.7" font-size="6.25" textLength="95.6" lengthAdjust="spacingAndGlyphs" fill="#1c1c1c" stroke="#1c1c1c" stroke-width="0.12">Glycosaminoglycan Metabolism</text>
<text x="476.9" y="448.6" font-size="6.25" textLength="104.3" lengthAdjust="spacingAndGlyphs" fill="#1c1c1c" stroke="#1c1c1c" stroke-width="0.12">Degradation of Extracellular Matrix</text>
<text x="476.9" y="457.5" font-size="6.25" textLength="130.4" lengthAdjust="spacingAndGlyphs" fill="#1c1c1c" stroke="#1c1c1c" stroke-width="0.12">Cellular Response to Extracellular Stimulus</text>
<text x="476.9" y="465.9" font-size="6.25" textLength="60.1" lengthAdjust="spacingAndGlyphs" fill="#1c1c1c" stroke="#1c1c1c" stroke-width="0.12">ECM Proteoglycans</text>
<text x="476.9" y="474.8" font-size="6.25" textLength="64.3" lengthAdjust="spacingAndGlyphs" fill="#1c1c1c" stroke="#1c1c1c" stroke-width="0.12">Proteoglycan Binding</text>
<rect x="493.3" y="481.1" width="105.5" height="45.4" fill="#cfe2c4"/>
<line x1="493.3" y1="481.1" x2="493.3" y2="526.5" stroke="#444" stroke-width="0.7"/>
<text x="494.9" y="488.4" font-size="6.25" textLength="75.2" lengthAdjust="spacingAndGlyphs" fill="#1c1c1c" stroke="#1c1c1c" stroke-width="0.12">Kinase Regulator Activity</text>
<text x="494.9" y="496.9" font-size="6.25" textLength="100.5" lengthAdjust="spacingAndGlyphs" fill="#1c1c1c" stroke="#1c1c1c" stroke-width="0.12">Regulation of Hormone Secretion</text>
<text x="494.9" y="505.6" font-size="6.25" textLength="97.5" lengthAdjust="spacingAndGlyphs" fill="#1c1c1c" stroke="#1c1c1c" stroke-width="0.12">Rho Protein Signal Transduction</text>
<text x="494.9" y="514.5" font-size="6.25" textLength="55.9" lengthAdjust="spacingAndGlyphs" fill="#1c1c1c" stroke="#1c1c1c" stroke-width="0.12">Signaling by PTK6</text>
<text x="494.9" y="523.3" font-size="6.25" textLength="80.9" lengthAdjust="spacingAndGlyphs" fill="#1c1c1c" stroke="#1c1c1c" stroke-width="0.12">TGFbeta Receptor Binding</text>
<rect x="467.8" y="532.1" width="170.5" height="35.1" fill="#fee8ac"/>
<line x1="467.8" y1="532.1" x2="467.8" y2="567.2" stroke="#444" stroke-width="0.7"/>
<text x="469.5" y="538.1" font-size="6.25" textLength="115.2" lengthAdjust="spacingAndGlyphs" fill="#1c1c1c" stroke="#1c1c1c" stroke-width="0.12">DNA Templated Transcription Initiation</text>
<text x="469.5" y="546.9" font-size="6.25" textLength="116.0" lengthAdjust="spacingAndGlyphs" fill="#1c1c1c" stroke="#1c1c1c" stroke-width="0.12">Activating Transcription Factor Binding</text>
<text x="469.5" y="555.8" font-size="6.25" textLength="94.9" lengthAdjust="spacingAndGlyphs" fill="#1c1c1c" stroke="#1c1c1c" stroke-width="0.12">Notch3 Regulates Transcription</text>
<text x="469.5" y="564.7" font-size="6.25" textLength="165.8" lengthAdjust="spacingAndGlyphs" fill="#1c1c1c" stroke="#1c1c1c" stroke-width="0.12">Positive Reg. of Transcription of Notch Receptor Target</text>
<line x1="454.3" y1="423.4" x2="457.5" y2="423.4" stroke="#111" stroke-width="0.9"/>
<line x1="472.5" y1="463.0" x2="475.5" y2="463.0" stroke="#111" stroke-width="0.9"/>
<line x1="490.5" y1="509.0" x2="493.3" y2="509.0" stroke="#111" stroke-width="0.9"/>
<line x1="464.8" y1="536.0" x2="467.8" y2="536.0" stroke="#111" stroke-width="0.9"/>
<text x="366.9" y="426.1" font-size="7.56" font-weight="bold" fill="#111">Realted to Nerv. System</text>
<text x="400.0" y="465.4" font-size="7.56" font-weight="bold" fill="#111">Extracellular Space</text>
<text x="408.4" y="511.7" font-size="7.56" font-weight="bold" fill="#111">Intracellular Signaling</text>
<text x="400.7" y="538.8" font-size="7.56" font-weight="bold" fill="#111">Nuclear Function</text>
<text x="400.7" y="548.4" font-size="7.56" font-weight="bold" fill="#111">&amp; Transcription</text>
<text x="355.7" y="567.1" font-size="7.56" font-weight="bold" fill="#111">Other</text>
<text x="377.4" y="575.7" font-size="7.56" font-weight="bold" fill="#111">Oxidative Phosphorylation</text>
<line x1="387.4" y1="547.3" x2="394.9" y2="557.3" stroke="#222" stroke-width="0.6"/>
<text x="70.6" y="601.2" font-size="12.3" font-weight="bold" fill="#000">h</text>
<rect x="87.3" y="606.2" width="528.0" height="13.2" fill="#bfbfbf"/>
<text x="96.2" y="616.4" font-size="7.2" text-anchor="middle" font-weight="bold" fill="#111">#</text>
<text x="106.7" y="616.4" font-size="7.2" font-weight="bold" fill="#111">Term Description</text>
<text x="395.9" y="616.4" font-size="7.2" font-weight="bold" fill="#111">Database</text>
<text x="513.5" y="616.4" font-size="7.2" text-anchor="middle" font-weight="bold" fill="#111">Fold_Enrichment</text>
<text x="581.2" y="616.4" font-size="7.2" text-anchor="middle" font-weight="bold" fill="#111">Adjusted p-value</text>
<rect x="104.4" y="620.5" width="510.9" height="14.7" fill="#ffd966"/>
<text x="96.2" y="631.5" font-size="7.36" text-anchor="middle" fill="#111">1</text>
<text x="106.7" y="631.5" font-size="7.36" fill="#111" stroke="#111" stroke-width="0.13">IONOTROPIC ACTIVITY OF KAINATE RECEPTORS</text>
<text x="395.8" y="631.5" font-size="7.36" fill="#111" stroke="#111" stroke-width="0.13">Reactome</text>
<text x="516.5" y="631.5" font-size="7.36" text-anchor="middle" fill="#111" stroke="#111" stroke-width="0.13">22,9</text>
<text x="583.1" y="631.5" font-size="7.36" text-anchor="middle" fill="#111" stroke="#111" stroke-width="0.13">7,42E-12</text>
<rect x="104.4" y="634.5" width="510.9" height="14.7" fill="#ffd966"/>
<text x="96.2" y="645.4" font-size="7.36" text-anchor="middle" fill="#111">2</text>
<text x="106.7" y="645.4" font-size="7.36" fill="#111" stroke="#111" stroke-width="0.13">G-PROTEIN COUPLED GLUTAMATE RECEPTOR SIGNALING PATHWAY</text>
<text x="395.8" y="645.4" font-size="7.36" fill="#111" stroke="#111" stroke-width="0.13">GO-Biological Process</text>
<text x="516.5" y="645.4" font-size="7.36" text-anchor="middle" fill="#111" stroke="#111" stroke-width="0.13">22,6</text>
<text x="583.1" y="645.4" font-size="7.36" text-anchor="middle" fill="#111" stroke="#111" stroke-width="0.13">1,36E-05</text>
<rect x="104.4" y="648.4" width="510.9" height="14.7" fill="#a9d18e"/>
<text x="96.2" y="659.4" font-size="7.36" text-anchor="middle" fill="#111">3</text>
<text x="106.7" y="659.4" font-size="7.36" fill="#111" stroke="#111" stroke-width="0.13">REGULATION OF SHORT TERM NEURONAL SYNAPTIC PLASTICITY</text>
<text x="395.8" y="659.4" font-size="7.36" fill="#111" stroke="#111" stroke-width="0.13">GO-Biological Process</text>
<text x="516.5" y="659.4" font-size="7.36" text-anchor="middle" fill="#111" stroke="#111" stroke-width="0.13">20,8</text>
<text x="583.1" y="659.4" font-size="7.36" text-anchor="middle" fill="#111" stroke="#111" stroke-width="0.13">1,14E-02</text>
<rect x="104.4" y="662.4" width="510.9" height="14.7" fill="#ffd966"/>
<text x="96.2" y="673.3" font-size="7.36" text-anchor="middle" fill="#111">4</text>
<text x="106.7" y="673.3" font-size="7.36" fill="#111" stroke="#111" stroke-width="0.13">GLUTAMATE RECEPTOR ACTIVITY</text>
<text x="395.8" y="673.3" font-size="7.36" fill="#111" stroke="#111" stroke-width="0.13">GO-Molecular Function</text>
<text x="516.5" y="673.3" font-size="7.36" text-anchor="middle" fill="#111" stroke="#111" stroke-width="0.13">20,6</text>
<text x="583.1" y="673.3" font-size="7.36" text-anchor="middle" fill="#111" stroke="#111" stroke-width="0.13">6,23E-18</text>
<rect x="104.4" y="676.4" width="510.9" height="14.0" fill="#ffd966"/>
<text x="96.2" y="687.3" font-size="7.36" text-anchor="middle" fill="#111">5</text>
<text x="106.7" y="687.3" font-size="7.36" fill="#111" stroke="#111" stroke-width="0.13">UNBLOCKING OF NMDA RECEPTORS GLUTAMATE BINDING AND ACTIVATION</text>
<text x="395.8" y="687.3" font-size="7.36" fill="#111" stroke="#111" stroke-width="0.13">Reactome</text>
<text x="516.5" y="687.3" font-size="7.36" text-anchor="middle" fill="#111" stroke="#111" stroke-width="0.13">20,2</text>
<text x="583.1" y="687.3" font-size="7.36" text-anchor="middle" fill="#111" stroke="#111" stroke-width="0.13">2,10E-25</text>
<text x="96.2" y="701.3" font-size="7.36" text-anchor="middle" fill="#111">6</text>
<text x="106.7" y="701.3" font-size="7.36" fill="#111" stroke="#111" stroke-width="0.13">NEURON CELL CELL ADHESION</text>
<text x="395.8" y="701.3" font-size="7.36" fill="#111" stroke="#111" stroke-width="0.13">GO-Biological Process</text>
<text x="516.5" y="701.3" font-size="7.36" text-anchor="middle" fill="#111" stroke="#111" stroke-width="0.13">20,1</text>
<text x="583.1" y="701.3" font-size="7.36" text-anchor="middle" fill="#111" stroke="#111" stroke-width="0.13">1,87E-06</text>
<rect x="104.4" y="704.3" width="510.9" height="14.7" fill="#ffd966"/>
<text x="96.2" y="715.2" font-size="7.36" text-anchor="middle" fill="#111">7</text>
<text x="106.7" y="715.2" font-size="7.36" fill="#111" stroke="#111" stroke-width="0.13">GPCRS CLASS C METABOTROPIC GLUTAMATE PHEROMONE</text>
<text x="395.8" y="715.2" font-size="7.36" fill="#111" stroke="#111" stroke-width="0.13">Wikipathways</text>
<text x="516.5" y="715.2" font-size="7.36" text-anchor="middle" fill="#111" stroke="#111" stroke-width="0.13">19,1</text>
<text x="583.1" y="715.2" font-size="7.36" text-anchor="middle" fill="#111" stroke="#111" stroke-width="0.13">3,09E-10</text>
<rect x="104.4" y="718.3" width="510.9" height="14.0" fill="#a9d18e"/>
<text x="96.2" y="729.2" font-size="7.36" text-anchor="middle" fill="#111">8</text>
<text x="106.7" y="729.2" font-size="7.36" fill="#111" stroke="#111" stroke-width="0.13">SEROTONIN NEUROTRANSMITTER RELEASE CYCLE</text>
<text x="395.8" y="729.2" font-size="7.36" fill="#111" stroke="#111" stroke-width="0.13">Reactome</text>
<text x="516.5" y="729.2" font-size="7.36" text-anchor="middle" fill="#111" stroke="#111" stroke-width="0.13">18,2</text>
<text x="583.1" y="729.2" font-size="7.36" text-anchor="middle" fill="#111" stroke="#111" stroke-width="0.13">8,97E-19</text>
<text x="96.2" y="743.2" font-size="7.36" text-anchor="middle" fill="#111">9</text>
<text x="106.7" y="743.2" font-size="7.36" fill="#111" stroke="#111" stroke-width="0.13">DISRUPTION OF POSTSYNAPTIC SIGNALLING BY CNV</text>
<text x="395.8" y="743.2" font-size="7.36" fill="#111" stroke="#111" stroke-width="0.13">Wikipathways</text>
<text x="516.5" y="743.2" font-size="7.36" text-anchor="middle" fill="#111" stroke="#111" stroke-width="0.13">17,4</text>
<text x="583.1" y="743.2" font-size="7.36" text-anchor="middle" fill="#111" stroke="#111" stroke-width="0.13">3,56E-25</text>
<rect x="104.4" y="746.2" width="510.9" height="16.0" fill="#ffd966"/>
<text x="96.2" y="757.1" font-size="7.36" text-anchor="middle" fill="#111">10</text>
<text x="106.7" y="757.1" font-size="7.36" fill="#111" stroke="#111" stroke-width="0.13">TRAFFICKING OF AMPA RECEPTORS</text>
<text x="395.8" y="757.1" font-size="7.36" fill="#111" stroke="#111" stroke-width="0.13">Reactome</text>
<text x="516.5" y="757.1" font-size="7.36" text-anchor="middle" fill="#111" stroke="#111" stroke-width="0.13">16,9</text>
<text x="583.1" y="757.1" font-size="7.36" text-anchor="middle" fill="#111" stroke="#111" stroke-width="0.13">8,75E-32</text>
<rect x="87.3" y="618.7" width="528.0" height="2.0" fill="#0a0a0a"/>
</svg>
</body></html>
